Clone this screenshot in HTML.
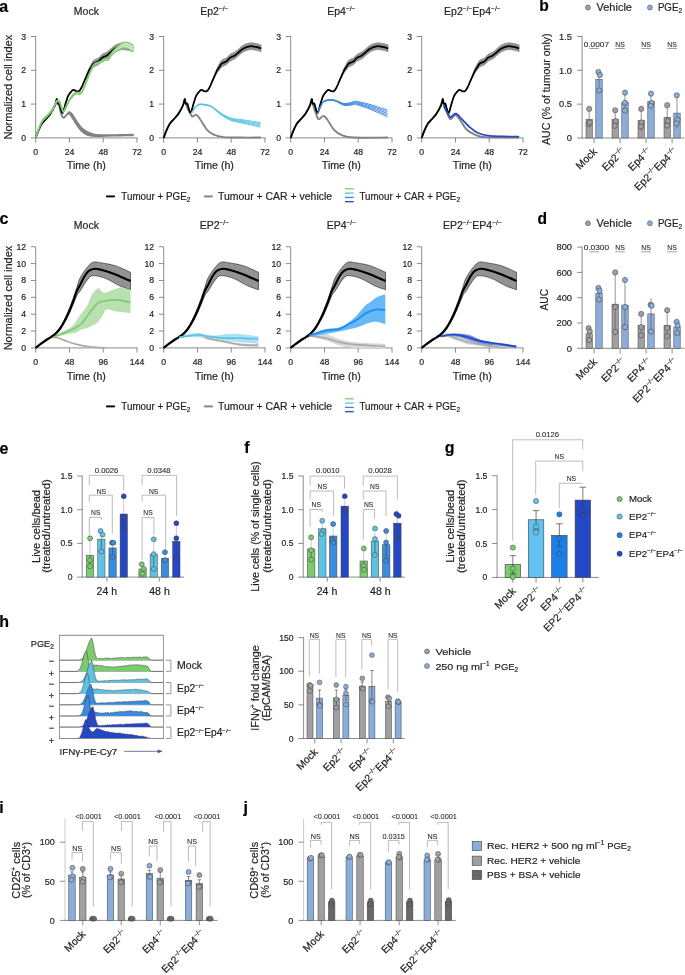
<!DOCTYPE html>
<html><head><meta charset="utf-8"><style>
html,body{margin:0;padding:0;background:#fff;width:685px;height:975px;overflow:hidden}
svg{display:block;will-change:transform}
text{font-family:"Liberation Sans", sans-serif;stroke:#231f20;stroke-width:0.2px;paint-order:stroke}
</style></head><body>
<svg width="685" height="975" viewBox="0 0 685 975">
<rect width="685" height="975" fill="#fff"/>
<text x="-0.8" y="11.8" font-size="16" text-anchor="start" fill="#000" font-weight="bold">a</text>
<line x1="35.7" y1="36" x2="35.7" y2="138.3" stroke="#6d6e71" stroke-width="0.8"/>
<line x1="35.3" y1="137.9" x2="137.4" y2="137.9" stroke="#6d6e71" stroke-width="0.8"/>
<line x1="30.8" y1="137.9" x2="35.7" y2="137.9" stroke="#6d6e71" stroke-width="0.8"/>
<text x="26.1" y="140.9" font-size="8.7" text-anchor="end" fill="#231f20">0</text>
<line x1="30.8" y1="104.1" x2="35.7" y2="104.1" stroke="#6d6e71" stroke-width="0.8"/>
<text x="26.1" y="107.1" font-size="8.7" text-anchor="end" fill="#231f20">1</text>
<line x1="30.8" y1="70.3" x2="35.7" y2="70.3" stroke="#6d6e71" stroke-width="0.8"/>
<text x="26.1" y="73.3" font-size="8.7" text-anchor="end" fill="#231f20">2</text>
<line x1="30.8" y1="36.5" x2="35.7" y2="36.5" stroke="#6d6e71" stroke-width="0.8"/>
<text x="26.1" y="39.5" font-size="8.7" text-anchor="end" fill="#231f20">3</text>
<line x1="35.7" y1="137.9" x2="35.7" y2="142.6" stroke="#6d6e71" stroke-width="0.8"/>
<text x="35.7" y="154.8" font-size="8.7" text-anchor="middle" fill="#231f20">0</text>
<line x1="69.47" y1="137.9" x2="69.47" y2="142.6" stroke="#6d6e71" stroke-width="0.8"/>
<text x="69.47" y="154.8" font-size="8.7" text-anchor="middle" fill="#231f20">24</text>
<line x1="103.23" y1="137.9" x2="103.23" y2="142.6" stroke="#6d6e71" stroke-width="0.8"/>
<text x="103.23" y="154.8" font-size="8.7" text-anchor="middle" fill="#231f20">48</text>
<line x1="137" y1="137.9" x2="137" y2="142.6" stroke="#6d6e71" stroke-width="0.8"/>
<text x="137" y="154.8" font-size="8.7" text-anchor="middle" fill="#231f20">72</text>
<text x="86.35" y="169.2" font-size="10.2" text-anchor="middle" fill="#231f20" textLength="39" lengthAdjust="spacingAndGlyphs">Time (h)</text>
<text x="86.35" y="14.6" font-size="10.5" text-anchor="middle" fill="#231f20"><tspan font-size="10.5" dy="0">Mock</tspan></text>
<path d="M35.7,137.9 C35.93,137.22 36.57,135.25 37.11,133.84 C37.65,132.44 38.15,131.14 38.94,129.45 C39.72,127.76 40.59,125.48 41.81,123.7 C43.02,121.93 44.74,120.52 46.21,118.8 C47.68,117.08 49.16,115.61 50.61,113.4 C52.07,111.18 53.91,107.9 54.93,105.49 C55.95,103.07 56.27,99.19 56.73,98.89 C57.2,98.6 57.3,102.89 57.73,103.69 C58.17,104.49 58.77,102.66 59.34,103.69 C59.9,104.73 60.55,108.38 61.14,109.91 C61.72,111.45 62.19,113.63 62.84,112.89 C63.49,112.15 64.15,108.32 65.03,105.49 C65.92,102.65 67.04,98.29 68.14,95.89 C69.25,93.49 70.7,92.08 71.65,91.09 C72.6,90.09 73.12,89.9 73.86,89.9 C74.59,89.9 75.25,90.86 76.05,91.09 C76.85,91.32 77.79,91.8 78.65,91.29 C79.52,90.78 80.24,89.96 81.26,88.01 C82.28,86.06 83.5,82.8 84.77,79.61 C86.05,76.41 87.78,71.48 88.88,68.84 C89.99,66.2 90.59,65.21 91.41,63.77 C92.24,62.32 92.59,61.16 93.81,60.16 C95.03,59.16 97.37,58.75 98.73,57.79 C100.09,56.84 100.61,55.37 101.97,54.41 C103.33,53.46 105.51,52.89 106.89,52.05 C108.27,51.2 108.91,50.47 110.27,49.34 C111.63,48.22 113.15,46.36 115.05,45.29 C116.95,44.22 119.46,43.2 121.66,42.92 C123.87,42.64 126.38,43.26 128.28,43.6 C130.18,43.94 132.26,44.72 133.06,44.95 L133.06,51.71 C132.26,51.48 130.18,50.7 128.28,50.36 C126.38,50.02 123.87,49.4 121.66,49.68 C119.46,49.96 116.95,50.98 115.05,52.05 C113.15,53.12 111.63,54.98 110.27,56.1 C108.91,57.23 108.27,57.96 106.89,58.81 C105.51,59.65 103.33,60.22 101.97,61.17 C100.61,62.13 100.09,63.6 98.73,64.55 C97.37,65.51 95.03,66 93.81,66.92 C92.59,67.84 92.24,69.04 91.41,70.07 C90.59,71.11 89.99,71.36 88.88,73.12 C87.78,74.87 86.05,78.12 84.77,80.6 C83.5,83.08 82.28,86.23 81.26,88.01 C80.24,89.79 79.52,90.78 78.65,91.29 C77.79,91.8 76.85,91.32 76.05,91.09 C75.25,90.86 74.59,89.9 73.86,89.9 C73.12,89.9 72.6,90.09 71.65,91.09 C70.7,92.08 69.25,93.49 68.14,95.89 C67.04,98.29 65.92,102.65 65.03,105.49 C64.15,108.32 63.49,112.15 62.84,112.89 C62.19,113.63 61.72,111.45 61.14,109.91 C60.55,108.38 59.9,104.73 59.34,103.69 C58.77,102.66 58.17,104.49 57.73,103.69 C57.3,102.89 57.2,98.6 56.73,98.89 C56.27,99.19 55.95,103.07 54.93,105.49 C53.91,107.9 52.07,111.18 50.61,113.4 C49.16,115.61 47.68,117.08 46.21,118.8 C44.74,120.52 43.02,121.93 41.81,123.7 C40.59,125.48 39.72,127.76 38.94,129.45 C38.15,131.14 37.65,132.44 37.11,133.84 C36.57,135.25 35.93,137.22 35.7,137.9 Z" fill="#8f8f8f" stroke="#8f8f8f" stroke-width="0.8"/>
<path d="M35.7,137.9 C35.93,137.22 36.57,135.25 37.11,133.84 C37.65,132.44 38.15,131.14 38.94,129.45 C39.72,127.76 40.59,125.48 41.81,123.7 C43.02,121.93 44.74,120.52 46.21,118.8 C47.68,117.08 49.16,115.61 50.61,113.4 C52.07,111.18 53.91,107.45 54.93,105.49 C55.95,103.52 56.07,101.6 56.73,101.6 C57.4,101.6 58.18,103.37 58.91,105.49 C59.65,107.6 60.37,112.26 61.17,114.31 C61.96,116.36 62.83,117.65 63.7,117.79 C64.57,117.92 65.48,116.04 66.37,115.12 C67.26,114.19 68.17,112.47 69.04,112.24 C69.92,112.02 70.47,112.38 71.65,113.77 C72.82,115.16 74.47,118.29 76.08,120.59 C77.69,122.9 79.41,125.68 81.28,127.59 C83.16,129.5 85.08,130.89 87.33,132.07 C89.59,133.25 91.67,134.15 94.79,134.67 C97.91,135.2 101.83,135.19 106.05,135.23 C110.27,135.27 115.61,134.99 120.12,134.89 C124.62,134.8 130.9,134.69 133.06,134.66 L133.06,135.26 C130.9,135.3 124.62,135.4 120.12,135.5 C115.61,135.6 110.27,135.72 106.05,135.84 C101.83,135.95 97.91,136.34 94.79,136.19 C91.67,136.04 89.59,135.86 87.33,134.94 C85.08,134.01 83.16,132.52 81.28,130.63 C79.41,128.75 77.69,126 76.08,123.64 C74.47,121.28 72.82,118.15 71.65,116.47 C70.47,114.79 69.92,113.76 69.04,113.53 C68.17,113.31 67.26,114.41 66.37,115.12 C65.48,115.83 64.57,117.92 63.7,117.79 C62.83,117.65 61.96,116.36 61.17,114.31 C60.37,112.26 59.65,107.6 58.91,105.49 C58.18,103.37 57.4,101.6 56.73,101.6 C56.07,101.6 55.95,103.52 54.93,105.49 C53.91,107.45 52.07,111.18 50.61,113.4 C49.16,115.61 47.68,117.08 46.21,118.8 C44.74,120.52 43.02,121.93 41.81,123.7 C40.59,125.48 39.72,127.76 38.94,129.45 C38.15,131.14 37.65,132.44 37.11,133.84 C36.57,135.25 35.93,137.22 35.7,137.9 Z" fill="#808285" stroke="#808285" stroke-width="1.8" stroke-linejoin="round"/>
<path d="M35.7,137.9 C35.93,137.22 36.57,135.25 37.11,133.84 C37.65,132.44 38.15,131.14 38.94,129.45 C39.72,127.76 40.59,125.48 41.81,123.7 C43.02,121.93 44.74,120.52 46.21,118.8 C47.68,117.08 49.16,115.61 50.61,113.4 C52.07,111.18 53.91,107.9 54.93,105.49 C55.95,103.07 56.27,99.19 56.73,98.89 C57.2,98.6 57.3,102.89 57.73,103.69 C58.17,104.49 58.77,102.66 59.34,103.69 C59.9,104.73 60.55,108.38 61.14,109.91 C61.72,111.45 62.19,113.63 62.84,112.89 C63.49,112.15 64.15,108.32 65.03,105.49 C65.92,102.65 67.04,98.29 68.14,95.89 C69.25,93.49 70.7,92.08 71.65,91.09 C72.6,90.09 73.12,89.9 73.86,89.9 C74.59,89.9 75.25,90.86 76.05,91.09 C76.85,91.32 77.79,91.8 78.65,91.29 C79.52,90.78 80.24,89.88 81.26,88.01 C82.28,86.15 83.5,82.94 84.77,80.1 C86.05,77.26 87.78,73.17 88.88,70.98 C89.99,68.78 90.59,68.16 91.41,66.92 C92.24,65.68 92.59,64.5 93.81,63.54 C95.03,62.58 97.37,62.13 98.73,61.17 C100.09,60.22 100.61,58.75 101.97,57.79 C103.33,56.84 105.51,56.27 106.89,55.43 C108.27,54.58 108.91,53.85 110.27,52.72 C111.63,51.6 113.15,49.74 115.05,48.67 C116.95,47.6 119.46,46.58 121.66,46.3 C123.87,46.02 126.38,46.64 128.28,46.98 C130.18,47.32 132.26,48.1 133.06,48.33" fill="none" stroke="#000" stroke-width="1.75" stroke-linejoin="round"/>
<path d="M35.7,137.16 C36.2,135.69 37.51,131.29 38.68,128.37 C39.85,125.45 41.17,121.98 42.71,119.65 C44.24,117.32 46.31,116.12 47.91,114.38 C49.51,112.63 50.98,111.21 52.3,109.17 C53.62,107.13 55.02,103.61 55.82,102.14 C56.62,100.67 56.5,100.56 57.09,100.35 C57.67,100.13 58.66,99.97 59.34,100.86 C60.02,101.74 60.51,103.99 61.17,105.65 C61.82,107.32 62.41,110.86 63.28,110.86 C64.14,110.86 65.27,107.69 66.37,105.65 C67.47,103.62 68.72,100.56 69.89,98.66 C71.06,96.76 72.23,95.36 73.41,94.26 C74.58,93.17 75.82,92.29 76.92,92.07 C78.03,91.85 79.06,93.32 80.02,92.95 C80.98,92.57 81.75,91.52 82.69,89.84 C83.63,88.15 83.93,86.9 85.65,82.84 C87.36,78.78 90.78,68.95 92.96,65.5 C95.14,62.05 96.67,63.25 98.73,62.12 C100.79,60.99 103.77,59.4 105.34,58.74 C106.91,58.08 107.08,59.24 108.16,58.18 C109.24,57.12 110.1,54.42 111.82,52.38 C113.53,50.34 116.51,47.55 118.43,45.94 C120.35,44.32 121.71,43.28 123.35,42.71 C124.99,42.14 126.66,42.08 128.28,42.53 C129.89,42.97 132.26,44.91 133.06,45.39 L133.06,51.95 C132.26,51.41 129.89,49.41 128.28,48.73 C126.66,48.05 124.99,47.65 123.35,47.87 C121.71,48.09 120.35,48.84 118.43,50.05 C116.51,51.25 113.53,53.42 111.82,55.09 C110.1,56.77 109.24,59.26 108.16,60.11 C107.08,60.97 106.91,59.65 105.34,60.23 C103.77,60.81 100.79,62.48 98.73,63.61 C96.67,64.73 95.14,63.53 92.96,66.99 C90.78,70.44 87.36,80.27 85.65,84.33 C83.93,88.38 83.63,89.64 82.69,91.32 C81.75,93.01 80.98,94.06 80.02,94.43 C79.06,94.81 78.03,93.33 76.92,93.55 C75.82,93.77 74.58,94.65 73.41,95.75 C72.23,96.85 71.06,98.25 69.89,100.15 C68.72,102.04 67.47,105.11 66.37,107.14 C65.27,109.18 64.14,112.35 63.28,112.35 C62.41,112.35 61.82,108.81 61.17,107.14 C60.51,105.47 60.02,103.23 59.34,102.34 C58.66,101.46 57.67,101.62 57.09,101.84 C56.5,102.05 56.62,102.16 55.82,103.63 C55.02,105.1 53.62,108.62 52.3,110.66 C50.98,112.7 49.51,114.12 47.91,115.86 C46.31,117.61 44.24,118.8 42.71,121.14 C41.17,123.47 39.85,126.94 38.68,129.86 C37.51,132.77 36.2,137.18 35.7,138.64 Z" fill="#c9e9bf" stroke="none"/>
<path d="M35.7,137.16 C36.2,135.69 37.51,131.29 38.68,128.37 C39.85,125.45 41.17,121.98 42.71,119.65 C44.24,117.32 46.31,116.12 47.91,114.38 C49.51,112.63 50.98,111.21 52.3,109.17 C53.62,107.13 55.02,103.61 55.82,102.14 C56.62,100.67 56.5,100.56 57.09,100.35 C57.67,100.13 58.66,99.97 59.34,100.86 C60.02,101.74 60.51,103.99 61.17,105.65 C61.82,107.32 62.41,110.86 63.28,110.86 C64.14,110.86 65.27,107.69 66.37,105.65 C67.47,103.62 68.72,100.56 69.89,98.66 C71.06,96.76 72.23,95.36 73.41,94.26 C74.58,93.17 75.82,92.29 76.92,92.07 C78.03,91.85 79.06,93.32 80.02,92.95 C80.98,92.57 81.75,91.52 82.69,89.84 C83.63,88.15 83.93,86.9 85.65,82.84 C87.36,78.78 90.78,68.95 92.96,65.5 C95.14,62.05 96.67,63.25 98.73,62.12 C100.79,60.99 103.77,59.4 105.34,58.74 C106.91,58.08 107.08,59.24 108.16,58.18 C109.24,57.12 110.1,54.42 111.82,52.38 C113.53,50.34 116.51,47.55 118.43,45.94 C120.35,44.32 121.71,43.28 123.35,42.71 C124.99,42.14 126.66,42.08 128.28,42.53 C129.89,42.97 132.26,44.91 133.06,45.39" fill="none" stroke="#7ccb6e" stroke-width="1.25" stroke-linejoin="round"/>
<path d="M35.7,138.64 C36.2,137.18 37.51,132.77 38.68,129.86 C39.85,126.94 41.17,123.47 42.71,121.14 C44.24,118.8 46.31,117.61 47.91,115.86 C49.51,114.12 50.98,112.7 52.3,110.66 C53.62,108.62 55.02,105.1 55.82,103.63 C56.62,102.16 56.5,102.05 57.09,101.84 C57.67,101.62 58.66,101.46 59.34,102.34 C60.02,103.23 60.51,105.47 61.17,107.14 C61.82,108.81 62.41,112.35 63.28,112.35 C64.14,112.35 65.27,109.18 66.37,107.14 C67.47,105.11 68.72,102.04 69.89,100.15 C71.06,98.25 72.23,96.85 73.41,95.75 C74.58,94.65 75.82,93.77 76.92,93.55 C78.03,93.33 79.06,94.81 80.02,94.43 C80.98,94.06 81.75,93.01 82.69,91.32 C83.63,89.64 83.93,88.38 85.65,84.33 C87.36,80.27 90.78,70.44 92.96,66.99 C95.14,63.53 96.67,64.73 98.73,63.61 C100.79,62.48 103.77,60.81 105.34,60.23 C106.91,59.65 107.08,60.97 108.16,60.11 C109.24,59.26 110.1,56.77 111.82,55.09 C113.53,53.42 116.51,51.25 118.43,50.05 C120.35,48.84 121.71,48.09 123.35,47.87 C124.99,47.65 126.66,48.05 128.28,48.73 C129.89,49.41 132.26,51.41 133.06,51.95" fill="none" stroke="#7ccb6e" stroke-width="1.25" stroke-linejoin="round"/>
<path d="M35.7,137.9 C36.2,136.44 37.51,132.03 38.68,129.11 C39.85,126.19 41.17,122.72 42.71,120.39 C44.24,118.06 46.31,116.87 47.91,115.12 C49.51,113.37 50.98,111.95 52.3,109.91 C53.62,107.87 55.02,104.35 55.82,102.88 C56.62,101.41 56.5,101.31 57.09,101.09 C57.67,100.88 58.66,100.71 59.34,101.6 C60.02,102.48 60.51,104.73 61.17,106.4 C61.82,108.07 62.41,111.6 63.28,111.6 C64.14,111.6 65.27,108.43 66.37,106.4 C67.47,104.36 68.72,101.3 69.89,99.4 C71.06,97.5 72.23,96.11 73.41,95.01 C74.58,93.91 75.82,93.03 76.92,92.81 C78.03,92.59 79.06,94.06 80.02,93.69 C80.98,93.32 81.75,92.26 82.69,90.58 C83.63,88.9 83.93,87.64 85.65,83.58 C87.36,79.53 90.78,69.7 92.96,66.24 C95.14,62.79 96.67,63.99 98.73,62.86 C100.79,61.74 103.77,60.1 105.34,59.48 C106.91,58.86 107.08,60.1 108.16,59.15 C109.24,58.19 110.1,55.6 111.82,53.74 C113.53,51.88 116.51,49.4 118.43,47.99 C120.35,46.58 121.71,45.68 123.35,45.29 C124.99,44.89 126.66,45.06 128.28,45.63 C129.89,46.19 132.26,48.16 133.06,48.67" fill="none" stroke="#7ccb6e" stroke-width="0.5" stroke-linejoin="round" opacity="0.6"/>
<line x1="163.7" y1="36" x2="163.7" y2="138.3" stroke="#6d6e71" stroke-width="0.8"/>
<line x1="163.3" y1="137.9" x2="265.4" y2="137.9" stroke="#6d6e71" stroke-width="0.8"/>
<line x1="158.8" y1="137.9" x2="163.7" y2="137.9" stroke="#6d6e71" stroke-width="0.8"/>
<text x="154.1" y="140.9" font-size="8.7" text-anchor="end" fill="#231f20">0</text>
<line x1="158.8" y1="104.1" x2="163.7" y2="104.1" stroke="#6d6e71" stroke-width="0.8"/>
<text x="154.1" y="107.1" font-size="8.7" text-anchor="end" fill="#231f20">1</text>
<line x1="158.8" y1="70.3" x2="163.7" y2="70.3" stroke="#6d6e71" stroke-width="0.8"/>
<text x="154.1" y="73.3" font-size="8.7" text-anchor="end" fill="#231f20">2</text>
<line x1="158.8" y1="36.5" x2="163.7" y2="36.5" stroke="#6d6e71" stroke-width="0.8"/>
<text x="154.1" y="39.5" font-size="8.7" text-anchor="end" fill="#231f20">3</text>
<line x1="163.7" y1="137.9" x2="163.7" y2="142.6" stroke="#6d6e71" stroke-width="0.8"/>
<text x="163.7" y="154.8" font-size="8.7" text-anchor="middle" fill="#231f20">0</text>
<line x1="197.47" y1="137.9" x2="197.47" y2="142.6" stroke="#6d6e71" stroke-width="0.8"/>
<text x="197.47" y="154.8" font-size="8.7" text-anchor="middle" fill="#231f20">24</text>
<line x1="231.23" y1="137.9" x2="231.23" y2="142.6" stroke="#6d6e71" stroke-width="0.8"/>
<text x="231.23" y="154.8" font-size="8.7" text-anchor="middle" fill="#231f20">48</text>
<line x1="265" y1="137.9" x2="265" y2="142.6" stroke="#6d6e71" stroke-width="0.8"/>
<text x="265" y="154.8" font-size="8.7" text-anchor="middle" fill="#231f20">72</text>
<text x="214.35" y="169.2" font-size="10.2" text-anchor="middle" fill="#231f20" textLength="39" lengthAdjust="spacingAndGlyphs">Time (h)</text>
<text x="214.35" y="14.6" font-size="10.5" text-anchor="middle" fill="#231f20"><tspan font-size="10.5" dy="0">Ep2</tspan><tspan font-size="6.6" dy="-3.6">−/−</tspan></text>
<path d="M163.7,137.9 C163.93,137.22 164.57,135.25 165.11,133.84 C165.65,132.44 166.15,131.14 166.94,129.45 C167.72,127.76 168.59,125.48 169.81,123.7 C171.02,121.93 172.74,120.52 174.21,118.8 C175.68,117.08 177.16,115.61 178.61,113.4 C180.07,111.18 181.91,107.9 182.93,105.49 C183.95,103.07 184.27,99.19 184.73,98.89 C185.2,98.6 185.3,102.89 185.73,103.69 C186.17,104.49 186.77,102.66 187.34,103.69 C187.9,104.73 188.55,108.38 189.14,109.91 C189.72,111.45 190.19,113.63 190.84,112.89 C191.49,112.15 192.15,108.32 193.03,105.49 C193.92,102.65 195.04,98.29 196.14,95.89 C197.25,93.49 198.7,92.08 199.65,91.09 C200.6,90.09 201.12,89.9 201.86,89.9 C202.59,89.9 203.25,90.86 204.05,91.09 C204.85,91.32 205.79,91.8 206.65,91.29 C207.52,90.78 208.24,89.96 209.26,88.01 C210.28,86.06 211.5,82.8 212.77,79.61 C214.05,76.41 215.78,71.48 216.88,68.84 C217.99,66.2 218.59,65.21 219.41,63.77 C220.24,62.32 220.59,61.16 221.81,60.16 C223.03,59.16 225.37,58.75 226.73,57.79 C228.09,56.84 228.61,55.37 229.97,54.41 C231.33,53.46 233.51,52.89 234.89,52.05 C236.27,51.2 236.91,50.47 238.27,49.34 C239.63,48.22 241.15,46.36 243.05,45.29 C244.95,44.22 247.46,43.2 249.66,42.92 C251.87,42.64 254.38,43.26 256.28,43.6 C258.18,43.94 260.26,44.72 261.06,44.95 L261.06,51.71 C260.26,51.48 258.18,50.7 256.28,50.36 C254.38,50.02 251.87,49.4 249.66,49.68 C247.46,49.96 244.95,50.98 243.05,52.05 C241.15,53.12 239.63,54.98 238.27,56.1 C236.91,57.23 236.27,57.96 234.89,58.81 C233.51,59.65 231.33,60.22 229.97,61.17 C228.61,62.13 228.09,63.6 226.73,64.55 C225.37,65.51 223.03,66 221.81,66.92 C220.59,67.84 220.24,69.04 219.41,70.07 C218.59,71.11 217.99,71.36 216.88,73.12 C215.78,74.87 214.05,78.12 212.77,80.6 C211.5,83.08 210.28,86.23 209.26,88.01 C208.24,89.79 207.52,90.78 206.65,91.29 C205.79,91.8 204.85,91.32 204.05,91.09 C203.25,90.86 202.59,89.9 201.86,89.9 C201.12,89.9 200.6,90.09 199.65,91.09 C198.7,92.08 197.25,93.49 196.14,95.89 C195.04,98.29 193.92,102.65 193.03,105.49 C192.15,108.32 191.49,112.15 190.84,112.89 C190.19,113.63 189.72,111.45 189.14,109.91 C188.55,108.38 187.9,104.73 187.34,103.69 C186.77,102.66 186.17,104.49 185.73,103.69 C185.3,102.89 185.2,98.6 184.73,98.89 C184.27,99.19 183.95,103.07 182.93,105.49 C181.91,107.9 180.07,111.18 178.61,113.4 C177.16,115.61 175.68,117.08 174.21,118.8 C172.74,120.52 171.02,121.93 169.81,123.7 C168.59,125.48 167.72,127.76 166.94,129.45 C166.15,131.14 165.65,132.44 165.11,133.84 C164.57,135.25 163.93,137.22 163.7,137.9 Z" fill="#8f8f8f" stroke="#8f8f8f" stroke-width="0.8"/>
<path d="M163.7,137.9 C163.93,137.22 164.57,135.25 165.11,133.84 C165.65,132.44 166.15,131.14 166.94,129.45 C167.72,127.76 168.59,125.48 169.81,123.7 C171.02,121.93 172.74,120.52 174.21,118.8 C175.68,117.08 177.16,115.61 178.61,113.4 C180.07,111.18 181.9,107.37 182.93,105.49 C183.96,103.6 183.98,101.46 184.8,102.07 C185.63,102.69 186.91,107.14 187.9,109.17 C188.88,111.2 189.96,113 190.71,114.24 C191.46,115.48 191.44,116.49 192.4,116.61 C193.36,116.72 195.12,114.35 196.48,114.92 C197.84,115.48 198.8,117.51 200.56,119.99 C202.32,122.46 204.85,127.35 207.03,129.79 C209.21,132.23 210.9,133.4 213.65,134.62 C216.39,135.84 218.92,136.6 223.5,137.09 C228.07,137.58 234.94,137.48 241.08,137.56 C247.23,137.64 257.14,137.56 260.36,137.56" fill="none" stroke="#808285" stroke-width="1.9" stroke-linejoin="round" stroke-linecap="round"/>
<path d="M163.7,137.9 C163.93,137.22 164.57,135.25 165.11,133.84 C165.65,132.44 166.15,131.14 166.94,129.45 C167.72,127.76 168.59,125.48 169.81,123.7 C171.02,121.93 172.74,120.52 174.21,118.8 C175.68,117.08 177.16,115.61 178.61,113.4 C180.07,111.18 181.91,107.9 182.93,105.49 C183.95,103.07 184.27,99.19 184.73,98.89 C185.2,98.6 185.3,102.89 185.73,103.69 C186.17,104.49 186.77,102.66 187.34,103.69 C187.9,104.73 188.55,108.38 189.14,109.91 C189.72,111.45 190.19,113.63 190.84,112.89 C191.49,112.15 192.15,108.32 193.03,105.49 C193.92,102.65 195.04,98.29 196.14,95.89 C197.25,93.49 198.7,92.08 199.65,91.09 C200.6,90.09 201.12,89.9 201.86,89.9 C202.59,89.9 203.25,90.86 204.05,91.09 C204.85,91.32 205.79,91.8 206.65,91.29 C207.52,90.78 208.24,89.88 209.26,88.01 C210.28,86.15 211.5,82.94 212.77,80.1 C214.05,77.26 215.78,73.17 216.88,70.98 C217.99,68.78 218.59,68.16 219.41,66.92 C220.24,65.68 220.59,64.5 221.81,63.54 C223.03,62.58 225.37,62.13 226.73,61.17 C228.09,60.22 228.61,58.75 229.97,57.79 C231.33,56.84 233.51,56.27 234.89,55.43 C236.27,54.58 236.91,53.85 238.27,52.72 C239.63,51.6 241.15,49.74 243.05,48.67 C244.95,47.6 247.46,46.58 249.66,46.3 C251.87,46.02 254.38,46.64 256.28,46.98 C258.18,47.32 260.26,48.1 261.06,48.33" fill="none" stroke="#000" stroke-width="1.75" stroke-linejoin="round"/>
<path d="M190.71,114.52 C191.25,113.68 192.73,111.01 193.95,109.45 C195.17,107.89 196.67,105.95 198.03,105.16 C199.39,104.37 200.61,104.67 202.11,104.72 C203.61,104.78 205.39,105.07 207.03,105.5 C208.68,105.93 209.78,105.85 211.96,107.29 C214.14,108.73 217.66,112.27 220.12,114.14 C222.58,116 224.53,117.3 226.73,118.48 C228.94,119.66 230.62,120.42 233.34,121.21 C236.06,122 238.55,122.22 243.05,123.21 C247.55,124.21 257.47,126.51 260.36,127.17" fill="none" stroke="#5bc3e2" stroke-width="0.95" stroke-linejoin="round"/>
<path d="M190.71,114.38 C191.25,113.54 192.73,110.87 193.95,109.31 C195.17,107.75 196.67,105.81 198.03,105.02 C199.39,104.23 200.61,104.52 202.11,104.58 C203.61,104.64 205.39,104.94 207.03,105.36 C208.68,105.77 209.78,105.67 211.96,107.07 C214.14,108.46 217.66,111.93 220.12,113.75 C222.58,115.57 224.53,116.83 226.73,117.97 C228.94,119.1 230.62,119.83 233.34,120.56 C236.06,121.3 238.55,121.47 243.05,122.38 C247.55,123.28 257.47,125.39 260.36,125.99" fill="none" stroke="#5bc3e2" stroke-width="0.95" stroke-linejoin="round"/>
<path d="M190.71,114.24 C191.25,113.4 192.73,110.73 193.95,109.17 C195.17,107.61 196.67,105.67 198.03,104.88 C199.39,104.09 200.61,104.38 202.11,104.44 C203.61,104.49 205.39,104.82 207.03,105.22 C208.68,105.62 209.78,105.48 211.96,106.84 C214.14,108.2 217.66,111.59 220.12,113.36 C222.58,115.13 224.53,116.36 226.73,117.45 C228.94,118.54 230.62,119.24 233.34,119.92 C236.06,120.6 238.55,120.72 243.05,121.54 C247.55,122.36 257.47,124.27 260.36,124.82" fill="none" stroke="#5bc3e2" stroke-width="0.95" stroke-linejoin="round"/>
<path d="M190.71,114.1 C191.25,113.25 192.73,110.59 193.95,109.03 C195.17,107.47 196.67,105.52 198.03,104.74 C199.39,103.95 200.61,104.24 202.11,104.3 C203.61,104.35 205.39,104.69 207.03,105.07 C208.68,105.46 209.78,105.29 211.96,106.61 C214.14,107.93 217.66,111.25 220.12,112.97 C222.58,114.69 224.53,115.88 226.73,116.93 C228.94,117.98 230.62,118.64 233.34,119.27 C236.06,119.9 238.55,119.98 243.05,120.7 C247.55,121.43 257.47,123.15 260.36,123.64" fill="none" stroke="#5bc3e2" stroke-width="0.95" stroke-linejoin="round"/>
<path d="M190.71,113.96 C191.25,113.11 192.73,110.45 193.95,108.89 C195.17,107.33 196.67,105.38 198.03,104.59 C199.39,103.8 200.61,104.1 202.11,104.15 C203.61,104.21 205.39,104.56 207.03,104.93 C208.68,105.3 209.78,105.11 211.96,106.38 C214.14,107.66 217.66,110.91 220.12,112.59 C222.58,114.26 224.53,115.41 226.73,116.42 C228.94,117.42 230.62,118.05 233.34,118.63 C236.06,119.2 238.55,119.23 243.05,119.87 C247.55,120.51 257.47,122.04 260.36,122.47" fill="none" stroke="#5bc3e2" stroke-width="0.95" stroke-linejoin="round"/>
<line x1="290.7" y1="36" x2="290.7" y2="138.3" stroke="#6d6e71" stroke-width="0.8"/>
<line x1="290.3" y1="137.9" x2="392.4" y2="137.9" stroke="#6d6e71" stroke-width="0.8"/>
<line x1="285.8" y1="137.9" x2="290.7" y2="137.9" stroke="#6d6e71" stroke-width="0.8"/>
<text x="281.1" y="140.9" font-size="8.7" text-anchor="end" fill="#231f20">0</text>
<line x1="285.8" y1="104.1" x2="290.7" y2="104.1" stroke="#6d6e71" stroke-width="0.8"/>
<text x="281.1" y="107.1" font-size="8.7" text-anchor="end" fill="#231f20">1</text>
<line x1="285.8" y1="70.3" x2="290.7" y2="70.3" stroke="#6d6e71" stroke-width="0.8"/>
<text x="281.1" y="73.3" font-size="8.7" text-anchor="end" fill="#231f20">2</text>
<line x1="285.8" y1="36.5" x2="290.7" y2="36.5" stroke="#6d6e71" stroke-width="0.8"/>
<text x="281.1" y="39.5" font-size="8.7" text-anchor="end" fill="#231f20">3</text>
<line x1="290.7" y1="137.9" x2="290.7" y2="142.6" stroke="#6d6e71" stroke-width="0.8"/>
<text x="290.7" y="154.8" font-size="8.7" text-anchor="middle" fill="#231f20">0</text>
<line x1="324.47" y1="137.9" x2="324.47" y2="142.6" stroke="#6d6e71" stroke-width="0.8"/>
<text x="324.47" y="154.8" font-size="8.7" text-anchor="middle" fill="#231f20">24</text>
<line x1="358.23" y1="137.9" x2="358.23" y2="142.6" stroke="#6d6e71" stroke-width="0.8"/>
<text x="358.23" y="154.8" font-size="8.7" text-anchor="middle" fill="#231f20">48</text>
<line x1="392" y1="137.9" x2="392" y2="142.6" stroke="#6d6e71" stroke-width="0.8"/>
<text x="392" y="154.8" font-size="8.7" text-anchor="middle" fill="#231f20">72</text>
<text x="341.35" y="169.2" font-size="10.2" text-anchor="middle" fill="#231f20" textLength="39" lengthAdjust="spacingAndGlyphs">Time (h)</text>
<text x="341.35" y="14.6" font-size="10.5" text-anchor="middle" fill="#231f20"><tspan font-size="10.5" dy="0">Ep4</tspan><tspan font-size="6.6" dy="-3.6">−/−</tspan></text>
<path d="M290.7,137.9 C290.93,137.22 291.57,135.25 292.11,133.84 C292.65,132.44 293.15,131.14 293.94,129.45 C294.72,127.76 295.59,125.48 296.81,123.7 C298.02,121.93 299.74,120.52 301.21,118.8 C302.68,117.08 304.16,115.61 305.61,113.4 C307.07,111.18 308.91,107.9 309.93,105.49 C310.95,103.07 311.27,99.19 311.73,98.89 C312.2,98.6 312.3,102.89 312.73,103.69 C313.17,104.49 313.77,102.66 314.34,103.69 C314.9,104.73 315.55,108.38 316.14,109.91 C316.72,111.45 317.19,113.63 317.84,112.89 C318.49,112.15 319.15,108.32 320.03,105.49 C320.92,102.65 322.04,98.29 323.14,95.89 C324.25,93.49 325.7,92.08 326.65,91.09 C327.6,90.09 328.12,89.9 328.86,89.9 C329.59,89.9 330.25,90.86 331.05,91.09 C331.85,91.32 332.79,91.8 333.65,91.29 C334.52,90.78 335.24,89.96 336.26,88.01 C337.28,86.06 338.5,82.8 339.77,79.61 C341.05,76.41 342.78,71.48 343.88,68.84 C344.99,66.2 345.59,65.21 346.41,63.77 C347.24,62.32 347.59,61.16 348.81,60.16 C350.03,59.16 352.37,58.75 353.73,57.79 C355.09,56.84 355.61,55.37 356.97,54.41 C358.33,53.46 360.51,52.89 361.89,52.05 C363.27,51.2 363.91,50.47 365.27,49.34 C366.63,48.22 368.15,46.36 370.05,45.29 C371.95,44.22 374.46,43.2 376.66,42.92 C378.87,42.64 381.38,43.26 383.28,43.6 C385.18,43.94 387.26,44.72 388.06,44.95 L388.06,51.71 C387.26,51.48 385.18,50.7 383.28,50.36 C381.38,50.02 378.87,49.4 376.66,49.68 C374.46,49.96 371.95,50.98 370.05,52.05 C368.15,53.12 366.63,54.98 365.27,56.1 C363.91,57.23 363.27,57.96 361.89,58.81 C360.51,59.65 358.33,60.22 356.97,61.17 C355.61,62.13 355.09,63.6 353.73,64.55 C352.37,65.51 350.03,66 348.81,66.92 C347.59,67.84 347.24,69.04 346.41,70.07 C345.59,71.11 344.99,71.36 343.88,73.12 C342.78,74.87 341.05,78.12 339.77,80.6 C338.5,83.08 337.28,86.23 336.26,88.01 C335.24,89.79 334.52,90.78 333.65,91.29 C332.79,91.8 331.85,91.32 331.05,91.09 C330.25,90.86 329.59,89.9 328.86,89.9 C328.12,89.9 327.6,90.09 326.65,91.09 C325.7,92.08 324.25,93.49 323.14,95.89 C322.04,98.29 320.92,102.65 320.03,105.49 C319.15,108.32 318.49,112.15 317.84,112.89 C317.19,113.63 316.72,111.45 316.14,109.91 C315.55,108.38 314.9,104.73 314.34,103.69 C313.77,102.66 313.17,104.49 312.73,103.69 C312.3,102.89 312.2,98.6 311.73,98.89 C311.27,99.19 310.95,103.07 309.93,105.49 C308.91,107.9 307.07,111.18 305.61,113.4 C304.16,115.61 302.68,117.08 301.21,118.8 C299.74,120.52 298.02,121.93 296.81,123.7 C295.59,125.48 294.72,127.76 293.94,129.45 C293.15,131.14 292.65,132.44 292.11,133.84 C291.57,135.25 290.93,137.22 290.7,137.9 Z" fill="#8f8f8f" stroke="#8f8f8f" stroke-width="0.8"/>
<path d="M290.7,137.9 C290.93,137.22 291.57,135.25 292.11,133.84 C292.65,132.44 293.15,131.14 293.94,129.45 C294.72,127.76 295.59,125.48 296.81,123.7 C298.02,121.93 299.74,120.52 301.21,118.8 C302.68,117.08 304.16,115.61 305.61,113.4 C307.07,111.18 308.9,107.37 309.93,105.49 C310.96,103.6 310.91,101.06 311.8,102.07 C312.7,103.08 314.2,108.7 315.32,111.54 C316.45,114.38 317.2,118.39 318.56,119.11 C319.92,119.82 321.98,115.68 323.48,115.83 C324.98,115.98 325.8,117.66 327.56,119.99 C329.32,122.31 331.57,127.21 334.03,129.79 C336.5,132.36 339.05,134.14 342.33,135.43 C345.62,136.73 346.23,137.21 353.73,137.56 C361.23,137.92 381.75,137.56 387.36,137.56" fill="none" stroke="#808285" stroke-width="1.9" stroke-linejoin="round" stroke-linecap="round"/>
<path d="M290.7,137.9 C290.93,137.22 291.57,135.25 292.11,133.84 C292.65,132.44 293.15,131.14 293.94,129.45 C294.72,127.76 295.59,125.48 296.81,123.7 C298.02,121.93 299.74,120.52 301.21,118.8 C302.68,117.08 304.16,115.61 305.61,113.4 C307.07,111.18 308.91,107.9 309.93,105.49 C310.95,103.07 311.27,99.19 311.73,98.89 C312.2,98.6 312.3,102.89 312.73,103.69 C313.17,104.49 313.77,102.66 314.34,103.69 C314.9,104.73 315.55,108.38 316.14,109.91 C316.72,111.45 317.19,113.63 317.84,112.89 C318.49,112.15 319.15,108.32 320.03,105.49 C320.92,102.65 322.04,98.29 323.14,95.89 C324.25,93.49 325.7,92.08 326.65,91.09 C327.6,90.09 328.12,89.9 328.86,89.9 C329.59,89.9 330.25,90.86 331.05,91.09 C331.85,91.32 332.79,91.8 333.65,91.29 C334.52,90.78 335.24,89.88 336.26,88.01 C337.28,86.15 338.5,82.94 339.77,80.1 C341.05,77.26 342.78,73.17 343.88,70.98 C344.99,68.78 345.59,68.16 346.41,66.92 C347.24,65.68 347.59,64.5 348.81,63.54 C350.03,62.58 352.37,62.13 353.73,61.17 C355.09,60.22 355.61,58.75 356.97,57.79 C358.33,56.84 360.51,56.27 361.89,55.43 C363.27,54.58 363.91,53.85 365.27,52.72 C366.63,51.6 368.15,49.74 370.05,48.67 C371.95,47.6 374.46,46.58 376.66,46.3 C378.87,46.02 381.38,46.64 383.28,46.98 C385.18,47.32 387.26,48.1 388.06,48.33" fill="none" stroke="#000" stroke-width="1.75" stroke-linejoin="round"/>
<path d="M317.71,113.77 C318.21,112.62 319.57,108.91 320.67,106.87 C321.77,104.83 322.1,102.56 324.33,101.53 C326.55,100.5 330.77,100.06 334.03,100.69 C337.29,101.31 340.88,104.59 343.88,105.3 C346.88,106 350.12,105.1 352.04,104.94 C353.97,104.78 353.78,104.08 355.42,104.32 C357.06,104.56 359.45,105.55 361.89,106.37 C364.33,107.19 365.81,107.5 370.05,109.23 C374.3,110.95 384.47,115.47 387.36,116.72" fill="none" stroke="#3d86dc" stroke-width="0.95" stroke-linejoin="round"/>
<path d="M317.71,113.56 C318.21,112.41 319.57,108.71 320.67,106.67 C321.77,104.63 322.1,102.36 324.33,101.33 C326.55,100.3 330.77,99.9 334.03,100.48 C337.29,101.07 340.88,104.21 343.88,104.83 C346.88,105.46 350.12,104.47 352.04,104.25 C353.97,104.03 353.78,103.34 355.42,103.53 C357.06,103.73 359.45,104.65 361.89,105.4 C364.33,106.15 365.81,106.43 370.05,108.03 C374.3,109.64 384.47,113.87 387.36,115.04" fill="none" stroke="#3d86dc" stroke-width="0.95" stroke-linejoin="round"/>
<path d="M317.71,113.36 C318.21,112.21 319.57,108.51 320.67,106.47 C321.77,104.43 322.1,102.16 324.33,101.13 C326.55,100.09 330.77,99.74 334.03,100.28 C337.29,100.82 340.88,103.82 343.88,104.37 C346.88,104.92 350.12,103.83 352.04,103.56 C353.97,103.29 353.78,102.6 355.42,102.75 C357.06,102.89 359.45,103.76 361.89,104.44 C364.33,105.12 365.81,105.35 370.05,106.84 C374.3,108.33 384.47,112.27 387.36,113.36" fill="none" stroke="#3d86dc" stroke-width="0.95" stroke-linejoin="round"/>
<path d="M317.71,113.16 C318.21,112.01 319.57,108.3 320.67,106.26 C321.77,104.22 322.1,101.95 324.33,100.92 C326.55,99.89 330.77,99.58 334.03,100.08 C337.29,100.58 340.88,103.44 343.88,103.91 C346.88,104.37 350.12,103.19 352.04,102.87 C353.97,102.54 353.78,101.86 355.42,101.96 C357.06,102.06 359.45,102.86 361.89,103.47 C364.33,104.09 365.81,104.28 370.05,105.64 C374.3,107.01 384.47,110.68 387.36,111.68" fill="none" stroke="#3d86dc" stroke-width="0.95" stroke-linejoin="round"/>
<path d="M317.71,112.96 C318.21,111.81 319.57,108.1 320.67,106.06 C321.77,104.02 322.1,101.75 324.33,100.72 C326.55,99.69 330.77,99.42 334.03,99.88 C337.29,100.33 340.88,103.06 343.88,103.45 C346.88,103.83 350.12,102.56 352.04,102.18 C353.97,101.8 353.78,101.12 355.42,101.18 C357.06,101.23 359.45,101.96 361.89,102.51 C364.33,103.05 365.81,103.2 370.05,104.45 C374.3,105.7 384.47,109.08 387.36,110" fill="none" stroke="#3d86dc" stroke-width="0.95" stroke-linejoin="round"/>
<line x1="421.7" y1="36" x2="421.7" y2="138.3" stroke="#6d6e71" stroke-width="0.8"/>
<line x1="421.3" y1="137.9" x2="523.4" y2="137.9" stroke="#6d6e71" stroke-width="0.8"/>
<line x1="416.8" y1="137.9" x2="421.7" y2="137.9" stroke="#6d6e71" stroke-width="0.8"/>
<text x="412.1" y="140.9" font-size="8.7" text-anchor="end" fill="#231f20">0</text>
<line x1="416.8" y1="104.1" x2="421.7" y2="104.1" stroke="#6d6e71" stroke-width="0.8"/>
<text x="412.1" y="107.1" font-size="8.7" text-anchor="end" fill="#231f20">1</text>
<line x1="416.8" y1="70.3" x2="421.7" y2="70.3" stroke="#6d6e71" stroke-width="0.8"/>
<text x="412.1" y="73.3" font-size="8.7" text-anchor="end" fill="#231f20">2</text>
<line x1="416.8" y1="36.5" x2="421.7" y2="36.5" stroke="#6d6e71" stroke-width="0.8"/>
<text x="412.1" y="39.5" font-size="8.7" text-anchor="end" fill="#231f20">3</text>
<line x1="421.7" y1="137.9" x2="421.7" y2="142.6" stroke="#6d6e71" stroke-width="0.8"/>
<text x="421.7" y="154.8" font-size="8.7" text-anchor="middle" fill="#231f20">0</text>
<line x1="455.47" y1="137.9" x2="455.47" y2="142.6" stroke="#6d6e71" stroke-width="0.8"/>
<text x="455.47" y="154.8" font-size="8.7" text-anchor="middle" fill="#231f20">24</text>
<line x1="489.23" y1="137.9" x2="489.23" y2="142.6" stroke="#6d6e71" stroke-width="0.8"/>
<text x="489.23" y="154.8" font-size="8.7" text-anchor="middle" fill="#231f20">48</text>
<line x1="523" y1="137.9" x2="523" y2="142.6" stroke="#6d6e71" stroke-width="0.8"/>
<text x="523" y="154.8" font-size="8.7" text-anchor="middle" fill="#231f20">72</text>
<text x="472.35" y="169.2" font-size="10.2" text-anchor="middle" fill="#231f20" textLength="39" lengthAdjust="spacingAndGlyphs">Time (h)</text>
<text x="472.35" y="14.6" font-size="10.5" text-anchor="middle" fill="#231f20"><tspan font-size="10.5" dy="0">Ep2</tspan><tspan font-size="6.6" dy="-3.6">−/−</tspan><tspan font-size="10.5" dy="3.6">Ep4</tspan><tspan font-size="6.6" dy="-3.6">−/−</tspan></text>
<path d="M421.7,137.9 C421.93,137.22 422.57,135.25 423.11,133.84 C423.65,132.44 424.15,131.14 424.94,129.45 C425.72,127.76 426.59,125.48 427.81,123.7 C429.02,121.93 430.74,120.52 432.21,118.8 C433.68,117.08 435.16,115.61 436.61,113.4 C438.07,111.18 439.91,107.9 440.93,105.49 C441.95,103.07 442.27,99.19 442.73,98.89 C443.2,98.6 443.3,102.89 443.73,103.69 C444.17,104.49 444.77,102.66 445.34,103.69 C445.9,104.73 446.55,108.38 447.14,109.91 C447.72,111.45 448.19,113.63 448.84,112.89 C449.49,112.15 450.15,108.32 451.03,105.49 C451.92,102.65 453.04,98.29 454.14,95.89 C455.25,93.49 456.7,92.08 457.65,91.09 C458.6,90.09 459.12,89.9 459.86,89.9 C460.59,89.9 461.25,90.86 462.05,91.09 C462.85,91.32 463.79,91.8 464.65,91.29 C465.52,90.78 466.24,89.96 467.26,88.01 C468.28,86.06 469.5,82.8 470.77,79.61 C472.05,76.41 473.78,71.48 474.88,68.84 C475.99,66.2 476.59,65.21 477.41,63.77 C478.24,62.32 478.59,61.16 479.81,60.16 C481.03,59.16 483.37,58.75 484.73,57.79 C486.09,56.84 486.61,55.37 487.97,54.41 C489.33,53.46 491.51,52.89 492.89,52.05 C494.27,51.2 494.91,50.47 496.27,49.34 C497.63,48.22 499.15,46.36 501.05,45.29 C502.95,44.22 505.46,43.2 507.66,42.92 C509.87,42.64 512.38,43.26 514.28,43.6 C516.18,43.94 518.26,44.72 519.06,44.95 L519.06,51.71 C518.26,51.48 516.18,50.7 514.28,50.36 C512.38,50.02 509.87,49.4 507.66,49.68 C505.46,49.96 502.95,50.98 501.05,52.05 C499.15,53.12 497.63,54.98 496.27,56.1 C494.91,57.23 494.27,57.96 492.89,58.81 C491.51,59.65 489.33,60.22 487.97,61.17 C486.61,62.13 486.09,63.6 484.73,64.55 C483.37,65.51 481.03,66 479.81,66.92 C478.59,67.84 478.24,69.04 477.41,70.07 C476.59,71.11 475.99,71.36 474.88,73.12 C473.78,74.87 472.05,78.12 470.77,80.6 C469.5,83.08 468.28,86.23 467.26,88.01 C466.24,89.79 465.52,90.78 464.65,91.29 C463.79,91.8 462.85,91.32 462.05,91.09 C461.25,90.86 460.59,89.9 459.86,89.9 C459.12,89.9 458.6,90.09 457.65,91.09 C456.7,92.08 455.25,93.49 454.14,95.89 C453.04,98.29 451.92,102.65 451.03,105.49 C450.15,108.32 449.49,112.15 448.84,112.89 C448.19,113.63 447.72,111.45 447.14,109.91 C446.55,108.38 445.9,104.73 445.34,103.69 C444.77,102.66 444.17,104.49 443.73,103.69 C443.3,102.89 443.2,98.6 442.73,98.89 C442.27,99.19 441.95,103.07 440.93,105.49 C439.91,107.9 438.07,111.18 436.61,113.4 C435.16,115.61 433.68,117.08 432.21,118.8 C430.74,120.52 429.02,121.93 427.81,123.7 C426.59,125.48 425.72,127.76 424.94,129.45 C424.15,131.14 423.65,132.44 423.11,133.84 C422.57,135.25 421.93,137.22 421.7,137.9 Z" fill="#8f8f8f" stroke="#8f8f8f" stroke-width="0.8"/>
<path d="M421.7,137.9 C421.93,137.22 422.57,135.25 423.11,133.84 C423.65,132.44 424.15,131.14 424.94,129.45 C425.72,127.76 426.59,125.48 427.81,123.7 C429.02,121.93 430.74,120.52 432.21,118.8 C433.68,117.08 435.16,115.61 436.61,113.4 C438.07,111.18 439.9,107.37 440.93,105.49 C441.96,103.6 441.84,100.95 442.8,102.07 C443.77,103.19 445.48,109.37 446.74,112.21 C448.01,115.05 448.97,118.64 450.4,119.11 C451.83,119.57 453.71,114.87 455.33,115.02 C456.94,115.16 458.21,117.52 460.11,119.99 C462.01,122.45 464.26,127.35 466.72,129.79 C469.18,132.23 471.88,133.4 474.88,134.62 C477.88,135.84 477.49,136.6 484.73,137.09 C491.98,137.58 512.75,137.48 518.36,137.56" fill="none" stroke="#808285" stroke-width="1.9" stroke-linejoin="round" stroke-linecap="round"/>
<path d="M421.7,137.9 C421.93,137.22 422.57,135.25 423.11,133.84 C423.65,132.44 424.15,131.14 424.94,129.45 C425.72,127.76 426.59,125.48 427.81,123.7 C429.02,121.93 430.74,120.52 432.21,118.8 C433.68,117.08 435.16,115.61 436.61,113.4 C438.07,111.18 439.91,107.9 440.93,105.49 C441.95,103.07 442.27,99.19 442.73,98.89 C443.2,98.6 443.3,102.89 443.73,103.69 C444.17,104.49 444.77,102.66 445.34,103.69 C445.9,104.73 446.55,108.38 447.14,109.91 C447.72,111.45 448.19,113.63 448.84,112.89 C449.49,112.15 450.15,108.32 451.03,105.49 C451.92,102.65 453.04,98.29 454.14,95.89 C455.25,93.49 456.7,92.08 457.65,91.09 C458.6,90.09 459.12,89.9 459.86,89.9 C460.59,89.9 461.25,90.86 462.05,91.09 C462.85,91.32 463.79,91.8 464.65,91.29 C465.52,90.78 466.24,89.88 467.26,88.01 C468.28,86.15 469.5,82.94 470.77,80.1 C472.05,77.26 473.78,73.17 474.88,70.98 C475.99,68.78 476.59,68.16 477.41,66.92 C478.24,65.68 478.59,64.5 479.81,63.54 C481.03,62.58 483.37,62.13 484.73,61.17 C486.09,60.22 486.61,58.75 487.97,57.79 C489.33,56.84 491.51,56.27 492.89,55.43 C494.27,54.58 494.91,53.85 496.27,52.72 C497.63,51.6 499.15,49.74 501.05,48.67 C502.95,47.6 505.46,46.58 507.66,46.3 C509.87,46.02 512.38,46.64 514.28,46.98 C516.18,47.32 518.26,48.1 519.06,48.33" fill="none" stroke="#000" stroke-width="1.75" stroke-linejoin="round"/>
<path d="M443.79,106.03 C444.33,107 445.92,110.03 447.02,111.87 C448.13,113.72 449.42,116.55 450.4,117.11 C451.39,117.68 452.11,115.85 452.93,115.25 C453.75,114.66 454.53,113.68 455.33,113.56 C456.12,113.45 456.64,113.65 457.72,114.58 C458.8,115.5 459.76,116.99 461.8,119.11 C463.84,121.23 467.24,124.97 469.96,127.29 C472.68,129.6 474.84,131.56 478.12,133 C481.4,134.44 485.46,135.38 489.66,135.94 C493.85,136.5 498.52,136.27 503.3,136.38 C508.09,136.49 515.85,136.55 518.36,136.58" fill="none" stroke="#2547c7" stroke-width="1.7" stroke-linejoin="round" stroke-linecap="round"/>
<text x="12.2" y="87.15" font-size="10.8" text-anchor="middle" fill="#231f20" textLength="104.7" lengthAdjust="spacingAndGlyphs" transform="rotate(-90 12.2 87.15)">Normalized cell index</text>
<line x1="106.1" y1="196.4" x2="114.9" y2="196.4" stroke="#000" stroke-width="1.9"/>
<text x="121.3" y="199.9" font-size="10.4" fill="#231f20"><tspan textLength="65.5" lengthAdjust="spacingAndGlyphs">Tumour + PGE</tspan><tspan font-size="6.5" dy="2.2">2</tspan></text>
<line x1="204" y1="196.4" x2="212.8" y2="196.4" stroke="#808285" stroke-width="1.9"/>
<text x="218" y="199.9" font-size="10.4" text-anchor="start" fill="#231f20" textLength="114.1" lengthAdjust="spacingAndGlyphs">Tumour + CAR + vehicle</text>
<line x1="345" y1="188.8" x2="353.8" y2="188.8" stroke="#7ccb6e" stroke-width="1.3"/>
<line x1="345" y1="193.1" x2="353.8" y2="193.1" stroke="#5bc3e2" stroke-width="1.3"/>
<line x1="345" y1="197.4" x2="353.8" y2="197.4" stroke="#3d86dc" stroke-width="1.3"/>
<line x1="345" y1="201.7" x2="353.8" y2="201.7" stroke="#2547c7" stroke-width="1.3"/>
<text x="359.4" y="199.9" font-size="10.4" fill="#231f20"><tspan textLength="97" lengthAdjust="spacingAndGlyphs">Tumour + CAR + PGE</tspan><tspan font-size="6.5" dy="2.2">2</tspan></text>
<text x="-0.5" y="224" font-size="16" text-anchor="start" fill="#000" font-weight="bold">c</text>
<line x1="35.7" y1="246.8" x2="35.7" y2="348.3" stroke="#6d6e71" stroke-width="0.8"/>
<line x1="35.3" y1="347.9" x2="137.4" y2="347.9" stroke="#6d6e71" stroke-width="0.8"/>
<line x1="30.8" y1="347.9" x2="35.7" y2="347.9" stroke="#6d6e71" stroke-width="0.8"/>
<text x="26.1" y="350.9" font-size="8.7" text-anchor="end" fill="#231f20">0</text>
<line x1="30.8" y1="331.04" x2="35.7" y2="331.04" stroke="#6d6e71" stroke-width="0.8"/>
<text x="26.1" y="334.04" font-size="8.7" text-anchor="end" fill="#231f20">2</text>
<line x1="30.8" y1="314.18" x2="35.7" y2="314.18" stroke="#6d6e71" stroke-width="0.8"/>
<text x="26.1" y="317.18" font-size="8.7" text-anchor="end" fill="#231f20">4</text>
<line x1="30.8" y1="297.32" x2="35.7" y2="297.32" stroke="#6d6e71" stroke-width="0.8"/>
<text x="26.1" y="300.32" font-size="8.7" text-anchor="end" fill="#231f20">6</text>
<line x1="30.8" y1="280.46" x2="35.7" y2="280.46" stroke="#6d6e71" stroke-width="0.8"/>
<text x="26.1" y="283.46" font-size="8.7" text-anchor="end" fill="#231f20">8</text>
<line x1="30.8" y1="263.6" x2="35.7" y2="263.6" stroke="#6d6e71" stroke-width="0.8"/>
<text x="26.1" y="266.6" font-size="8.7" text-anchor="end" fill="#231f20">10</text>
<line x1="30.8" y1="246.74" x2="35.7" y2="246.74" stroke="#6d6e71" stroke-width="0.8"/>
<text x="26.1" y="249.74" font-size="8.7" text-anchor="end" fill="#231f20">12</text>
<line x1="35.7" y1="347.9" x2="35.7" y2="352.6" stroke="#6d6e71" stroke-width="0.8"/>
<text x="35.7" y="365.4" font-size="8.7" text-anchor="middle" fill="#231f20">0</text>
<line x1="69.47" y1="347.9" x2="69.47" y2="352.6" stroke="#6d6e71" stroke-width="0.8"/>
<text x="69.47" y="365.4" font-size="8.7" text-anchor="middle" fill="#231f20">48</text>
<line x1="103.23" y1="347.9" x2="103.23" y2="352.6" stroke="#6d6e71" stroke-width="0.8"/>
<text x="103.23" y="365.4" font-size="8.7" text-anchor="middle" fill="#231f20">96</text>
<line x1="137" y1="347.9" x2="137" y2="352.6" stroke="#6d6e71" stroke-width="0.8"/>
<text x="137" y="365.4" font-size="8.7" text-anchor="middle" fill="#231f20">144</text>
<text x="86.35" y="380" font-size="10.2" text-anchor="middle" fill="#231f20" textLength="39" lengthAdjust="spacingAndGlyphs">Time (h)</text>
<text x="86.35" y="228.6" font-size="10.5" text-anchor="middle" fill="#231f20"><tspan font-size="10.5" dy="0">Mock</tspan></text>
<path d="M53.22,337.36 C54.24,337.52 56.85,337.56 59.34,338.29 C61.82,339.02 65.21,340.73 68.13,341.75 C71.05,342.76 73.93,343.63 76.85,344.36 C79.77,345.09 82.94,345.68 85.65,346.13 C88.35,346.58 90.64,346.8 93.1,347.06 C95.57,347.31 98.38,347.51 100.42,347.65 C102.46,347.79 104.52,347.86 105.34,347.9" fill="none" stroke="#ababab" stroke-width="1.7" stroke-linejoin="round"/>
<path d="M35.7,347.9 C38.16,346.07 46.53,340.17 50.47,336.94 C54.41,333.71 57.12,331.18 59.34,328.51 C61.55,325.84 62.3,323.73 63.77,320.92 C65.23,318.11 66.68,315.09 68.13,311.65 C69.58,308.21 71.04,304.3 72.49,300.27 C73.95,296.24 75.59,291.18 76.85,287.46 C78.12,283.73 78.38,281.27 80.09,277.93 C81.8,274.59 84.94,270.02 87.12,267.39 C89.3,264.77 90.7,262.9 93.17,262.17 C95.65,261.44 98.31,262.42 101.97,263.01 C105.63,263.6 110.36,264.18 115.12,265.71 C119.88,267.24 127.96,271.12 130.53,272.2 L130.53,289.73 C128.7,289.07 123.58,287.6 119.55,285.77 C115.53,283.94 110.49,280.45 106.4,278.77 C102.31,277.1 97.92,275.88 95,275.74 C92.08,275.6 91.37,275.37 88.88,277.93 C86.4,280.49 82.09,288.13 80.09,291.08 C78.08,294.03 78.12,293.12 76.85,295.63 C75.59,298.15 73.95,302.8 72.49,306.17 C71.04,309.54 69.58,312.92 68.13,315.87 C66.68,318.82 65.23,321.42 63.77,323.87 C62.3,326.33 61.55,328.3 59.34,330.62 C57.12,332.94 54.41,334.9 50.47,337.78 C46.53,340.66 38.16,346.21 35.7,347.9 Z" fill="#939393" stroke="#222" stroke-width="0.6"/>
<path d="M35.7,347.9 C36.43,347.31 38.31,345.68 40.06,344.36 C41.81,343.04 44.42,341.14 46.18,339.98 C47.94,338.81 49.15,338.3 50.61,337.36 C52.08,336.42 53.52,335.63 54.98,334.33 C56.43,333.02 57.87,331.49 59.34,329.52 C60.8,327.56 62.3,325.15 63.77,322.53 C65.23,319.9 66.68,316.98 68.13,313.76 C69.58,310.54 71.04,307.03 72.49,303.22 C73.95,299.41 75.59,293.96 76.85,290.91 C78.12,287.86 78.81,287.37 80.09,284.93 C81.37,282.48 83.06,278.58 84.52,276.25 C85.99,273.91 87.14,272.18 88.88,270.93 C90.63,269.68 92.82,268.9 95,268.74 C97.18,268.59 99.33,269.35 101.97,270.01 C104.61,270.67 107.9,271.66 110.83,272.7 C113.76,273.74 116.27,274.87 119.55,276.25 C122.84,277.62 128.7,280.18 130.53,280.97" fill="none" stroke="#000" stroke-width="2.2" stroke-linejoin="round"/>
<path d="M53.22,337.36 C54.98,336.34 60.56,333.11 63.77,331.21 C66.98,329.31 69.77,328.64 72.49,325.98 C75.21,323.33 77.6,318.77 80.09,315.28 C82.57,311.78 85.51,308.31 87.41,304.99 C89.3,301.68 90.02,297.92 91.49,295.38 C92.95,292.84 94.89,290.9 96.2,289.73 C97.51,288.57 98.43,288.1 99.36,288.38 C100.3,288.67 100.65,290.74 101.83,291.42 C103,292.09 103.44,293.06 106.4,292.43 C109.35,291.8 115.53,288.03 119.55,287.63 C123.58,287.22 128.7,289.59 130.53,289.99 L130.53,313 C127.96,312.7 119.14,311.81 115.12,311.23 C111.1,310.65 108.5,308.77 106.4,309.54 C104.3,310.32 104,313.69 102.53,315.87 C101.06,318.04 99.18,321.06 97.61,322.61 C96.03,324.16 95.1,324.16 93.1,325.14 C91.11,326.12 87.82,327.7 85.65,328.51 C83.48,329.33 81.55,329.42 80.09,330.03 C78.62,330.63 78.85,331.49 76.85,332.14 C74.86,332.78 72.07,333.04 68.13,333.91 C64.19,334.78 55.7,336.79 53.22,337.36 Z" fill="#b9e1b0" stroke="none"/>
<path d="M53.22,337.36 C54.24,336.93 56.85,335.77 59.34,334.75 C61.82,333.72 65.21,332.52 68.13,331.21 C71.05,329.9 74.52,328.27 76.85,326.91 C79.19,325.55 80.12,325.22 82.13,323.03 C84.13,320.84 86.3,317.05 88.88,313.76 C91.46,310.47 94.69,305.48 97.61,303.31 C100.52,301.13 103.19,301.27 106.4,300.69 C109.61,300.12 112.86,299.55 116.88,299.85 C120.9,300.14 128.25,302.03 130.53,302.46" fill="none" stroke="#7ccb6e" stroke-width="1.7" stroke-linejoin="round"/>
<line x1="163.7" y1="246.8" x2="163.7" y2="348.3" stroke="#6d6e71" stroke-width="0.8"/>
<line x1="163.3" y1="347.9" x2="265.4" y2="347.9" stroke="#6d6e71" stroke-width="0.8"/>
<line x1="158.8" y1="347.9" x2="163.7" y2="347.9" stroke="#6d6e71" stroke-width="0.8"/>
<text x="154.1" y="350.9" font-size="8.7" text-anchor="end" fill="#231f20">0</text>
<line x1="158.8" y1="331.04" x2="163.7" y2="331.04" stroke="#6d6e71" stroke-width="0.8"/>
<text x="154.1" y="334.04" font-size="8.7" text-anchor="end" fill="#231f20">2</text>
<line x1="158.8" y1="314.18" x2="163.7" y2="314.18" stroke="#6d6e71" stroke-width="0.8"/>
<text x="154.1" y="317.18" font-size="8.7" text-anchor="end" fill="#231f20">4</text>
<line x1="158.8" y1="297.32" x2="163.7" y2="297.32" stroke="#6d6e71" stroke-width="0.8"/>
<text x="154.1" y="300.32" font-size="8.7" text-anchor="end" fill="#231f20">6</text>
<line x1="158.8" y1="280.46" x2="163.7" y2="280.46" stroke="#6d6e71" stroke-width="0.8"/>
<text x="154.1" y="283.46" font-size="8.7" text-anchor="end" fill="#231f20">8</text>
<line x1="158.8" y1="263.6" x2="163.7" y2="263.6" stroke="#6d6e71" stroke-width="0.8"/>
<text x="154.1" y="266.6" font-size="8.7" text-anchor="end" fill="#231f20">10</text>
<line x1="158.8" y1="246.74" x2="163.7" y2="246.74" stroke="#6d6e71" stroke-width="0.8"/>
<text x="154.1" y="249.74" font-size="8.7" text-anchor="end" fill="#231f20">12</text>
<line x1="163.7" y1="347.9" x2="163.7" y2="352.6" stroke="#6d6e71" stroke-width="0.8"/>
<text x="163.7" y="365.4" font-size="8.7" text-anchor="middle" fill="#231f20">0</text>
<line x1="197.47" y1="347.9" x2="197.47" y2="352.6" stroke="#6d6e71" stroke-width="0.8"/>
<text x="197.47" y="365.4" font-size="8.7" text-anchor="middle" fill="#231f20">48</text>
<line x1="231.23" y1="347.9" x2="231.23" y2="352.6" stroke="#6d6e71" stroke-width="0.8"/>
<text x="231.23" y="365.4" font-size="8.7" text-anchor="middle" fill="#231f20">96</text>
<line x1="265" y1="347.9" x2="265" y2="352.6" stroke="#6d6e71" stroke-width="0.8"/>
<text x="265" y="365.4" font-size="8.7" text-anchor="middle" fill="#231f20">144</text>
<text x="214.35" y="380" font-size="10.2" text-anchor="middle" fill="#231f20" textLength="39" lengthAdjust="spacingAndGlyphs">Time (h)</text>
<text x="214.35" y="228.6" font-size="10.5" text-anchor="middle" fill="#231f20"><tspan font-size="10.5" dy="0">EP2</tspan><tspan font-size="6.6" dy="-3.6">−/−</tspan></text>
<path d="M179.25,337.28 C182.26,336.66 192.67,333.67 197.33,333.57 C201.98,333.47 202.8,335.63 207.17,336.69 C211.55,337.74 218.1,338.81 223.57,339.89 C229.03,340.97 234.16,342.49 239.96,343.18 C245.75,343.87 255.26,343.88 258.32,344.02 L258.32,346.89 C255.26,346.75 245.75,346.72 239.96,346.05 C234.16,345.37 229.03,343.94 223.57,342.84 C218.1,341.75 211.55,340.59 207.17,339.47 C202.8,338.35 201.98,336.46 197.33,336.1 C192.67,335.73 182.26,337.08 179.25,337.28 Z" fill="#d9d9d9" stroke="none"/>
<path d="M179.25,337.28 C182.26,336.87 192.67,334.69 197.33,334.83 C201.98,334.97 202.8,337.04 207.17,338.12 C211.55,339.2 218.1,340.24 223.57,341.32 C229.03,342.41 234.16,343.92 239.96,344.61 C245.75,345.3 255.26,345.31 258.32,345.46" fill="none" stroke="#ababab" stroke-width="1.7" stroke-linejoin="round"/>
<path d="M163.7,347.9 C166.16,346.07 174.53,340.17 178.47,336.94 C182.41,333.71 185.12,331.18 187.34,328.51 C189.55,325.84 190.3,323.73 191.77,320.92 C193.23,318.11 194.68,315.09 196.13,311.65 C197.58,308.21 199.04,304.3 200.49,300.27 C201.95,296.24 203.59,291.18 204.85,287.46 C206.12,283.73 206.38,281.27 208.09,277.93 C209.8,274.59 212.94,270.02 215.12,267.39 C217.3,264.77 218.7,262.9 221.17,262.17 C223.65,261.44 226.31,262.42 229.97,263.01 C233.63,263.6 238.36,264.18 243.12,265.71 C247.88,267.24 255.96,271.12 258.53,272.2 L258.53,289.73 C256.7,289.07 251.58,287.6 247.55,285.77 C243.53,283.94 238.49,280.45 234.4,278.77 C230.31,277.1 225.92,275.88 223,275.74 C220.08,275.6 219.37,275.37 216.88,277.93 C214.4,280.49 210.09,288.13 208.09,291.08 C206.08,294.03 206.12,293.12 204.85,295.63 C203.59,298.15 201.95,302.8 200.49,306.17 C199.04,309.54 197.58,312.92 196.13,315.87 C194.68,318.82 193.23,321.42 191.77,323.87 C190.3,326.33 189.55,328.3 187.34,330.62 C185.12,332.94 182.41,334.9 178.47,337.78 C174.53,340.66 166.16,346.21 163.7,347.9 Z" fill="#939393" stroke="#222" stroke-width="0.6"/>
<path d="M163.7,347.9 C164.43,347.31 166.31,345.68 168.06,344.36 C169.81,343.04 172.42,341.14 174.18,339.98 C175.94,338.81 177.15,338.3 178.61,337.36 C180.08,336.42 181.52,335.63 182.98,334.33 C184.43,333.02 185.87,331.49 187.34,329.52 C188.8,327.56 190.3,325.15 191.77,322.53 C193.23,319.9 194.68,316.98 196.13,313.76 C197.58,310.54 199.04,307.03 200.49,303.22 C201.95,299.41 203.59,293.96 204.85,290.91 C206.12,287.86 206.81,287.37 208.09,284.93 C209.37,282.48 211.06,278.58 212.52,276.25 C213.99,273.91 215.14,272.18 216.88,270.93 C218.63,269.68 220.82,268.9 223,268.74 C225.18,268.59 227.33,269.35 229.97,270.01 C232.61,270.67 235.9,271.66 238.83,272.7 C241.76,273.74 244.27,274.87 247.55,276.25 C250.84,277.62 256.7,280.18 258.53,280.97" fill="none" stroke="#000" stroke-width="2.2" stroke-linejoin="round"/>
<path d="M179.25,337.28 C181.17,336.65 187.23,334.17 190.78,333.48 C194.34,332.8 197.01,332.8 200.56,333.15 C204.11,333.5 207.44,335.45 212.1,335.59 C216.75,335.73 223.85,334.26 228.49,333.99 C233.13,333.72 234.99,333.58 239.96,333.99 C244.93,334.4 255.26,336.03 258.32,336.44 L258.32,343.77 C253.89,343.36 239.43,342.27 231.73,341.32 C224.02,340.38 217.56,338.8 212.1,338.12 C206.64,337.45 204.42,337.42 198.94,337.28 C193.47,337.14 182.53,337.28 179.25,337.28 Z" fill="#aee0f3" stroke="none"/>
<path d="M179.25,337.28 C181.17,337 187.5,336 190.78,335.59 C194.07,335.18 196.21,334.69 198.94,334.83 C201.68,334.97 203.07,335.89 207.17,336.44 C211.28,336.98 218.1,337.84 223.57,338.12 C229.03,338.4 234.16,337.99 239.96,338.12 C245.75,338.25 255.26,338.75 258.32,338.88" fill="none" stroke="#5bc3e2" stroke-width="1.7" stroke-linejoin="round"/>
<line x1="290.7" y1="246.8" x2="290.7" y2="348.3" stroke="#6d6e71" stroke-width="0.8"/>
<line x1="290.3" y1="347.9" x2="392.4" y2="347.9" stroke="#6d6e71" stroke-width="0.8"/>
<line x1="285.8" y1="347.9" x2="290.7" y2="347.9" stroke="#6d6e71" stroke-width="0.8"/>
<text x="281.1" y="350.9" font-size="8.7" text-anchor="end" fill="#231f20">0</text>
<line x1="285.8" y1="331.04" x2="290.7" y2="331.04" stroke="#6d6e71" stroke-width="0.8"/>
<text x="281.1" y="334.04" font-size="8.7" text-anchor="end" fill="#231f20">2</text>
<line x1="285.8" y1="314.18" x2="290.7" y2="314.18" stroke="#6d6e71" stroke-width="0.8"/>
<text x="281.1" y="317.18" font-size="8.7" text-anchor="end" fill="#231f20">4</text>
<line x1="285.8" y1="297.32" x2="290.7" y2="297.32" stroke="#6d6e71" stroke-width="0.8"/>
<text x="281.1" y="300.32" font-size="8.7" text-anchor="end" fill="#231f20">6</text>
<line x1="285.8" y1="280.46" x2="290.7" y2="280.46" stroke="#6d6e71" stroke-width="0.8"/>
<text x="281.1" y="283.46" font-size="8.7" text-anchor="end" fill="#231f20">8</text>
<line x1="285.8" y1="263.6" x2="290.7" y2="263.6" stroke="#6d6e71" stroke-width="0.8"/>
<text x="281.1" y="266.6" font-size="8.7" text-anchor="end" fill="#231f20">10</text>
<line x1="285.8" y1="246.74" x2="290.7" y2="246.74" stroke="#6d6e71" stroke-width="0.8"/>
<text x="281.1" y="249.74" font-size="8.7" text-anchor="end" fill="#231f20">12</text>
<line x1="290.7" y1="347.9" x2="290.7" y2="352.6" stroke="#6d6e71" stroke-width="0.8"/>
<text x="290.7" y="365.4" font-size="8.7" text-anchor="middle" fill="#231f20">0</text>
<line x1="324.47" y1="347.9" x2="324.47" y2="352.6" stroke="#6d6e71" stroke-width="0.8"/>
<text x="324.47" y="365.4" font-size="8.7" text-anchor="middle" fill="#231f20">48</text>
<line x1="358.23" y1="347.9" x2="358.23" y2="352.6" stroke="#6d6e71" stroke-width="0.8"/>
<text x="358.23" y="365.4" font-size="8.7" text-anchor="middle" fill="#231f20">96</text>
<line x1="392" y1="347.9" x2="392" y2="352.6" stroke="#6d6e71" stroke-width="0.8"/>
<text x="392" y="365.4" font-size="8.7" text-anchor="middle" fill="#231f20">144</text>
<text x="341.35" y="380" font-size="10.2" text-anchor="middle" fill="#231f20" textLength="39" lengthAdjust="spacingAndGlyphs">Time (h)</text>
<text x="341.35" y="228.6" font-size="10.5" text-anchor="middle" fill="#231f20"><tspan font-size="10.5" dy="0">EP4</tspan><tspan font-size="6.6" dy="-3.6">−/−</tspan></text>
<path d="M309.55,334.83 C312.28,334.69 321.02,333.32 325.94,333.99 C330.87,334.66 334.17,337.52 339.1,338.88 C344.02,340.24 347.79,341.35 355.49,342.17 C363.19,342.98 380.35,343.5 385.32,343.77 L385.32,347.9 C380.35,347.9 363.19,348.31 355.49,347.9 C347.79,347.49 344.02,346.68 339.1,345.46 C334.17,344.23 330.87,342.07 325.94,340.57 C321.02,339.06 312.28,337.12 309.55,336.44 Z" fill="#d9d9d9" stroke="none"/>
<path d="M309.55,335.59 C312.28,336.01 321.02,337.03 325.94,338.12 C330.87,339.22 334.17,341.09 339.1,342.17 C344.02,343.25 347.79,343.92 355.49,344.61 C363.19,345.3 380.35,346.02 385.32,346.3" fill="none" stroke="#ababab" stroke-width="1.7" stroke-linejoin="round"/>
<path d="M290.7,347.9 C293.16,346.07 301.53,340.17 305.47,336.94 C309.41,333.71 312.12,331.18 314.34,328.51 C316.55,325.84 317.3,323.73 318.77,320.92 C320.23,318.11 321.68,315.09 323.13,311.65 C324.58,308.21 326.04,304.3 327.49,300.27 C328.95,296.24 330.59,291.18 331.85,287.46 C333.12,283.73 333.38,281.27 335.09,277.93 C336.8,274.59 339.94,270.02 342.12,267.39 C344.3,264.77 345.7,262.9 348.17,262.17 C350.65,261.44 353.31,262.42 356.97,263.01 C360.63,263.6 365.36,264.18 370.12,265.71 C374.88,267.24 382.96,271.12 385.53,272.2 L385.53,289.73 C383.7,289.07 378.58,287.6 374.55,285.77 C370.53,283.94 365.49,280.45 361.4,278.77 C357.31,277.1 352.92,275.88 350,275.74 C347.08,275.6 346.37,275.37 343.88,277.93 C341.4,280.49 337.09,288.13 335.09,291.08 C333.08,294.03 333.12,293.12 331.85,295.63 C330.59,298.15 328.95,302.8 327.49,306.17 C326.04,309.54 324.58,312.92 323.13,315.87 C321.68,318.82 320.23,321.42 318.77,323.87 C317.3,326.33 316.55,328.3 314.34,330.62 C312.12,332.94 309.41,334.9 305.47,337.78 C301.53,340.66 293.16,346.21 290.7,347.9 Z" fill="#939393" stroke="#222" stroke-width="0.6"/>
<path d="M290.7,347.9 C291.43,347.31 293.31,345.68 295.06,344.36 C296.81,343.04 299.42,341.14 301.18,339.98 C302.94,338.81 304.15,338.3 305.61,337.36 C307.08,336.42 308.52,335.63 309.98,334.33 C311.43,333.02 312.87,331.49 314.34,329.52 C315.8,327.56 317.3,325.15 318.77,322.53 C320.23,319.9 321.68,316.98 323.13,313.76 C324.58,310.54 326.04,307.03 327.49,303.22 C328.95,299.41 330.59,293.96 331.85,290.91 C333.12,287.86 333.81,287.37 335.09,284.93 C336.37,282.48 338.06,278.58 339.52,276.25 C340.99,273.91 342.14,272.18 343.88,270.93 C345.63,269.68 347.82,268.9 350,268.74 C352.18,268.59 354.33,269.35 356.97,270.01 C359.61,270.67 362.9,271.66 365.83,272.7 C368.76,273.74 371.27,274.87 374.55,276.25 C377.84,277.62 383.7,280.18 385.53,280.97" fill="none" stroke="#000" stroke-width="2.2" stroke-linejoin="round"/>
<path d="M309.55,334.83 C312.28,333.88 321.02,330.34 325.94,329.1 C330.87,327.86 335.55,328.37 339.1,327.42 C342.65,326.46 344.53,325.14 347.26,323.37 C349.99,321.6 352.48,319.79 355.49,316.79 C358.5,313.8 362.89,307.86 365.34,305.41 C367.79,302.97 368.28,303.49 370.19,302.13 C372.1,300.76 374.61,298.47 376.81,297.24 C379,296 381.93,295.13 383.35,294.71 C384.77,294.29 384.99,294.71 385.32,294.71 L385.32,324.21 C383.9,323.8 379.33,322.05 376.81,321.77 C374.28,321.49 373.21,321.71 370.19,322.53 C367.18,323.34 362,325.56 358.73,326.66 C355.45,327.75 353.84,328.29 350.57,329.1 C347.29,329.92 343.2,330.73 339.1,331.55 C335,332.36 330.87,333.18 325.94,333.99 C321.02,334.81 312.28,336.03 309.55,336.44 Z" fill="#66b8f6" stroke="none"/>
<path d="M309.55,335.59 C312.28,334.78 321.02,331.78 325.94,330.7 C330.87,329.62 335,330.32 339.1,329.1 C343.2,327.88 347.29,325.14 350.57,323.37 C353.84,321.6 355.99,320.25 358.73,318.48 C361.46,316.71 363.94,314.25 366.96,312.75 C369.97,311.24 373.74,309.87 376.81,309.46 C379.87,309.05 383.9,310.16 385.32,310.3" fill="none" stroke="#1a8cf0" stroke-width="1.7" stroke-linejoin="round"/>
<line x1="421.7" y1="246.8" x2="421.7" y2="348.3" stroke="#6d6e71" stroke-width="0.8"/>
<line x1="421.3" y1="347.9" x2="523.4" y2="347.9" stroke="#6d6e71" stroke-width="0.8"/>
<line x1="416.8" y1="347.9" x2="421.7" y2="347.9" stroke="#6d6e71" stroke-width="0.8"/>
<text x="412.1" y="350.9" font-size="8.7" text-anchor="end" fill="#231f20">0</text>
<line x1="416.8" y1="331.04" x2="421.7" y2="331.04" stroke="#6d6e71" stroke-width="0.8"/>
<text x="412.1" y="334.04" font-size="8.7" text-anchor="end" fill="#231f20">2</text>
<line x1="416.8" y1="314.18" x2="421.7" y2="314.18" stroke="#6d6e71" stroke-width="0.8"/>
<text x="412.1" y="317.18" font-size="8.7" text-anchor="end" fill="#231f20">4</text>
<line x1="416.8" y1="297.32" x2="421.7" y2="297.32" stroke="#6d6e71" stroke-width="0.8"/>
<text x="412.1" y="300.32" font-size="8.7" text-anchor="end" fill="#231f20">6</text>
<line x1="416.8" y1="280.46" x2="421.7" y2="280.46" stroke="#6d6e71" stroke-width="0.8"/>
<text x="412.1" y="283.46" font-size="8.7" text-anchor="end" fill="#231f20">8</text>
<line x1="416.8" y1="263.6" x2="421.7" y2="263.6" stroke="#6d6e71" stroke-width="0.8"/>
<text x="412.1" y="266.6" font-size="8.7" text-anchor="end" fill="#231f20">10</text>
<line x1="416.8" y1="246.74" x2="421.7" y2="246.74" stroke="#6d6e71" stroke-width="0.8"/>
<text x="412.1" y="249.74" font-size="8.7" text-anchor="end" fill="#231f20">12</text>
<line x1="421.7" y1="347.9" x2="421.7" y2="352.6" stroke="#6d6e71" stroke-width="0.8"/>
<text x="421.7" y="365.4" font-size="8.7" text-anchor="middle" fill="#231f20">0</text>
<line x1="455.47" y1="347.9" x2="455.47" y2="352.6" stroke="#6d6e71" stroke-width="0.8"/>
<text x="455.47" y="365.4" font-size="8.7" text-anchor="middle" fill="#231f20">48</text>
<line x1="489.23" y1="347.9" x2="489.23" y2="352.6" stroke="#6d6e71" stroke-width="0.8"/>
<text x="489.23" y="365.4" font-size="8.7" text-anchor="middle" fill="#231f20">96</text>
<line x1="523" y1="347.9" x2="523" y2="352.6" stroke="#6d6e71" stroke-width="0.8"/>
<text x="523" y="365.4" font-size="8.7" text-anchor="middle" fill="#231f20">144</text>
<text x="472.35" y="380" font-size="10.2" text-anchor="middle" fill="#231f20" textLength="39" lengthAdjust="spacingAndGlyphs">Time (h)</text>
<text x="472.35" y="228.6" font-size="10.5" text-anchor="middle" fill="#231f20"><tspan font-size="10.5" dy="0">EP2</tspan><tspan font-size="6.6" dy="-3.6">−/−</tspan><tspan font-size="10.5" dy="3.6">EP4</tspan><tspan font-size="6.6" dy="-3.6">−/−</tspan></text>
<path d="M440.55,335.93 C441.92,335.34 444.68,332.02 448.78,332.39 C452.89,332.75 459.71,336.35 465.17,338.12 C470.64,339.89 476.1,341.66 481.57,343.01 C487.03,344.36 493.86,345.47 497.96,346.21 C502.05,346.96 504.76,347.27 506.12,347.48 L506.12,347.9 C504.76,347.9 502.05,348.17 497.96,347.9 C493.86,347.63 487.03,346.99 481.57,346.3 C476.1,345.61 470.64,345.19 465.17,343.77 C459.71,342.35 452.89,338.92 448.78,337.78 C444.68,336.65 441.92,337.08 440.55,336.94 Z" fill="#d9d9d9" stroke="none"/>
<path d="M440.55,336.44 C441.92,336.29 444.68,334.78 448.78,335.59 C452.89,336.41 459.71,339.82 465.17,341.32 C470.64,342.83 476.1,343.66 481.57,344.61 C487.03,345.57 493.86,346.54 497.96,347.06 C502.05,347.58 504.76,347.62 506.12,347.73" fill="none" stroke="#ababab" stroke-width="1.7" stroke-linejoin="round"/>
<path d="M421.7,347.9 C424.16,346.07 432.53,340.17 436.47,336.94 C440.41,333.71 443.12,331.18 445.34,328.51 C447.55,325.84 448.3,323.73 449.77,320.92 C451.23,318.11 452.68,315.09 454.13,311.65 C455.58,308.21 457.04,304.3 458.49,300.27 C459.95,296.24 461.59,291.18 462.85,287.46 C464.12,283.73 464.38,281.27 466.09,277.93 C467.8,274.59 470.94,270.02 473.12,267.39 C475.3,264.77 476.7,262.9 479.17,262.17 C481.65,261.44 484.31,262.42 487.97,263.01 C491.63,263.6 496.36,264.18 501.12,265.71 C505.88,267.24 513.96,271.12 516.53,272.2 L516.53,289.73 C514.7,289.07 509.58,287.6 505.55,285.77 C501.53,283.94 496.49,280.45 492.4,278.77 C488.31,277.1 483.92,275.88 481,275.74 C478.08,275.6 477.37,275.37 474.88,277.93 C472.4,280.49 468.09,288.13 466.09,291.08 C464.08,294.03 464.12,293.12 462.85,295.63 C461.59,298.15 459.95,302.8 458.49,306.17 C457.04,309.54 455.58,312.92 454.13,315.87 C452.68,318.82 451.23,321.42 449.77,323.87 C448.3,326.33 447.55,328.3 445.34,330.62 C443.12,332.94 440.41,334.9 436.47,337.78 C432.53,340.66 424.16,346.21 421.7,347.9 Z" fill="#939393" stroke="#222" stroke-width="0.6"/>
<path d="M421.7,347.9 C422.43,347.31 424.31,345.68 426.06,344.36 C427.81,343.04 430.42,341.14 432.18,339.98 C433.94,338.81 435.15,338.3 436.61,337.36 C438.08,336.42 439.52,335.63 440.98,334.33 C442.43,333.02 443.87,331.49 445.34,329.52 C446.8,327.56 448.3,325.15 449.77,322.53 C451.23,319.9 452.68,316.98 454.13,313.76 C455.58,310.54 457.04,307.03 458.49,303.22 C459.95,299.41 461.59,293.96 462.85,290.91 C464.12,287.86 464.81,287.37 466.09,284.93 C467.37,282.48 469.06,278.58 470.52,276.25 C471.99,273.91 473.14,272.18 474.88,270.93 C476.63,269.68 478.82,268.9 481,268.74 C483.18,268.59 485.33,269.35 487.97,270.01 C490.61,270.67 493.9,271.66 496.83,272.7 C499.76,273.74 502.27,274.87 505.55,276.25 C508.84,277.62 514.7,280.18 516.53,280.97" fill="none" stroke="#000" stroke-width="2.2" stroke-linejoin="round"/>
<path d="M440.55,335.93 C442.75,335.52 449.07,333.67 453.71,333.48 C458.35,333.3 463.77,333.74 468.41,334.83 C473.05,335.93 476.64,338.73 481.57,340.06 C486.49,341.39 492.16,341.94 497.96,342.84 C503.75,343.74 513.26,345.02 516.32,345.46 L516.32,347.56 C513.26,347.27 503.75,346.42 497.96,345.79 C492.16,345.16 487.03,344.92 481.57,343.77 C476.1,342.62 469.82,340.16 465.17,338.88 C460.53,337.6 457.81,336.42 453.71,336.1 C449.6,335.77 442.75,336.8 440.55,336.94 Z" fill="#6f8fe0" stroke="none"/>
<path d="M440.55,336.44 C442.75,336.11 449.6,334.5 453.71,334.5 C457.81,334.5 460.53,335.3 465.17,336.44 C469.82,337.57 476.1,340.1 481.57,341.32 C487.03,342.55 492.16,342.9 497.96,343.77 C503.75,344.64 513.26,346.09 516.32,346.55" fill="none" stroke="#2547c7" stroke-width="1.7" stroke-linejoin="round"/>
<text x="12.2" y="298" font-size="10.8" text-anchor="middle" fill="#231f20" textLength="104.7" lengthAdjust="spacingAndGlyphs" transform="rotate(-90 12.2 298)">Normalized cell index</text>
<line x1="106.1" y1="406.4" x2="114.9" y2="406.4" stroke="#000" stroke-width="1.9"/>
<text x="121.3" y="409.9" font-size="10.4" fill="#231f20"><tspan textLength="65.5" lengthAdjust="spacingAndGlyphs">Tumour + PGE</tspan><tspan font-size="6.5" dy="2.2">2</tspan></text>
<line x1="204" y1="406.4" x2="212.8" y2="406.4" stroke="#808285" stroke-width="1.9"/>
<text x="218" y="409.9" font-size="10.4" text-anchor="start" fill="#231f20" textLength="114.1" lengthAdjust="spacingAndGlyphs">Tumour + CAR + vehicle</text>
<line x1="345" y1="398.8" x2="353.8" y2="398.8" stroke="#7ccb6e" stroke-width="1.3"/>
<line x1="345" y1="403.1" x2="353.8" y2="403.1" stroke="#5bc3e2" stroke-width="1.3"/>
<line x1="345" y1="407.4" x2="353.8" y2="407.4" stroke="#3d86dc" stroke-width="1.3"/>
<line x1="345" y1="411.7" x2="353.8" y2="411.7" stroke="#2547c7" stroke-width="1.3"/>
<text x="359.4" y="409.9" font-size="10.4" fill="#231f20"><tspan textLength="97" lengthAdjust="spacingAndGlyphs">Tumour + CAR + PGE</tspan><tspan font-size="6.5" dy="2.2">2</tspan></text>
<text x="539.2" y="11.4" font-size="15.6" text-anchor="start" fill="#000" font-weight="bold">b</text>
<line x1="582.1" y1="36" x2="582.1" y2="138.4" stroke="#6d6e71" stroke-width="0.8"/>
<line x1="581.7" y1="138" x2="684.5" y2="138" stroke="#6d6e71" stroke-width="0.8"/>
<line x1="577.1" y1="138" x2="582.1" y2="138" stroke="#6d6e71" stroke-width="0.8"/>
<text x="572" y="141.3" font-size="9.3" text-anchor="end" fill="#231f20">0</text>
<line x1="577.1" y1="104.15" x2="582.1" y2="104.15" stroke="#6d6e71" stroke-width="0.8"/>
<text x="572" y="107.45" font-size="9.3" text-anchor="end" fill="#231f20">0.5</text>
<line x1="577.1" y1="70.3" x2="582.1" y2="70.3" stroke="#6d6e71" stroke-width="0.8"/>
<text x="572" y="73.6" font-size="9.3" text-anchor="end" fill="#231f20">1.0</text>
<line x1="577.1" y1="36.45" x2="582.1" y2="36.45" stroke="#6d6e71" stroke-width="0.8"/>
<text x="572" y="39.75" font-size="9.3" text-anchor="end" fill="#231f20">1.5</text>
<line x1="594.1" y1="138" x2="594.1" y2="143.2" stroke="#6d6e71" stroke-width="0.8"/>
<rect x="586" y="119.31" width="6.4" height="18.69" fill="#a0a0a0" stroke="#414042" stroke-width="0.5"/>
<line x1="589.2" y1="111.6" x2="589.2" y2="127.17" stroke="#58595b" stroke-width="0.65"/>
<circle cx="589.2" cy="108.89" r="2.6" fill="#a0a0a0" stroke="#414042" stroke-width="0.55"/>
<circle cx="588.7" cy="123.99" r="2.6" fill="#a0a0a0" stroke="#414042" stroke-width="0.55"/>
<circle cx="589.7" cy="122.43" r="2.6" fill="#a0a0a0" stroke="#414042" stroke-width="0.55"/>
<rect x="595.8" y="79.24" width="6.4" height="58.76" fill="#8badda" stroke="#414042" stroke-width="0.5"/>
<line x1="599" y1="70.98" x2="599" y2="87.9" stroke="#58595b" stroke-width="0.65"/>
<circle cx="598.4" cy="71.99" r="2.6" fill="#8badda" stroke="#414042" stroke-width="0.55"/>
<circle cx="599.9" cy="75.04" r="2.6" fill="#8badda" stroke="#414042" stroke-width="0.55"/>
<circle cx="599.2" cy="90.61" r="2.6" fill="#8badda" stroke="#414042" stroke-width="0.55"/>
<text x="596.4" y="46.6" font-size="7.6" text-anchor="middle" fill="#231f20" textLength="25.4" lengthAdjust="spacingAndGlyphs" style="stroke-width:0.08px">0.0007</text>
<line x1="589.3" y1="48.5" x2="598.9" y2="48.5" stroke="#939598" stroke-width="0.9"/>
<text x="597.7" y="152.3" font-size="10.5" text-anchor="end" fill="#231f20" transform="rotate(-45 597.7 152.3)"><tspan font-size="10.5" dy="0">Mock</tspan></text>
<line x1="620.1" y1="138" x2="620.1" y2="143.2" stroke="#6d6e71" stroke-width="0.8"/>
<rect x="612" y="119.31" width="6.4" height="18.69" fill="#a0a0a0" stroke="#414042" stroke-width="0.5"/>
<line x1="615.2" y1="111.6" x2="615.2" y2="126.49" stroke="#58595b" stroke-width="0.65"/>
<circle cx="615.2" cy="110.24" r="2.6" fill="#a0a0a0" stroke="#414042" stroke-width="0.55"/>
<circle cx="615.8" cy="121.08" r="2.6" fill="#a0a0a0" stroke="#414042" stroke-width="0.55"/>
<circle cx="614.8" cy="125.81" r="2.6" fill="#a0a0a0" stroke="#414042" stroke-width="0.55"/>
<rect x="621.8" y="102.59" width="6.4" height="35.41" fill="#8badda" stroke="#414042" stroke-width="0.5"/>
<line x1="625" y1="93.32" x2="625" y2="111.6" stroke="#58595b" stroke-width="0.65"/>
<circle cx="625" cy="92.64" r="2.6" fill="#8badda" stroke="#414042" stroke-width="0.55"/>
<circle cx="625" cy="102.8" r="2.6" fill="#8badda" stroke="#414042" stroke-width="0.55"/>
<circle cx="625" cy="110.58" r="2.6" fill="#8badda" stroke="#414042" stroke-width="0.55"/>
<text x="620.1" y="46.6" font-size="7.6" text-anchor="middle" fill="#231f20" textLength="9.6" lengthAdjust="spacingAndGlyphs" style="stroke-width:0.08px">NS</text>
<line x1="615.3" y1="48.5" x2="624.9" y2="48.5" stroke="#939598" stroke-width="0.9"/>
<text x="625.9" y="151.9" font-size="10.5" text-anchor="end" fill="#231f20" transform="rotate(-45 625.9 151.9)"><tspan font-size="10.5" dy="0">Ep2</tspan><tspan font-size="6.3" dy="-4">−/−</tspan></text>
<line x1="646.1" y1="138" x2="646.1" y2="143.2" stroke="#6d6e71" stroke-width="0.8"/>
<rect x="638" y="120.67" width="6.4" height="17.33" fill="#a0a0a0" stroke="#414042" stroke-width="0.5"/>
<line x1="641.2" y1="109.57" x2="641.2" y2="131.23" stroke="#58595b" stroke-width="0.65"/>
<circle cx="641.2" cy="108.89" r="2.6" fill="#a0a0a0" stroke="#414042" stroke-width="0.55"/>
<circle cx="641.6" cy="122.43" r="2.6" fill="#a0a0a0" stroke="#414042" stroke-width="0.55"/>
<circle cx="641" cy="126.49" r="2.6" fill="#a0a0a0" stroke="#414042" stroke-width="0.55"/>
<rect x="647.8" y="101.44" width="6.4" height="36.56" fill="#8badda" stroke="#414042" stroke-width="0.5"/>
<line x1="651" y1="95.35" x2="651" y2="107.53" stroke="#58595b" stroke-width="0.65"/>
<circle cx="651" cy="93.66" r="2.6" fill="#8badda" stroke="#414042" stroke-width="0.55"/>
<circle cx="651.6" cy="102.8" r="2.6" fill="#8badda" stroke="#414042" stroke-width="0.55"/>
<circle cx="650.7" cy="105.84" r="2.6" fill="#8badda" stroke="#414042" stroke-width="0.55"/>
<text x="646.1" y="46.6" font-size="7.6" text-anchor="middle" fill="#231f20" textLength="9.6" lengthAdjust="spacingAndGlyphs" style="stroke-width:0.08px">NS</text>
<line x1="641.3" y1="48.5" x2="650.9" y2="48.5" stroke="#939598" stroke-width="0.9"/>
<text x="651.9" y="151.9" font-size="10.5" text-anchor="end" fill="#231f20" transform="rotate(-45 651.9 151.9)"><tspan font-size="10.5" dy="0">Ep4</tspan><tspan font-size="6.3" dy="-4">−/−</tspan></text>
<line x1="672.1" y1="138" x2="672.1" y2="143.2" stroke="#6d6e71" stroke-width="0.8"/>
<rect x="664" y="117.28" width="6.4" height="20.72" fill="#a0a0a0" stroke="#414042" stroke-width="0.5"/>
<line x1="667.2" y1="105.5" x2="667.2" y2="129.2" stroke="#58595b" stroke-width="0.65"/>
<circle cx="667.2" cy="105.17" r="2.6" fill="#a0a0a0" stroke="#414042" stroke-width="0.55"/>
<circle cx="667.8" cy="121.08" r="2.6" fill="#a0a0a0" stroke="#414042" stroke-width="0.55"/>
<circle cx="666.9" cy="125.48" r="2.6" fill="#a0a0a0" stroke="#414042" stroke-width="0.55"/>
<rect x="673.8" y="113.09" width="6.4" height="24.91" fill="#8badda" stroke="#414042" stroke-width="0.5"/>
<line x1="677" y1="97.38" x2="677" y2="128.52" stroke="#58595b" stroke-width="0.65"/>
<circle cx="676.8" cy="95.35" r="2.6" fill="#8badda" stroke="#414042" stroke-width="0.55"/>
<circle cx="677.6" cy="119.72" r="2.6" fill="#8badda" stroke="#414042" stroke-width="0.55"/>
<circle cx="676.4" cy="123.44" r="2.6" fill="#8badda" stroke="#414042" stroke-width="0.55"/>
<text x="672.1" y="46.6" font-size="7.6" text-anchor="middle" fill="#231f20" textLength="9.6" lengthAdjust="spacingAndGlyphs" style="stroke-width:0.08px">NS</text>
<line x1="667.3" y1="48.5" x2="676.9" y2="48.5" stroke="#939598" stroke-width="0.9"/>
<text x="677.9" y="151.9" font-size="10.5" text-anchor="end" fill="#231f20" transform="rotate(-45 677.9 151.9)"><tspan font-size="10.5" dy="0">Ep2</tspan><tspan font-size="6.3" dy="-4">−/−</tspan><tspan font-size="10.5" dy="4">Ep4</tspan><tspan font-size="6.3" dy="-4">−/−</tspan></text>
<circle cx="587.9" cy="7.5" r="2.5" fill="#a0a0a0" stroke="#58595b" stroke-width="0.6"/>
<text x="596.5" y="11" font-size="11" text-anchor="start" fill="#231f20" textLength="35.5" lengthAdjust="spacingAndGlyphs">Vehicle</text>
<circle cx="649.9" cy="7.5" r="2.5" fill="#8badda" stroke="#58595b" stroke-width="0.6"/>
<text x="657.9" y="11" font-size="11" fill="#231f20"><tspan textLength="20.5" lengthAdjust="spacingAndGlyphs">PGE</tspan><tspan font-size="6.5" dy="2.2">2</tspan></text>
<text x="550.3" y="89.2" font-size="10.8" text-anchor="middle" fill="#231f20" textLength="111.5" lengthAdjust="spacingAndGlyphs" transform="rotate(-90 550.3 89.2)">AUC (% of tumour only)</text>
<line x1="582.1" y1="246.7" x2="582.1" y2="348.7" stroke="#6d6e71" stroke-width="0.8"/>
<line x1="581.7" y1="348.3" x2="684.5" y2="348.3" stroke="#6d6e71" stroke-width="0.8"/>
<line x1="577.1" y1="348.3" x2="582.1" y2="348.3" stroke="#6d6e71" stroke-width="0.8"/>
<text x="572" y="351.6" font-size="9.3" text-anchor="end" fill="#231f20">0</text>
<line x1="577.1" y1="323" x2="582.1" y2="323" stroke="#6d6e71" stroke-width="0.8"/>
<text x="572" y="326.3" font-size="9.3" text-anchor="end" fill="#231f20">200</text>
<line x1="577.1" y1="297.7" x2="582.1" y2="297.7" stroke="#6d6e71" stroke-width="0.8"/>
<text x="572" y="301" font-size="9.3" text-anchor="end" fill="#231f20">400</text>
<line x1="577.1" y1="272.4" x2="582.1" y2="272.4" stroke="#6d6e71" stroke-width="0.8"/>
<text x="572" y="275.7" font-size="9.3" text-anchor="end" fill="#231f20">600</text>
<line x1="577.1" y1="247.1" x2="582.1" y2="247.1" stroke="#6d6e71" stroke-width="0.8"/>
<text x="572" y="250.4" font-size="9.3" text-anchor="end" fill="#231f20">800</text>
<line x1="594.1" y1="348.3" x2="594.1" y2="353.5" stroke="#6d6e71" stroke-width="0.8"/>
<rect x="586" y="333.75" width="6.4" height="14.55" fill="#a0a0a0" stroke="#414042" stroke-width="0.5"/>
<line x1="589.2" y1="330.59" x2="589.2" y2="338.18" stroke="#58595b" stroke-width="0.65"/>
<circle cx="588.6" cy="328.06" r="2.6" fill="#a0a0a0" stroke="#414042" stroke-width="0.55"/>
<circle cx="589.8" cy="331.48" r="2.6" fill="#a0a0a0" stroke="#414042" stroke-width="0.55"/>
<circle cx="589.2" cy="340.08" r="2.6" fill="#a0a0a0" stroke="#414042" stroke-width="0.55"/>
<rect x="595.8" y="293.4" width="6.4" height="54.9" fill="#8badda" stroke="#414042" stroke-width="0.5"/>
<line x1="599" y1="288.85" x2="599" y2="297.7" stroke="#58595b" stroke-width="0.65"/>
<circle cx="598.4" cy="287.96" r="2.6" fill="#8badda" stroke="#414042" stroke-width="0.55"/>
<circle cx="599.6" cy="290.74" r="2.6" fill="#8badda" stroke="#414042" stroke-width="0.55"/>
<circle cx="599" cy="299.6" r="2.6" fill="#8badda" stroke="#414042" stroke-width="0.55"/>
<text x="596.4" y="249.9" font-size="7.6" text-anchor="middle" fill="#231f20" textLength="25.4" lengthAdjust="spacingAndGlyphs" style="stroke-width:0.08px">0.0300</text>
<line x1="589.3" y1="251.8" x2="598.9" y2="251.8" stroke="#939598" stroke-width="0.9"/>
<text x="597.7" y="362.6" font-size="10.5" text-anchor="end" fill="#231f20" transform="rotate(-45 597.7 362.6)"><tspan font-size="10.5" dy="0">Mock</tspan></text>
<line x1="620.1" y1="348.3" x2="620.1" y2="353.5" stroke="#6d6e71" stroke-width="0.8"/>
<rect x="612" y="304.15" width="6.4" height="44.15" fill="#a0a0a0" stroke="#414042" stroke-width="0.5"/>
<line x1="615.2" y1="272.4" x2="615.2" y2="335.65" stroke="#58595b" stroke-width="0.65"/>
<circle cx="615.2" cy="272.4" r="2.6" fill="#a0a0a0" stroke="#414042" stroke-width="0.55"/>
<circle cx="615.2" cy="306.93" r="2.6" fill="#a0a0a0" stroke="#414042" stroke-width="0.55"/>
<circle cx="615.2" cy="331.86" r="2.6" fill="#a0a0a0" stroke="#414042" stroke-width="0.55"/>
<rect x="621.8" y="305.16" width="6.4" height="43.14" fill="#8badda" stroke="#414042" stroke-width="0.5"/>
<line x1="625" y1="279.99" x2="625" y2="330.59" stroke="#58595b" stroke-width="0.65"/>
<circle cx="625" cy="279.99" r="2.6" fill="#8badda" stroke="#414042" stroke-width="0.55"/>
<circle cx="625" cy="306.93" r="2.6" fill="#8badda" stroke="#414042" stroke-width="0.55"/>
<circle cx="625" cy="327.05" r="2.6" fill="#8badda" stroke="#414042" stroke-width="0.55"/>
<text x="620.1" y="249.9" font-size="7.6" text-anchor="middle" fill="#231f20" textLength="9.6" lengthAdjust="spacingAndGlyphs" style="stroke-width:0.08px">NS</text>
<line x1="615.3" y1="251.8" x2="624.9" y2="251.8" stroke="#939598" stroke-width="0.9"/>
<text x="625.9" y="362.2" font-size="10.5" text-anchor="end" fill="#231f20" transform="rotate(-45 625.9 362.2)"><tspan font-size="10.5" dy="0">EP2</tspan><tspan font-size="6.3" dy="-4">−/−</tspan></text>
<line x1="646.1" y1="348.3" x2="646.1" y2="353.5" stroke="#6d6e71" stroke-width="0.8"/>
<rect x="638" y="325.66" width="6.4" height="22.64" fill="#a0a0a0" stroke="#414042" stroke-width="0.5"/>
<line x1="641.2" y1="313.89" x2="641.2" y2="335.65" stroke="#58595b" stroke-width="0.65"/>
<circle cx="641.2" cy="313.89" r="2.6" fill="#a0a0a0" stroke="#414042" stroke-width="0.55"/>
<circle cx="641.2" cy="327.05" r="2.6" fill="#a0a0a0" stroke="#414042" stroke-width="0.55"/>
<circle cx="641.2" cy="335.4" r="2.6" fill="#a0a0a0" stroke="#414042" stroke-width="0.55"/>
<rect x="647.8" y="313.89" width="6.4" height="34.41" fill="#8badda" stroke="#414042" stroke-width="0.5"/>
<line x1="651" y1="298.33" x2="651" y2="329.32" stroke="#58595b" stroke-width="0.65"/>
<circle cx="650.6" cy="304.66" r="2.6" fill="#8badda" stroke="#414042" stroke-width="0.55"/>
<circle cx="651.6" cy="305.67" r="2.6" fill="#8badda" stroke="#414042" stroke-width="0.55"/>
<circle cx="651" cy="331.6" r="2.6" fill="#8badda" stroke="#414042" stroke-width="0.55"/>
<text x="646.1" y="249.9" font-size="7.6" text-anchor="middle" fill="#231f20" textLength="9.6" lengthAdjust="spacingAndGlyphs" style="stroke-width:0.08px">NS</text>
<line x1="641.3" y1="251.8" x2="650.9" y2="251.8" stroke="#939598" stroke-width="0.9"/>
<text x="651.9" y="362.2" font-size="10.5" text-anchor="end" fill="#231f20" transform="rotate(-45 651.9 362.2)"><tspan font-size="10.5" dy="0">EP4</tspan><tspan font-size="6.3" dy="-4">−/−</tspan></text>
<line x1="672.1" y1="348.3" x2="672.1" y2="353.5" stroke="#6d6e71" stroke-width="0.8"/>
<rect x="664" y="325.28" width="6.4" height="23.02" fill="#a0a0a0" stroke="#414042" stroke-width="0.5"/>
<line x1="667.2" y1="310.22" x2="667.2" y2="338.18" stroke="#58595b" stroke-width="0.65"/>
<circle cx="667.2" cy="310.22" r="2.6" fill="#a0a0a0" stroke="#414042" stroke-width="0.55"/>
<circle cx="667.2" cy="328.06" r="2.6" fill="#a0a0a0" stroke="#414042" stroke-width="0.55"/>
<circle cx="667.2" cy="336.28" r="2.6" fill="#a0a0a0" stroke="#414042" stroke-width="0.55"/>
<rect x="673.8" y="327.05" width="6.4" height="21.25" fill="#8badda" stroke="#414042" stroke-width="0.5"/>
<line x1="677" y1="322.37" x2="677" y2="331.86" stroke="#58595b" stroke-width="0.65"/>
<circle cx="676.7" cy="321.86" r="2.6" fill="#8badda" stroke="#414042" stroke-width="0.55"/>
<circle cx="677.6" cy="325.53" r="2.6" fill="#8badda" stroke="#414042" stroke-width="0.55"/>
<circle cx="677.3" cy="333.12" r="2.6" fill="#8badda" stroke="#414042" stroke-width="0.55"/>
<text x="672.1" y="249.9" font-size="7.6" text-anchor="middle" fill="#231f20" textLength="9.6" lengthAdjust="spacingAndGlyphs" style="stroke-width:0.08px">NS</text>
<line x1="667.3" y1="251.8" x2="676.9" y2="251.8" stroke="#939598" stroke-width="0.9"/>
<text x="677.9" y="362.2" font-size="10.5" text-anchor="end" fill="#231f20" transform="rotate(-45 677.9 362.2)"><tspan font-size="10.5" dy="0">EP2</tspan><tspan font-size="6.3" dy="-4">−/−</tspan><tspan font-size="10.5" dy="4">EP4</tspan><tspan font-size="6.3" dy="-4">−/−</tspan></text>
<circle cx="587.9" cy="223.3" r="2.5" fill="#a0a0a0" stroke="#58595b" stroke-width="0.6"/>
<text x="596.5" y="226.8" font-size="11" text-anchor="start" fill="#231f20" textLength="35.5" lengthAdjust="spacingAndGlyphs">Vehicle</text>
<circle cx="649.9" cy="223.3" r="2.5" fill="#8badda" stroke="#58595b" stroke-width="0.6"/>
<text x="657.9" y="226.8" font-size="11" fill="#231f20"><tspan textLength="20.5" lengthAdjust="spacingAndGlyphs">PGE</tspan><tspan font-size="6.5" dy="2.2">2</tspan></text>
<text x="548.3" y="299.7" font-size="10.8" text-anchor="middle" fill="#231f20" textLength="21.5" lengthAdjust="spacingAndGlyphs" transform="rotate(-90 548.3 299.7)">AUC</text>
<text x="537.5" y="224" font-size="15.6" text-anchor="start" fill="#000" font-weight="bold">d</text>
<text x="-0.5" y="454" font-size="16" text-anchor="start" fill="#000" font-weight="bold">e</text>
<line x1="82.2" y1="475.7" x2="82.2" y2="577.5" stroke="#6d6e71" stroke-width="0.8"/>
<line x1="81.8" y1="577.1" x2="184.1" y2="577.1" stroke="#6d6e71" stroke-width="0.8"/>
<line x1="77.2" y1="577.1" x2="82.2" y2="577.1" stroke="#6d6e71" stroke-width="0.8"/>
<text x="72.5" y="580.1" font-size="8.6" text-anchor="end" fill="#231f20">0</text>
<line x1="77.2" y1="543.4" x2="82.2" y2="543.4" stroke="#6d6e71" stroke-width="0.8"/>
<text x="72.5" y="546.4" font-size="8.6" text-anchor="end" fill="#231f20">0.5</text>
<line x1="77.2" y1="509.7" x2="82.2" y2="509.7" stroke="#6d6e71" stroke-width="0.8"/>
<text x="72.5" y="512.7" font-size="8.6" text-anchor="end" fill="#231f20">1.0</text>
<line x1="77.2" y1="476" x2="82.2" y2="476" stroke="#6d6e71" stroke-width="0.8"/>
<text x="72.5" y="479" font-size="8.6" text-anchor="end" fill="#231f20">1.5</text>
<line x1="106.9" y1="577.1" x2="106.9" y2="581.6" stroke="#6d6e71" stroke-width="0.8"/>
<line x1="159.3" y1="577.1" x2="159.3" y2="581.6" stroke="#6d6e71" stroke-width="0.8"/>
<line x1="90.05" y1="538.35" x2="90.05" y2="555.26" stroke="#a7a9ac" stroke-width="0.6"/>
<rect x="86.4" y="555.26" width="7.3" height="21.84" fill="#7ccb6e" stroke="#414042" stroke-width="0.5"/>
<line x1="90.05" y1="555.26" x2="90.05" y2="566.32" stroke="#414042" stroke-width="0.6"/>
<circle cx="90.05" cy="538.35" r="2.5" fill="#7ccb6e" stroke="#414042" stroke-width="0.5"/>
<circle cx="90.05" cy="560.25" r="2.5" fill="#7ccb6e" stroke="#414042" stroke-width="0.5"/>
<circle cx="90.05" cy="566.32" r="2.5" fill="#7ccb6e" stroke="#414042" stroke-width="0.5"/>
<line x1="101.35" y1="529.92" x2="101.35" y2="539.15" stroke="#a7a9ac" stroke-width="0.6"/>
<rect x="97.7" y="539.15" width="7.3" height="37.95" fill="#5ec3e2" stroke="#414042" stroke-width="0.5"/>
<line x1="101.35" y1="539.15" x2="101.35" y2="551.49" stroke="#414042" stroke-width="0.6"/>
<circle cx="100.55" cy="530.93" r="2.5" fill="#5ec3e2" stroke="#414042" stroke-width="0.5"/>
<circle cx="102.55" cy="534.64" r="2.5" fill="#5ec3e2" stroke="#414042" stroke-width="0.5"/>
<circle cx="101.35" cy="551.49" r="2.5" fill="#5ec3e2" stroke="#414042" stroke-width="0.5"/>
<line x1="112.55" y1="542.05" x2="112.55" y2="547.92" stroke="#a7a9ac" stroke-width="0.6"/>
<rect x="108.9" y="547.92" width="7.3" height="29.18" fill="#3a8cdf" stroke="#414042" stroke-width="0.5"/>
<line x1="112.55" y1="547.92" x2="112.55" y2="556.88" stroke="#414042" stroke-width="0.6"/>
<circle cx="111.95" cy="542.73" r="2.5" fill="#3a8cdf" stroke="#414042" stroke-width="0.5"/>
<circle cx="113.45" cy="542.73" r="2.5" fill="#3a8cdf" stroke="#414042" stroke-width="0.5"/>
<circle cx="112.55" cy="556.88" r="2.5" fill="#3a8cdf" stroke="#414042" stroke-width="0.5"/>
<line x1="123.75" y1="496.22" x2="123.75" y2="514.01" stroke="#a7a9ac" stroke-width="0.6"/>
<rect x="120.1" y="514.01" width="7.3" height="63.09" fill="#2447c6" stroke="#414042" stroke-width="0.5"/>
<line x1="123.75" y1="514.01" x2="123.75" y2="527.22" stroke="#414042" stroke-width="0.6"/>
<circle cx="123.75" cy="496.22" r="2.5" fill="#2447c6" stroke="#414042" stroke-width="0.5"/>
<circle cx="123.75" cy="517.79" r="2.5" fill="#2447c6" stroke="#414042" stroke-width="0.5"/>
<circle cx="123.75" cy="527.22" r="2.5" fill="#2447c6" stroke="#414042" stroke-width="0.5"/>
<line x1="142.55" y1="564.29" x2="142.55" y2="569.01" stroke="#a7a9ac" stroke-width="0.6"/>
<rect x="138.9" y="569.01" width="7.3" height="8.09" fill="#7ccb6e" stroke="#414042" stroke-width="0.5"/>
<line x1="142.55" y1="569.01" x2="142.55" y2="573.73" stroke="#414042" stroke-width="0.6"/>
<circle cx="141.75" cy="564.29" r="2.5" fill="#7ccb6e" stroke="#414042" stroke-width="0.5"/>
<circle cx="143.75" cy="568.68" r="2.5" fill="#7ccb6e" stroke="#414042" stroke-width="0.5"/>
<circle cx="142.25" cy="573.73" r="2.5" fill="#7ccb6e" stroke="#414042" stroke-width="0.5"/>
<line x1="153.75" y1="539.36" x2="153.75" y2="554.32" stroke="#a7a9ac" stroke-width="0.6"/>
<rect x="150.1" y="554.32" width="7.3" height="22.78" fill="#5ec3e2" stroke="#414042" stroke-width="0.5"/>
<line x1="153.75" y1="554.32" x2="153.75" y2="569.01" stroke="#414042" stroke-width="0.6"/>
<circle cx="153.75" cy="539.36" r="2.5" fill="#5ec3e2" stroke="#414042" stroke-width="0.5"/>
<circle cx="153.75" cy="554.18" r="2.5" fill="#5ec3e2" stroke="#414042" stroke-width="0.5"/>
<circle cx="153.75" cy="569.01" r="2.5" fill="#5ec3e2" stroke="#414042" stroke-width="0.5"/>
<line x1="164.95" y1="552.16" x2="164.95" y2="558.23" stroke="#a7a9ac" stroke-width="0.6"/>
<rect x="161.3" y="558.23" width="7.3" height="18.87" fill="#3a8cdf" stroke="#414042" stroke-width="0.5"/>
<line x1="164.95" y1="558.23" x2="164.95" y2="560.25" stroke="#414042" stroke-width="0.6"/>
<circle cx="164.95" cy="552.16" r="2.5" fill="#3a8cdf" stroke="#414042" stroke-width="0.5"/>
<circle cx="165.35" cy="560.25" r="2.5" fill="#3a8cdf" stroke="#414042" stroke-width="0.5"/>
<line x1="176.35" y1="523.18" x2="176.35" y2="541.38" stroke="#a7a9ac" stroke-width="0.6"/>
<rect x="172.7" y="541.38" width="7.3" height="35.72" fill="#2447c6" stroke="#414042" stroke-width="0.5"/>
<line x1="176.35" y1="541.38" x2="176.35" y2="559.24" stroke="#414042" stroke-width="0.6"/>
<circle cx="176.35" cy="523.18" r="2.5" fill="#2447c6" stroke="#414042" stroke-width="0.5"/>
<circle cx="176.35" cy="538.35" r="2.5" fill="#2447c6" stroke="#414042" stroke-width="0.5"/>
<circle cx="176.35" cy="559.24" r="2.5" fill="#2447c6" stroke="#414042" stroke-width="0.5"/>
<path d="M89.3,485.1 V475.4 H123.7 V490.2" fill="none" stroke="#9d9fa2" stroke-width="0.7"/>
<text x="106.6" y="473.1" font-size="7.4" text-anchor="middle" fill="#231f20" textLength="23.5" lengthAdjust="spacingAndGlyphs" style="stroke-width:0.08px">0.0026</text>
<path d="M89.3,501.9 V495.2 H112.3 V533.8" fill="none" stroke="#9d9fa2" stroke-width="0.7"/>
<text x="101.4" y="494.1" font-size="7.4" text-anchor="middle" fill="#231f20" textLength="9.4" lengthAdjust="spacingAndGlyphs" style="stroke-width:0.08px">NS</text>
<path d="M89.3,535.5 V517.4 H101.4 V519.6" fill="none" stroke="#9d9fa2" stroke-width="0.7"/>
<text x="95.8" y="515.4" font-size="7.4" text-anchor="middle" fill="#231f20" textLength="9.4" lengthAdjust="spacingAndGlyphs" style="stroke-width:0.08px">NS</text>
<path d="M142.1,484.8 V475.4 H176.6 V516.2" fill="none" stroke="#9d9fa2" stroke-width="0.7"/>
<text x="158.9" y="473.1" font-size="7.4" text-anchor="middle" fill="#231f20" textLength="23.5" lengthAdjust="spacingAndGlyphs" style="stroke-width:0.08px">0.0348</text>
<path d="M142.1,501.9 V495.2 H165.6 V549.8" fill="none" stroke="#9d9fa2" stroke-width="0.7"/>
<text x="153.6" y="494.1" font-size="7.4" text-anchor="middle" fill="#231f20" textLength="9.4" lengthAdjust="spacingAndGlyphs" style="stroke-width:0.08px">NS</text>
<path d="M142.1,559.8 V517.4 H153.9 V534.7" fill="none" stroke="#9d9fa2" stroke-width="0.7"/>
<text x="148" y="515.4" font-size="7.4" text-anchor="middle" fill="#231f20" textLength="9.4" lengthAdjust="spacingAndGlyphs" style="stroke-width:0.08px">NS</text>
<text x="106.8" y="594.5" font-size="10.2" text-anchor="middle" fill="#231f20" textLength="20.5" lengthAdjust="spacingAndGlyphs">24 h</text>
<text x="159.5" y="594.5" font-size="10.2" text-anchor="middle" fill="#231f20" textLength="20.5" lengthAdjust="spacingAndGlyphs">48 h</text>
<text x="40" y="526.5" font-size="10" text-anchor="middle" fill="#231f20" textLength="73" lengthAdjust="spacingAndGlyphs" transform="rotate(-90 40 526.5)">Live cells/bead</text>
<text x="50.3" y="526" font-size="10" text-anchor="middle" fill="#231f20" textLength="93.5" lengthAdjust="spacingAndGlyphs" transform="rotate(-90 50.3 526)">(treated/untreated)</text>
<text x="244.3" y="453" font-size="16" text-anchor="start" fill="#000" font-weight="bold">f</text>
<line x1="303.2" y1="475.7" x2="303.2" y2="577.5" stroke="#6d6e71" stroke-width="0.8"/>
<line x1="302.8" y1="577.1" x2="404.8" y2="577.1" stroke="#6d6e71" stroke-width="0.8"/>
<line x1="298.2" y1="577.1" x2="303.2" y2="577.1" stroke="#6d6e71" stroke-width="0.8"/>
<text x="293.5" y="580.1" font-size="8.6" text-anchor="end" fill="#231f20">0</text>
<line x1="298.2" y1="543.4" x2="303.2" y2="543.4" stroke="#6d6e71" stroke-width="0.8"/>
<text x="293.5" y="546.4" font-size="8.6" text-anchor="end" fill="#231f20">0.5</text>
<line x1="298.2" y1="509.7" x2="303.2" y2="509.7" stroke="#6d6e71" stroke-width="0.8"/>
<text x="293.5" y="512.7" font-size="8.6" text-anchor="end" fill="#231f20">1.0</text>
<line x1="298.2" y1="476" x2="303.2" y2="476" stroke="#6d6e71" stroke-width="0.8"/>
<text x="293.5" y="479" font-size="8.6" text-anchor="end" fill="#231f20">1.5</text>
<line x1="327.3" y1="577.1" x2="327.3" y2="581.6" stroke="#6d6e71" stroke-width="0.8"/>
<line x1="380.1" y1="577.1" x2="380.1" y2="581.6" stroke="#6d6e71" stroke-width="0.8"/>
<line x1="311.15" y1="537.33" x2="311.15" y2="548.99" stroke="#a7a9ac" stroke-width="0.6"/>
<rect x="307.4" y="548.99" width="7.5" height="28.11" fill="#7ccb6e" stroke="#414042" stroke-width="0.5"/>
<line x1="311.15" y1="548.99" x2="311.15" y2="559.58" stroke="#414042" stroke-width="0.6"/>
<circle cx="311.15" cy="537.33" r="2.5" fill="#7ccb6e" stroke="#414042" stroke-width="0.5"/>
<circle cx="311.15" cy="550.14" r="2.5" fill="#7ccb6e" stroke="#414042" stroke-width="0.5"/>
<circle cx="311.15" cy="559.58" r="2.5" fill="#7ccb6e" stroke="#414042" stroke-width="0.5"/>
<line x1="322.25" y1="523.18" x2="322.25" y2="528.84" stroke="#a7a9ac" stroke-width="0.6"/>
<rect x="318.5" y="528.84" width="7.5" height="48.26" fill="#5ec3e2" stroke="#414042" stroke-width="0.5"/>
<line x1="322.25" y1="528.84" x2="322.25" y2="533.96" stroke="#414042" stroke-width="0.6"/>
<circle cx="322.25" cy="520.75" r="2.5" fill="#5ec3e2" stroke="#414042" stroke-width="0.5"/>
<circle cx="323.15" cy="531.27" r="2.5" fill="#5ec3e2" stroke="#414042" stroke-width="0.5"/>
<circle cx="321.65" cy="533.96" r="2.5" fill="#5ec3e2" stroke="#414042" stroke-width="0.5"/>
<line x1="333.15" y1="524.53" x2="333.15" y2="535.99" stroke="#a7a9ac" stroke-width="0.6"/>
<rect x="329.4" y="535.99" width="7.5" height="41.11" fill="#3a8cdf" stroke="#414042" stroke-width="0.5"/>
<line x1="333.15" y1="535.99" x2="333.15" y2="542.73" stroke="#414042" stroke-width="0.6"/>
<circle cx="333.15" cy="524.06" r="2.5" fill="#3a8cdf" stroke="#414042" stroke-width="0.5"/>
<circle cx="332.55" cy="540.37" r="2.5" fill="#3a8cdf" stroke="#414042" stroke-width="0.5"/>
<circle cx="333.45" cy="542.73" r="2.5" fill="#3a8cdf" stroke="#414042" stroke-width="0.5"/>
<line x1="344.75" y1="499.59" x2="344.75" y2="506.13" stroke="#a7a9ac" stroke-width="0.6"/>
<rect x="341" y="506.13" width="7.5" height="70.97" fill="#2447c6" stroke="#414042" stroke-width="0.5"/>
<line x1="344.75" y1="506.13" x2="344.75" y2="512.4" stroke="#414042" stroke-width="0.6"/>
<circle cx="344.75" cy="496.22" r="2.5" fill="#2447c6" stroke="#414042" stroke-width="0.5"/>
<circle cx="344.75" cy="509.7" r="2.5" fill="#2447c6" stroke="#414042" stroke-width="0.5"/>
<circle cx="344.35" cy="512.4" r="2.5" fill="#2447c6" stroke="#414042" stroke-width="0.5"/>
<line x1="363.75" y1="548.39" x2="363.75" y2="560.99" stroke="#a7a9ac" stroke-width="0.6"/>
<rect x="360" y="560.99" width="7.5" height="16.11" fill="#7ccb6e" stroke="#414042" stroke-width="0.5"/>
<line x1="363.75" y1="560.99" x2="363.75" y2="569.89" stroke="#414042" stroke-width="0.6"/>
<circle cx="363.75" cy="548.39" r="2.5" fill="#7ccb6e" stroke="#414042" stroke-width="0.5"/>
<circle cx="363.45" cy="565.64" r="2.5" fill="#7ccb6e" stroke="#414042" stroke-width="0.5"/>
<circle cx="364.15" cy="569.89" r="2.5" fill="#7ccb6e" stroke="#414042" stroke-width="0.5"/>
<line x1="374.95" y1="532.62" x2="374.95" y2="541.04" stroke="#a7a9ac" stroke-width="0.6"/>
<rect x="371.2" y="541.04" width="7.5" height="36.06" fill="#5ec3e2" stroke="#414042" stroke-width="0.5"/>
<line x1="374.95" y1="541.04" x2="374.95" y2="554.86" stroke="#414042" stroke-width="0.6"/>
<circle cx="374.95" cy="528.57" r="2.5" fill="#5ec3e2" stroke="#414042" stroke-width="0.5"/>
<circle cx="374.95" cy="539.02" r="2.5" fill="#5ec3e2" stroke="#414042" stroke-width="0.5"/>
<circle cx="374.95" cy="554.86" r="2.5" fill="#5ec3e2" stroke="#414042" stroke-width="0.5"/>
<line x1="386.15" y1="532.62" x2="386.15" y2="544.75" stroke="#a7a9ac" stroke-width="0.6"/>
<rect x="382.4" y="544.75" width="7.5" height="32.35" fill="#3a8cdf" stroke="#414042" stroke-width="0.5"/>
<line x1="386.15" y1="544.75" x2="386.15" y2="560.59" stroke="#414042" stroke-width="0.6"/>
<circle cx="386.15" cy="530.93" r="2.5" fill="#3a8cdf" stroke="#414042" stroke-width="0.5"/>
<circle cx="386.15" cy="542.52" r="2.5" fill="#3a8cdf" stroke="#414042" stroke-width="0.5"/>
<circle cx="386.15" cy="560.59" r="2.5" fill="#3a8cdf" stroke="#414042" stroke-width="0.5"/>
<line x1="397.35" y1="509.7" x2="397.35" y2="523.18" stroke="#a7a9ac" stroke-width="0.6"/>
<rect x="393.6" y="523.18" width="7.5" height="53.92" fill="#2447c6" stroke="#414042" stroke-width="0.5"/>
<line x1="397.35" y1="523.18" x2="397.35" y2="538.55" stroke="#414042" stroke-width="0.6"/>
<circle cx="396.35" cy="514.08" r="2.5" fill="#2447c6" stroke="#414042" stroke-width="0.5"/>
<circle cx="398.55" cy="515.77" r="2.5" fill="#2447c6" stroke="#414042" stroke-width="0.5"/>
<circle cx="397.35" cy="538.55" r="2.5" fill="#2447c6" stroke="#414042" stroke-width="0.5"/>
<path d="M310.1,485.5 V476.1 H344.5 V488.5" fill="none" stroke="#9d9fa2" stroke-width="0.7"/>
<text x="327.8" y="473.1" font-size="7.4" text-anchor="middle" fill="#231f20" textLength="23.5" lengthAdjust="spacingAndGlyphs" style="stroke-width:0.08px">0.0010</text>
<path d="M310.1,499.4 V491 H333.6 V516.2" fill="none" stroke="#9d9fa2" stroke-width="0.7"/>
<text x="322.2" y="488.9" font-size="7.4" text-anchor="middle" fill="#231f20" textLength="9.4" lengthAdjust="spacingAndGlyphs" style="stroke-width:0.08px">NS</text>
<path d="M310.1,527.1 V509.5 H322.2 V512" fill="none" stroke="#9d9fa2" stroke-width="0.7"/>
<text x="316.3" y="507.4" font-size="7.4" text-anchor="middle" fill="#231f20" textLength="9.4" lengthAdjust="spacingAndGlyphs" style="stroke-width:0.08px">NS</text>
<path d="M363.3,485.5 V476.1 H397.4 V499.4" fill="none" stroke="#9d9fa2" stroke-width="0.7"/>
<text x="380.1" y="473.1" font-size="7.4" text-anchor="middle" fill="#231f20" textLength="23.5" lengthAdjust="spacingAndGlyphs" style="stroke-width:0.08px">0.0028</text>
<path d="M363.3,499.4 V491 H386 V516.2" fill="none" stroke="#9d9fa2" stroke-width="0.7"/>
<text x="374.7" y="488.9" font-size="7.4" text-anchor="middle" fill="#231f20" textLength="9.4" lengthAdjust="spacingAndGlyphs" style="stroke-width:0.08px">NS</text>
<path d="M363.3,539.7 V509.5 H374.6 V518.7" fill="none" stroke="#9d9fa2" stroke-width="0.7"/>
<text x="368.6" y="507.4" font-size="7.4" text-anchor="middle" fill="#231f20" textLength="9.4" lengthAdjust="spacingAndGlyphs" style="stroke-width:0.08px">NS</text>
<text x="327" y="594.5" font-size="10.2" text-anchor="middle" fill="#231f20" textLength="20.5" lengthAdjust="spacingAndGlyphs">24 h</text>
<text x="380.3" y="594.5" font-size="10.2" text-anchor="middle" fill="#231f20" textLength="20.5" lengthAdjust="spacingAndGlyphs">48 h</text>
<text x="259" y="526.5" font-size="10" text-anchor="middle" fill="#231f20" textLength="130.3" lengthAdjust="spacingAndGlyphs" transform="rotate(-90 259 526.5)">Live cells (% of single cells)</text>
<text x="270.6" y="526" font-size="10" text-anchor="middle" fill="#231f20" textLength="93.5" lengthAdjust="spacingAndGlyphs" transform="rotate(-90 270.6 526)">(treated/untreated)</text>
<text x="444.8" y="453" font-size="16" text-anchor="start" fill="#000" font-weight="bold">g</text>
<line x1="497.1" y1="475.5" x2="497.1" y2="577.8" stroke="#6d6e71" stroke-width="0.8"/>
<line x1="496.7" y1="577.4" x2="598.8" y2="577.4" stroke="#6d6e71" stroke-width="0.8"/>
<line x1="492.1" y1="577.4" x2="497.1" y2="577.4" stroke="#6d6e71" stroke-width="0.8"/>
<text x="487.4" y="580.4" font-size="8.6" text-anchor="end" fill="#231f20">0</text>
<line x1="492.1" y1="543.5" x2="497.1" y2="543.5" stroke="#6d6e71" stroke-width="0.8"/>
<text x="487.4" y="546.5" font-size="8.6" text-anchor="end" fill="#231f20">0.5</text>
<line x1="492.1" y1="509.6" x2="497.1" y2="509.6" stroke="#6d6e71" stroke-width="0.8"/>
<text x="487.4" y="512.6" font-size="8.6" text-anchor="end" fill="#231f20">1.0</text>
<line x1="492.1" y1="475.7" x2="497.1" y2="475.7" stroke="#6d6e71" stroke-width="0.8"/>
<text x="487.4" y="478.7" font-size="8.6" text-anchor="end" fill="#231f20">1.5</text>
<line x1="512.85" y1="577.4" x2="512.85" y2="582.6" stroke="#6d6e71" stroke-width="0.8"/>
<rect x="505.1" y="564.31" width="15.5" height="13.09" fill="#7ccb6e" stroke="#414042" stroke-width="0.6"/>
<line x1="512.85" y1="555.7" x2="512.85" y2="573.6" stroke="#414042" stroke-width="0.7"/>
<line x1="509.55" y1="555.7" x2="516.15" y2="555.7" stroke="#414042" stroke-width="0.7"/>
<line x1="509.55" y1="573.6" x2="516.15" y2="573.6" stroke="#414042" stroke-width="0.7"/>
<circle cx="512.85" cy="547.57" r="2.6" fill="#7ccb6e" stroke="#414042" stroke-width="0.5"/>
<circle cx="512.85" cy="568.59" r="2.6" fill="#7ccb6e" stroke="#414042" stroke-width="0.5"/>
<circle cx="512.85" cy="577.06" r="2.6" fill="#7ccb6e" stroke="#414042" stroke-width="0.5"/>
<line x1="536.05" y1="577.4" x2="536.05" y2="582.6" stroke="#6d6e71" stroke-width="0.8"/>
<rect x="528.3" y="519.77" width="15.5" height="57.63" fill="#62c1f0" stroke="#414042" stroke-width="0.6"/>
<line x1="536.05" y1="510.62" x2="536.05" y2="529.26" stroke="#414042" stroke-width="0.7"/>
<line x1="532.75" y1="510.62" x2="539.35" y2="510.62" stroke="#414042" stroke-width="0.7"/>
<line x1="532.75" y1="529.26" x2="539.35" y2="529.26" stroke="#414042" stroke-width="0.7"/>
<circle cx="536.05" cy="500.99" r="2.6" fill="#62c1f0" stroke="#414042" stroke-width="0.5"/>
<circle cx="536.05" cy="526.55" r="2.6" fill="#62c1f0" stroke="#414042" stroke-width="0.5"/>
<circle cx="536.05" cy="532.38" r="2.6" fill="#62c1f0" stroke="#414042" stroke-width="0.5"/>
<line x1="559.35" y1="577.4" x2="559.35" y2="582.6" stroke="#6d6e71" stroke-width="0.8"/>
<rect x="551.6" y="535.36" width="15.5" height="42.04" fill="#1a80e8" stroke="#414042" stroke-width="0.6"/>
<line x1="559.35" y1="523.84" x2="559.35" y2="546.21" stroke="#414042" stroke-width="0.7"/>
<line x1="556.05" y1="523.84" x2="562.65" y2="523.84" stroke="#414042" stroke-width="0.7"/>
<line x1="556.05" y1="546.21" x2="562.65" y2="546.21" stroke="#414042" stroke-width="0.7"/>
<circle cx="559.35" cy="514.35" r="2.6" fill="#1a80e8" stroke="#414042" stroke-width="0.5"/>
<circle cx="559.35" cy="538.28" r="2.6" fill="#1a80e8" stroke="#414042" stroke-width="0.5"/>
<circle cx="559.35" cy="553.87" r="2.6" fill="#1a80e8" stroke="#414042" stroke-width="0.5"/>
<line x1="582.85" y1="577.4" x2="582.85" y2="582.6" stroke="#6d6e71" stroke-width="0.8"/>
<rect x="575.1" y="500.11" width="15.5" height="77.29" fill="#2447c6" stroke="#414042" stroke-width="0.6"/>
<line x1="582.85" y1="487.23" x2="582.85" y2="512.99" stroke="#414042" stroke-width="0.7"/>
<line x1="579.55" y1="487.23" x2="586.15" y2="487.23" stroke="#414042" stroke-width="0.7"/>
<line x1="579.55" y1="512.99" x2="586.15" y2="512.99" stroke="#414042" stroke-width="0.7"/>
<circle cx="582.85" cy="509.8" r="2.6" fill="#2447c6" stroke="#414042" stroke-width="0.5"/>
<circle cx="582.85" cy="515.7" r="2.6" fill="#2447c6" stroke="#414042" stroke-width="0.5"/>
<path d="M512.7,540.8 V439.8 H582.7 V449.3" fill="none" stroke="#9d9fa2" stroke-width="0.7"/>
<text x="547.4" y="436.8" font-size="7.4" text-anchor="middle" fill="#231f20" textLength="23.5" lengthAdjust="spacingAndGlyphs" style="stroke-width:0.08px">0.0126</text>
<path d="M535.7,494.7 V461.1 H582.7 V471.2" fill="none" stroke="#9d9fa2" stroke-width="0.7"/>
<text x="559.3" y="459" font-size="7.4" text-anchor="middle" fill="#231f20" textLength="9.4" lengthAdjust="spacingAndGlyphs" style="stroke-width:0.08px">NS</text>
<path d="M559.3,508.1 V483.3 H582.7 V483.3" fill="none" stroke="#9d9fa2" stroke-width="0.7"/>
<text x="571.4" y="481" font-size="7.4" text-anchor="middle" fill="#231f20" textLength="9.4" lengthAdjust="spacingAndGlyphs" style="stroke-width:0.08px">NS</text>
<text x="516.45" y="591.7" font-size="10.5" text-anchor="end" fill="#231f20" transform="rotate(-45 516.45 591.7)"><tspan font-size="10.5" dy="0">Mock</tspan></text>
<text x="541.85" y="591.3" font-size="10.5" text-anchor="end" fill="#231f20" transform="rotate(-45 541.85 591.3)"><tspan font-size="10.5" dy="0">EP2</tspan><tspan font-size="6.3" dy="-4">−/−</tspan></text>
<text x="565.15" y="591.3" font-size="10.5" text-anchor="end" fill="#231f20" transform="rotate(-45 565.15 591.3)"><tspan font-size="10.5" dy="0">EP4</tspan><tspan font-size="6.3" dy="-4">−/−</tspan></text>
<text x="588.65" y="591.3" font-size="10.5" text-anchor="end" fill="#231f20" transform="rotate(-45 588.65 591.3)"><tspan font-size="10.5" dy="0">EP2</tspan><tspan font-size="6.3" dy="-4">−/−</tspan><tspan font-size="10.5" dy="4">EP4</tspan><tspan font-size="6.3" dy="-4">−/−</tspan></text>
<circle cx="619.6" cy="499" r="2.6" fill="#7ccb6e" stroke="#414042" stroke-width="0.5"/>
<text x="629" y="502.2" font-size="9.2" fill="#231f20"><tspan font-size="9.6" dy="0">Mock</tspan></text>
<circle cx="619.6" cy="516.5" r="2.6" fill="#62c1f0" stroke="#414042" stroke-width="0.5"/>
<text x="629" y="519.7" font-size="9.2" fill="#231f20"><tspan font-size="9.6" dy="0">EP2</tspan><tspan font-size="6.2" dy="-3.8">−/−</tspan></text>
<circle cx="619.6" cy="535.2" r="2.6" fill="#1a80e8" stroke="#414042" stroke-width="0.5"/>
<text x="629" y="538.4" font-size="9.2" fill="#231f20"><tspan font-size="9.6" dy="0">EP4</tspan><tspan font-size="6.2" dy="-3.8">−/−</tspan></text>
<circle cx="619.6" cy="553.7" r="2.6" fill="#2447c6" stroke="#414042" stroke-width="0.5"/>
<text x="629" y="556.9" font-size="9.2" fill="#231f20"><tspan font-size="9.6" dy="0">EP2</tspan><tspan font-size="6.2" dy="-3.8">−/−</tspan><tspan font-size="9.6" dy="3.8">EP4</tspan><tspan font-size="6.2" dy="-3.8">−/−</tspan></text>
<text x="453.8" y="526.3" font-size="10" text-anchor="middle" fill="#231f20" textLength="73" lengthAdjust="spacingAndGlyphs" transform="rotate(-90 453.8 526.3)">Live cells/bead</text>
<text x="464.6" y="526.3" font-size="10" text-anchor="middle" fill="#231f20" textLength="93.5" lengthAdjust="spacingAndGlyphs" transform="rotate(-90 464.6 526.3)">(treated/untreated)</text>
<text x="-0.8" y="627" font-size="16" text-anchor="start" fill="#000" font-weight="bold">h</text>
<rect x="59.4" y="635.3" width="104" height="103.2" fill="#fff" stroke="#939598" stroke-width="0.8"/>
<line x1="59.4" y1="660.2" x2="163.4" y2="660.2" stroke="#6d6e71" stroke-width="0.6"/>
<line x1="59.4" y1="671.4" x2="163.4" y2="671.4" stroke="#6d6e71" stroke-width="0.6"/>
<line x1="59.4" y1="682.5" x2="163.4" y2="682.5" stroke="#6d6e71" stroke-width="0.6"/>
<line x1="59.4" y1="693.6" x2="163.4" y2="693.6" stroke="#6d6e71" stroke-width="0.6"/>
<line x1="59.4" y1="704.8" x2="163.4" y2="704.8" stroke="#6d6e71" stroke-width="0.6"/>
<line x1="59.4" y1="716" x2="163.4" y2="716" stroke="#6d6e71" stroke-width="0.6"/>
<line x1="59.4" y1="727.1" x2="163.4" y2="727.1" stroke="#6d6e71" stroke-width="0.6"/>
<line x1="59.4" y1="738.5" x2="163.4" y2="738.5" stroke="#6d6e71" stroke-width="0.6"/>
<path d="M59.4,660.2 L76,660.2 L76,660.19 L76.7,660.17 L77.4,660.15 L78.1,660.11 L78.8,660.04 L79.5,659.93 L80.2,659.76 L80.9,659.49 L81.6,659.1 L82.3,658.55 L83,657.78 L83.7,656.78 L84.4,655.5 L85.1,653.94 L85.8,652.12 L86.5,650.08 L87.2,647.9 L87.9,645.71 L88.6,643.64 L89.3,641.84 L90,640.47 L90.7,639.63 L91.4,637.8 L92.1,639.16 L92.8,641.95 L93.5,645.58 L94.2,649.37 L94.9,652.77 L95.6,655.49 L96.3,657.31 L97,658.26 L97.7,658.63 L98.4,658.57 L99.1,658.49 L99.8,658.75 L100.5,658.49 L101.2,658.39 L101.9,658.25 L102.6,658.71 L103.3,658.54 L104,658.66 L104.7,658.13 L105.4,658.19 L106.1,658.62 L106.8,657.94 L107.5,657.92 L108.2,658.12 L108.9,658.12 L109.6,658.41 L110.3,658.49 L111,658.1 L111.7,658.41 L112.4,658.29 L113.1,658.23 L113.8,658.35 L114.5,658.02 L115.2,658.01 L115.9,657.71 L116.6,657.91 L117.3,657.8 L118,657.87 L118.7,657.73 L119.4,657.85 L120.1,657.95 L120.8,657.42 L121.5,657.4 L122.2,657.48 L122.9,657.55 L123.6,657.8 L124.3,657.83 L125,657.77 L125.7,657.9 L126.4,657.38 L127.1,657.61 L127.8,657.28 L128.5,657.57 L129.2,657.15 L129.9,657.2 L130.6,657.77 L131.3,657.6 L132,657.08 L132.7,657.36 L133.4,656.98 L134.1,657.36 L134.8,657.57 L135.5,657.15 L136.2,657.02 L136.9,657.35 L137.6,657.46 L138.3,657.26 L139,656.79 L139.7,656.91 L140.4,657.33 L141.1,657.22 L141.8,657.29 L142.5,657.3 L143.2,656.76 L143.9,657.17 L144.6,656.87 L145.3,656.94 L146,657.12 L146.7,656.74 L147.4,657.16 L148.1,657.33 L148.8,658.33 L149.5,658.74 L150.2,659.51 L150.9,659.93 L151.6,660.2 L151.6,660.2 L163.4,660.2" fill="#7dcb6e" stroke="#3a3a3a" stroke-width="0.5" stroke-linejoin="round"/>
<path d="M59.4,671.4 L76,671.4 L76,671.31 L76.7,671.22 L77.4,671.04 L78.1,670.71 L78.8,670.17 L79.5,669.32 L80.2,668.08 L80.9,666.36 L81.6,664.17 L82.3,661.57 L83,658.74 L83.7,655.96 L84.4,653.57 L85.1,651.91 L85.8,651.21 L86.5,650.7 L87.2,653.88 L87.9,658.17 L88.6,662.46 L89.3,665.27 L90,665.25 L90.7,665.24 L91.4,665.23 L92.1,665.22 L92.8,665.21 L93.5,665.21 L94.2,665.2 L94.9,665.18 L95.6,665.18 L96.3,665.03 L97,665.01 L97.7,665.36 L98.4,665.52 L99.1,665.39 L99.8,665.59 L100.5,665.35 L101.2,665.56 L101.9,665.75 L102.6,665.91 L103.3,665.97 L104,666.46 L104.7,666.39 L105.4,666.66 L106.1,666.19 L106.8,666.84 L107.5,666.36 L108.2,666.93 L108.9,666.55 L109.6,666.84 L110.3,666.85 L111,666.59 L111.7,667.22 L112.4,667.24 L113.1,666.69 L113.8,666.95 L114.5,667.17 L115.2,666.47 L115.9,666.43 L116.6,666.94 L117.3,666.65 L118,666.78 L118.7,666.58 L119.4,666.29 L120.1,666.54 L120.8,666.1 L121.5,666.48 L122.2,666.32 L122.9,665.8 L123.6,666.01 L124.3,665.93 L125,665.73 L125.7,665.74 L126.4,665.73 L127.1,665.9 L127.8,665.33 L128.5,665.09 L129.2,665 L129.9,665.15 L130.6,665.28 L131.3,665.2 L132,664.9 L132.7,664.83 L133.4,665.15 L134.1,664.98 L134.8,664.82 L135.5,664.64 L136.2,664.41 L136.9,664.7 L137.6,665.1 L138.3,664.61 L139,664.95 L139.7,664.96 L140.4,665.24 L141.1,665.16 L141.8,665.26 L142.5,665.08 L143.2,665.66 L143.9,665.45 L144.6,665.82 L145.3,665.56 L146,666.12 L146.7,666.03 L147.4,666.05 L148.1,666.79 L148.8,668.26 L149.5,669.02 L150.2,670.2 L150.9,671.14 L151.6,671.4 L151.6,671.4 L163.4,671.4" fill="#7dcb6e" stroke="#3a3a3a" stroke-width="0.5" stroke-linejoin="round"/>
<path d="M59.4,682.5 L76,682.5 L76,682.49 L76.7,682.47 L77.4,682.45 L78.1,682.41 L78.8,682.34 L79.5,682.23 L80.2,682.06 L80.9,681.8 L81.6,681.41 L82.3,680.86 L83,680.11 L83.7,679.11 L84.4,677.85 L85.1,676.3 L85.8,674.5 L86.5,672.47 L87.2,670.32 L87.9,668.15 L88.6,666.1 L89.3,664.32 L90,662.96 L90.7,662.13 L91.4,660.31 L92.1,661.66 L92.8,664.42 L93.5,668.02 L94.2,671.77 L94.9,675.14 L95.6,677.97 L96.3,679.55 L97,680.75 L97.7,680.84 L98.4,681.28 L99.1,681.22 L99.8,681.25 L100.5,681.16 L101.2,680.78 L101.9,681.17 L102.6,680.86 L103.3,681.05 L104,680.97 L104.7,680.84 L105.4,680.53 L106.1,680.66 L106.8,681.04 L107.5,680.83 L108.2,680.89 L108.9,680.36 L109.6,680.37 L110.3,680.34 L111,680.3 L111.7,680.33 L112.4,680.15 L113.1,680.23 L113.8,680.58 L114.5,680.14 L115.2,680.36 L115.9,680.14 L116.6,680.25 L117.3,680.31 L118,680.33 L118.7,680.25 L119.4,680.31 L120.1,680.41 L120.8,679.89 L121.5,679.88 L122.2,679.72 L122.9,679.89 L123.6,679.96 L124.3,679.8 L125,680.2 L125.7,679.79 L126.4,679.92 L127.1,680.08 L127.8,680.03 L128.5,679.78 L129.2,679.94 L129.9,679.76 L130.6,679.63 L131.3,679.75 L132,679.9 L132.7,679.62 L133.4,679.77 L134.1,679.74 L134.8,679.74 L135.5,679.59 L136.2,679.77 L136.9,679.33 L137.6,679.09 L138.3,679.46 L139,679.2 L139.7,679.02 L140.4,679.61 L141.1,679.51 L141.8,679.02 L142.5,678.97 L143.2,679.08 L143.9,679.38 L144.6,679.18 L145.3,678.84 L146,678.83 L146.7,678.89 L147.4,679.31 L148.1,679.4 L148.8,680.38 L149.5,680.79 L150.2,681.84 L150.9,682.22 L151.6,682.5 L151.6,682.5 L163.4,682.5" fill="#5ec3e0" stroke="#3a3a3a" stroke-width="0.5" stroke-linejoin="round"/>
<path d="M59.4,693.6 L76,693.6 L76,693.58 L76.7,693.56 L77.4,693.51 L78.1,693.41 L78.8,693.22 L79.5,692.89 L80.2,692.35 L80.9,691.51 L81.6,690.27 L82.3,688.59 L83,686.47 L83.7,683.98 L84.4,681.31 L85.1,678.73 L85.8,676.56 L86.5,675.11 L87.2,673.08 L87.9,674.45 L88.6,677.66 L89.3,681.75 L90,685.71 L90.7,688.86 L91.4,689.13 L92.1,689.12 L92.8,689.11 L93.5,689.11 L94.2,689.11 L94.9,689.12 L95.6,689.42 L96.3,689.02 L97,689.07 L97.7,688.88 L98.4,689.41 L99.1,689.51 L99.8,689.26 L100.5,689.4 L101.2,689.74 L101.9,689.56 L102.6,689.85 L103.3,689.67 L104,690.22 L104.7,690.23 L105.4,689.84 L106.1,690.3 L106.8,690.4 L107.5,690.05 L108.2,690.2 L108.9,690.57 L109.6,690.32 L110.3,690.27 L111,690.65 L111.7,690.34 L112.4,690.74 L113.1,690.62 L113.8,690.82 L114.5,690.77 L115.2,690.26 L115.9,690.63 L116.6,690.16 L117.3,690.48 L118,690.31 L118.7,690.06 L119.4,690.14 L120.1,690.48 L120.8,690.09 L121.5,690 L122.2,690.26 L122.9,690.26 L123.6,689.65 L124.3,689.85 L125,690.01 L125.7,689.79 L126.4,689.92 L127.1,689.48 L127.8,689.65 L128.5,689.89 L129.2,689.35 L129.9,689.82 L130.6,689.65 L131.3,689.78 L132,689.25 L132.7,689.65 L133.4,689.32 L134.1,689.58 L134.8,689.27 L135.5,689.09 L136.2,689.22 L136.9,689.39 L137.6,689.48 L138.3,689.62 L139,689.62 L139.7,690.08 L140.4,689.92 L141.1,690.2 L141.8,689.9 L142.5,689.99 L143.2,690.74 L143.9,690.83 L144.6,690.58 L145.3,690.81 L146,691.34 L146.7,690.93 L147.4,690.83 L148.1,691.65 L148.8,692.2 L149.5,692.52 L150.2,692.7 L150.9,693.43 L151.6,693.6 L151.6,693.6 L163.4,693.6" fill="#5ec3e0" stroke="#3a3a3a" stroke-width="0.5" stroke-linejoin="round"/>
<path d="M59.4,704.8 L76,704.8 L76,704.78 L76.7,704.75 L77.4,704.72 L78.1,704.65 L78.8,704.55 L79.5,704.39 L80.2,704.14 L80.9,703.78 L81.6,703.26 L82.3,702.56 L83,701.63 L83.7,700.44 L84.4,698.99 L85.1,697.3 L85.8,695.41 L86.5,693.39 L87.2,691.35 L87.9,689.43 L88.6,687.77 L89.3,686.49 L90,685.72 L90.7,684.01 L91.4,685.28 L92.1,687.86 L92.8,691.23 L93.5,694.75 L94.2,697.91 L94.9,700.4 L95.6,701.83 L96.3,703.57 L97,703.03 L97.7,703.4 L98.4,702.78 L99.1,703.43 L99.8,702.78 L100.5,702.89 L101.2,702.73 L101.9,702.59 L102.6,703.09 L103.3,702.98 L104,702.69 L104.7,702.95 L105.4,702.92 L106.1,702.91 L106.8,702.44 L107.5,702.39 L108.2,702.41 L108.9,702.77 L109.6,702.24 L110.3,702.5 L111,702.66 L111.7,702.46 L112.4,702.45 L113.1,702.65 L113.8,702.28 L114.5,702.38 L115.2,702.2 L115.9,701.91 L116.6,702.07 L117.3,702.21 L118,701.85 L118.7,701.72 L119.4,702.04 L120.1,701.68 L120.8,702.3 L121.5,702.17 L122.2,702.12 L122.9,701.54 L123.6,701.68 L124.3,701.62 L125,701.89 L125.7,701.71 L126.4,701.4 L127.1,701.91 L127.8,701.86 L128.5,701.87 L129.2,701.54 L129.9,701.25 L130.6,701.41 L131.3,701.48 L132,701.37 L132.7,701.56 L133.4,700.99 L134.1,701.37 L134.8,701.42 L135.5,701.33 L136.2,700.93 L136.9,701.25 L137.6,700.8 L138.3,701.16 L139,701.05 L139.7,701.27 L140.4,700.65 L141.1,700.7 L141.8,700.88 L142.5,701.1 L143.2,700.8 L143.9,700.84 L144.6,700.48 L145.3,700.4 L146,700.53 L146.7,700.85 L147.4,701.02 L148.1,701.09 L148.8,701.83 L149.5,703.16 L150.2,703.69 L150.9,704.48 L151.6,704.8 L151.6,704.8 L163.4,704.8" fill="#3a8ade" stroke="#3a3a3a" stroke-width="0.5" stroke-linejoin="round"/>
<path d="M59.4,716 L76,716 L76,715.99 L76.7,715.98 L77.4,715.95 L78.1,715.88 L78.8,715.76 L79.5,715.54 L80.2,715.15 L80.9,714.51 L81.6,713.55 L82.3,712.16 L83,710.31 L83.7,708.02 L84.4,705.41 L85.1,702.67 L85.8,700.13 L86.5,698.09 L87.2,696.87 L87.9,695.22 L88.6,697.23 L89.3,700.87 L90,705.11 L90.7,708.97 L91.4,711.81 L92.1,711.8 L92.8,711.8 L93.5,711.8 L94.2,711.84 L94.9,711.98 L95.6,712.22 L96.3,712.27 L97,712.46 L97.7,712.58 L98.4,712.74 L99.1,712.71 L99.8,713.13 L100.5,712.9 L101.2,713.32 L101.9,713.1 L102.6,713.06 L103.3,713.18 L104,712.75 L104.7,713.04 L105.4,712.69 L106.1,712.56 L106.8,713.04 L107.5,712.57 L108.2,712.62 L108.9,712.7 L109.6,713.14 L110.3,712.8 L111,712.6 L111.7,712.76 L112.4,712.73 L113.1,712.6 L113.8,712.56 L114.5,712.11 L115.2,712.34 L115.9,712.21 L116.6,711.98 L117.3,711.7 L118,712.08 L118.7,712.18 L119.4,711.45 L120.1,711.47 L120.8,711.43 L121.5,711.54 L122.2,711.67 L122.9,711.69 L123.6,711.55 L124.3,711.4 L125,711.63 L125.7,711.15 L126.4,711.09 L127.1,711.55 L127.8,710.93 L128.5,711.13 L129.2,710.79 L129.9,711.06 L130.6,710.8 L131.3,711.08 L132,711.02 L132.7,711.16 L133.4,711.54 L134.1,711.51 L134.8,711.51 L135.5,711.44 L136.2,711.52 L136.9,711.45 L137.6,711.42 L138.3,711.66 L139,711.77 L139.7,711.69 L140.4,711.44 L141.1,711.61 L141.8,711.79 L142.5,711.76 L143.2,712.25 L143.9,712.43 L144.6,712.52 L145.3,712.58 L146,712.74 L146.7,712.38 L147.4,712.25 L148.1,713.43 L148.8,713.72 L149.5,714.2 L150.2,714.95 L150.9,715.75 L151.6,716 L151.6,716 L163.4,716" fill="#3a8ade" stroke="#3a3a3a" stroke-width="0.5" stroke-linejoin="round"/>
<path d="M59.4,727.1 L76,727.1 L76,727.1 L76.7,727.09 L77.4,727.08 L78.1,727.06 L78.8,727.03 L79.5,726.98 L80.2,726.9 L80.9,726.76 L81.6,726.55 L82.3,726.23 L83,725.78 L83.7,725.15 L84.4,724.3 L85.1,723.2 L85.8,721.84 L86.5,720.21 L87.2,718.36 L87.9,716.34 L88.6,714.26 L89.3,712.23 L90,710.4 L90.7,708.91 L91.4,707.89 L92.1,707.42 L92.8,706.43 L93.5,708.55 L94.2,711.72 L94.9,715.32 L95.6,718.74 L96.3,721.39 L97,723.4 L97.7,725.27 L98.4,725.44 L99.1,725.44 L99.8,725.44 L100.5,725.79 L101.2,725.81 L101.9,725.52 L102.6,725.23 L103.3,725.54 L104,725.33 L104.7,725.42 L105.4,725.02 L106.1,724.91 L106.8,725.26 L107.5,724.8 L108.2,725.42 L108.9,724.86 L109.6,724.78 L110.3,725.25 L111,724.82 L111.7,724.89 L112.4,724.58 L113.1,725.06 L113.8,724.79 L114.5,724.52 L115.2,724.65 L115.9,724.85 L116.6,724.97 L117.3,724.33 L118,724.62 L118.7,724.22 L119.4,724.78 L120.1,724.28 L120.8,724.24 L121.5,724.13 L122.2,724.72 L122.9,724.44 L123.6,724.63 L124.3,724.1 L125,724.34 L125.7,723.88 L126.4,724.25 L127.1,723.94 L127.8,723.84 L128.5,724.24 L129.2,723.98 L129.9,723.67 L130.6,723.93 L131.3,724.01 L132,724.04 L132.7,723.64 L133.4,724.02 L134.1,723.69 L134.8,723.69 L135.5,723.66 L136.2,723.92 L136.9,723.51 L137.6,723.29 L138.3,723.68 L139,723.63 L139.7,723.19 L140.4,723.38 L141.1,723.56 L141.8,723.71 L142.5,723.15 L143.2,723.4 L143.9,723.28 L144.6,723.38 L145.3,723.11 L146,723.04 L146.7,723.33 L147.4,723.5 L148.1,723.49 L148.8,724.28 L149.5,725.64 L150.2,726 L150.9,726.65 L151.6,727.1 L151.6,727.1 L163.4,727.1" fill="#2447c6" stroke="#3a3a3a" stroke-width="0.5" stroke-linejoin="round"/>
<path d="M59.4,738.5 L76,738.5 L76,738.5 L76.7,738.4 L77.4,738.3 L78.1,738.2 L78.8,738.1 L79.5,738 L80.2,736.46 L80.9,734.92 L81.6,733.38 L82.3,731.2 L83,728.18 L83.7,725.16 L84.4,722.44 L85.1,720.49 L85.8,719.53 L86.5,721.01 L87.2,722.5 L87.9,724.48 L88.6,726.46 L89.3,728.43 L90,729.63 L90.7,730.5 L91.4,731.38 L92.1,731.67 L92.8,731.86 L93.5,731.76 L94.2,730.91 L94.9,730.06 L95.6,729.37 L96.3,728.79 L97,728.15 L97.7,728.66 L98.4,728.94 L99.1,728.82 L99.8,729.47 L100.5,729.52 L101.2,729.75 L101.9,730 L102.6,730.56 L103.3,730.55 L104,730.92 L104.7,730.99 L105.4,731.72 L106.1,731.27 L106.8,731.86 L107.5,731.58 L108.2,731.88 L108.9,731.8 L109.6,732.3 L110.3,732.33 L111,732.59 L111.7,732.28 L112.4,732.52 L113.1,732.8 L113.8,732.88 L114.5,733.03 L115.2,733.03 L115.9,732.89 L116.6,733.04 L117.3,732.96 L118,733.42 L118.7,733.04 L119.4,733.03 L120.1,733.25 L120.8,733.32 L121.5,733.34 L122.2,733.87 L122.9,733.73 L123.6,734.03 L124.3,733.69 L125,733.91 L125.7,734.25 L126.4,734.14 L127.1,734.04 L127.8,734.27 L128.5,734.63 L129.2,734.24 L129.9,734.86 L130.6,734.49 L131.3,734.5 L132,734.73 L132.7,734.71 L133.4,735.06 L134.1,735.34 L134.8,735.29 L135.5,735.23 L136.2,735.31 L136.9,735.65 L137.6,735.41 L138.3,736.06 L139,735.88 L139.7,736.26 L140.4,736.17 L141.1,735.89 L141.8,736.52 L142.5,736.1 L143.2,736.25 L143.9,736.48 L144.6,736.96 L145.3,736.82 L146,736.78 L146.7,737.39 L147.4,737.51 L148.1,737.88 L148.8,737.67 L149.5,737.87 L150.2,738.36 L150.9,738.5 L151.6,738.5 L151.6,738.5 L163.4,738.5" fill="#2447c6" stroke="#3a3a3a" stroke-width="0.5" stroke-linejoin="round"/>
<rect x="59.4" y="635.3" width="104" height="103.2" fill="none" stroke="#939598" stroke-width="0.8"/>
<text x="53.8" y="647.0" font-size="9.2" text-anchor="end" fill="#231f20"><tspan>PGE</tspan><tspan font-size="6.4" dy="2.4">2</tspan></text>
<text x="51.3" y="664.2" font-size="9" text-anchor="middle" fill="#231f20">−</text>
<text x="51.3" y="676.6" font-size="9" text-anchor="middle" fill="#231f20">+</text>
<text x="51.3" y="686.5" font-size="9" text-anchor="middle" fill="#231f20">−</text>
<text x="51.3" y="698.8" font-size="9" text-anchor="middle" fill="#231f20">+</text>
<text x="51.3" y="708.8" font-size="9" text-anchor="middle" fill="#231f20">−</text>
<text x="51.3" y="721.2" font-size="9" text-anchor="middle" fill="#231f20">+</text>
<text x="51.3" y="731.1" font-size="9" text-anchor="middle" fill="#231f20">−</text>
<text x="51.3" y="743.7" font-size="9" text-anchor="middle" fill="#231f20">+</text>
<path d="M165.9,660.2 H170.9 V671.4 H165.9" fill="none" stroke="#6d6e71" stroke-width="0.7"/>
<text x="177.1" y="669.4" font-size="10.2" fill="#231f20"><tspan font-size="10.2" dy="0" textLength="25" lengthAdjust="spacingAndGlyphs">Mock</tspan></text>
<path d="M165.9,682.5 H170.9 V693.6 H165.9" fill="none" stroke="#6d6e71" stroke-width="0.7"/>
<text x="177.1" y="691.65" font-size="10.2" fill="#231f20"><tspan font-size="10.2" dy="0">Ep2</tspan><tspan font-size="6.2" dy="-3.8">−/−</tspan></text>
<path d="M165.9,704.8 H170.9 V716 H165.9" fill="none" stroke="#6d6e71" stroke-width="0.7"/>
<text x="177.1" y="714" font-size="10.2" fill="#231f20"><tspan font-size="10.2" dy="0">Ep4</tspan><tspan font-size="6.2" dy="-3.8">−/−</tspan></text>
<path d="M165.9,727.1 H170.9 V738.5 H165.9" fill="none" stroke="#6d6e71" stroke-width="0.7"/>
<text x="177.1" y="736.4" font-size="10.2" fill="#231f20"><tspan font-size="10.2" dy="0">Ep2</tspan><tspan font-size="6.2" dy="-3.8">−/−</tspan><tspan font-size="10.2" dy="3.8">Ep4</tspan><tspan font-size="6.2" dy="-3.8">−/−</tspan></text>
<text x="59.6" y="754.8" font-size="9.4" text-anchor="start" fill="#231f20" textLength="57.7" lengthAdjust="spacingAndGlyphs">IFNγ-PE-Cy7</text>
<line x1="124.1" y1="751.3" x2="161" y2="751.3" stroke="#4d5b78" stroke-width="0.8"/>
<path d="M157.6,749.4 L162.9,751.3 L157.6,753.2 Z" fill="#4d5b78"/>
<line x1="303.6" y1="637.2" x2="303.6" y2="738.9" stroke="#6d6e71" stroke-width="0.8"/>
<line x1="303.2" y1="738.5" x2="404.8" y2="738.5" stroke="#6d6e71" stroke-width="0.8"/>
<line x1="298.3" y1="738.5" x2="303.6" y2="738.5" stroke="#6d6e71" stroke-width="0.8"/>
<text x="293.5" y="741.6" font-size="8.6" text-anchor="end" fill="#231f20">0</text>
<line x1="298.3" y1="704.87" x2="303.6" y2="704.87" stroke="#6d6e71" stroke-width="0.8"/>
<text x="293.5" y="707.97" font-size="8.6" text-anchor="end" fill="#231f20">50</text>
<line x1="298.3" y1="671.23" x2="303.6" y2="671.23" stroke="#6d6e71" stroke-width="0.8"/>
<text x="293.5" y="674.33" font-size="8.6" text-anchor="end" fill="#231f20">100</text>
<line x1="298.3" y1="637.6" x2="303.6" y2="637.6" stroke="#6d6e71" stroke-width="0.8"/>
<text x="293.5" y="640.7" font-size="8.6" text-anchor="end" fill="#231f20">150</text>
<line x1="314.8" y1="738.5" x2="314.8" y2="743.3" stroke="#6d6e71" stroke-width="0.8"/>
<line x1="310" y1="683.34" x2="310" y2="686.03" stroke="#414042" stroke-width="0.6"/>
<line x1="308.2" y1="683.34" x2="311.8" y2="683.34" stroke="#414042" stroke-width="0.6"/>
<rect x="307" y="684.68" width="6" height="53.82" fill="#a0a0a0" stroke="#414042" stroke-width="0.5"/>
<line x1="310" y1="684.68" x2="310" y2="686.03" stroke="#414042" stroke-width="0.6"/>
<circle cx="309.5" cy="684.82" r="2.4" fill="#a0a0a0" stroke="#414042" stroke-width="0.5"/>
<circle cx="310.6" cy="685.83" r="2.4" fill="#a0a0a0" stroke="#414042" stroke-width="0.5"/>
<circle cx="310" cy="691.07" r="2.4" fill="#a0a0a0" stroke="#414042" stroke-width="0.5"/>
<line x1="319.6" y1="690.07" x2="319.6" y2="706.21" stroke="#414042" stroke-width="0.6"/>
<line x1="317.8" y1="690.07" x2="321.4" y2="690.07" stroke="#414042" stroke-width="0.6"/>
<rect x="316.6" y="698.14" width="6" height="40.36" fill="#8badda" stroke="#414042" stroke-width="0.5"/>
<line x1="319.6" y1="698.14" x2="319.6" y2="706.21" stroke="#414042" stroke-width="0.6"/>
<circle cx="319.6" cy="682.4" r="2.4" fill="#8badda" stroke="#414042" stroke-width="0.5"/>
<circle cx="319.6" cy="704.6" r="2.4" fill="#8badda" stroke="#414042" stroke-width="0.5"/>
<circle cx="319.9" cy="705.81" r="2.4" fill="#8badda" stroke="#414042" stroke-width="0.5"/>
<path d="M309.3,676.7 V639.4 H319.4 V673.7" fill="none" stroke="#9d9fa2" stroke-width="0.7"/>
<text x="314.35" y="637.9" font-size="7.4" text-anchor="middle" fill="#231f20" textLength="9.4" lengthAdjust="spacingAndGlyphs" style="stroke-width:0.08px">NS</text>
<text x="318.4" y="752.8" font-size="10.5" text-anchor="end" fill="#231f20" transform="rotate(-45 318.4 752.8)"><tspan font-size="10.5" dy="0">Mock</tspan></text>
<line x1="341.1" y1="738.5" x2="341.1" y2="743.3" stroke="#6d6e71" stroke-width="0.8"/>
<line x1="336.3" y1="690.07" x2="336.3" y2="706.21" stroke="#414042" stroke-width="0.6"/>
<line x1="334.5" y1="690.07" x2="338.1" y2="690.07" stroke="#414042" stroke-width="0.6"/>
<rect x="333.3" y="698.14" width="6" height="40.36" fill="#a0a0a0" stroke="#414042" stroke-width="0.5"/>
<line x1="336.3" y1="698.14" x2="336.3" y2="706.21" stroke="#414042" stroke-width="0.6"/>
<circle cx="336.3" cy="685.02" r="2.4" fill="#a0a0a0" stroke="#414042" stroke-width="0.5"/>
<circle cx="336.3" cy="699.35" r="2.4" fill="#a0a0a0" stroke="#414042" stroke-width="0.5"/>
<circle cx="336.3" cy="707.62" r="2.4" fill="#a0a0a0" stroke="#414042" stroke-width="0.5"/>
<line x1="345.9" y1="689.39" x2="345.9" y2="700.83" stroke="#414042" stroke-width="0.6"/>
<line x1="344.1" y1="689.39" x2="347.7" y2="689.39" stroke="#414042" stroke-width="0.6"/>
<rect x="342.9" y="695.11" width="6" height="43.39" fill="#8badda" stroke="#414042" stroke-width="0.5"/>
<line x1="345.9" y1="695.11" x2="345.9" y2="700.83" stroke="#414042" stroke-width="0.6"/>
<circle cx="345.9" cy="686.63" r="2.4" fill="#8badda" stroke="#414042" stroke-width="0.5"/>
<circle cx="345.9" cy="693.23" r="2.4" fill="#8badda" stroke="#414042" stroke-width="0.5"/>
<circle cx="345.9" cy="704.6" r="2.4" fill="#8badda" stroke="#414042" stroke-width="0.5"/>
<path d="M335.9,677.2 V639.4 H345.7 V677.6" fill="none" stroke="#9d9fa2" stroke-width="0.7"/>
<text x="340.8" y="637.9" font-size="7.4" text-anchor="middle" fill="#231f20" textLength="9.4" lengthAdjust="spacingAndGlyphs" style="stroke-width:0.08px">NS</text>
<text x="346.9" y="752.4" font-size="10.5" text-anchor="end" fill="#231f20" transform="rotate(-45 346.9 752.4)"><tspan font-size="10.5" dy="0">Ep2</tspan><tspan font-size="6.3" dy="-4">−/−</tspan></text>
<line x1="367.1" y1="738.5" x2="367.1" y2="743.3" stroke="#6d6e71" stroke-width="0.8"/>
<line x1="362.3" y1="681.99" x2="362.3" y2="690.74" stroke="#414042" stroke-width="0.6"/>
<line x1="360.5" y1="681.99" x2="364.1" y2="681.99" stroke="#414042" stroke-width="0.6"/>
<rect x="359.3" y="686.3" width="6" height="52.2" fill="#a0a0a0" stroke="#414042" stroke-width="0.5"/>
<line x1="362.3" y1="686.3" x2="362.3" y2="690.74" stroke="#414042" stroke-width="0.6"/>
<circle cx="362.3" cy="678.36" r="2.4" fill="#a0a0a0" stroke="#414042" stroke-width="0.5"/>
<circle cx="361.8" cy="687.98" r="2.4" fill="#a0a0a0" stroke="#414042" stroke-width="0.5"/>
<circle cx="362.9" cy="688.85" r="2.4" fill="#a0a0a0" stroke="#414042" stroke-width="0.5"/>
<line x1="371.9" y1="670.56" x2="371.9" y2="701.5" stroke="#414042" stroke-width="0.6"/>
<line x1="370.1" y1="670.56" x2="373.7" y2="670.56" stroke="#414042" stroke-width="0.6"/>
<rect x="368.9" y="686.3" width="6" height="52.2" fill="#8badda" stroke="#414042" stroke-width="0.5"/>
<line x1="371.9" y1="686.3" x2="371.9" y2="701.5" stroke="#414042" stroke-width="0.6"/>
<circle cx="371.9" cy="655.15" r="2.4" fill="#8badda" stroke="#414042" stroke-width="0.5"/>
<circle cx="371.6" cy="701.17" r="2.4" fill="#8badda" stroke="#414042" stroke-width="0.5"/>
<circle cx="372.5" cy="701.7" r="2.4" fill="#8badda" stroke="#414042" stroke-width="0.5"/>
<path d="M361.8,669.7 V639.4 H371.5 V645.7" fill="none" stroke="#9d9fa2" stroke-width="0.7"/>
<text x="366.65" y="637.9" font-size="7.4" text-anchor="middle" fill="#231f20" textLength="9.4" lengthAdjust="spacingAndGlyphs" style="stroke-width:0.08px">NS</text>
<text x="372.9" y="752.4" font-size="10.5" text-anchor="end" fill="#231f20" transform="rotate(-45 372.9 752.4)"><tspan font-size="10.5" dy="0">Ep4</tspan><tspan font-size="6.3" dy="-4">−/−</tspan></text>
<line x1="393.3" y1="738.5" x2="393.3" y2="743.3" stroke="#6d6e71" stroke-width="0.8"/>
<line x1="388.5" y1="697.47" x2="388.5" y2="704.87" stroke="#414042" stroke-width="0.6"/>
<line x1="386.7" y1="697.47" x2="390.3" y2="697.47" stroke="#414042" stroke-width="0.6"/>
<rect x="385.5" y="701.23" width="6" height="37.27" fill="#a0a0a0" stroke="#414042" stroke-width="0.5"/>
<line x1="388.5" y1="701.23" x2="388.5" y2="704.87" stroke="#414042" stroke-width="0.6"/>
<circle cx="387.9" cy="697.26" r="2.4" fill="#a0a0a0" stroke="#414042" stroke-width="0.5"/>
<circle cx="389.3" cy="698.47" r="2.4" fill="#a0a0a0" stroke="#414042" stroke-width="0.5"/>
<circle cx="388.5" cy="706.41" r="2.4" fill="#a0a0a0" stroke="#414042" stroke-width="0.5"/>
<line x1="398.1" y1="700.83" x2="398.1" y2="702.85" stroke="#414042" stroke-width="0.6"/>
<line x1="396.3" y1="700.83" x2="399.9" y2="700.83" stroke="#414042" stroke-width="0.6"/>
<rect x="395.1" y="702.11" width="6" height="36.39" fill="#8badda" stroke="#414042" stroke-width="0.5"/>
<line x1="398.1" y1="702.11" x2="398.1" y2="702.85" stroke="#414042" stroke-width="0.6"/>
<circle cx="397.7" cy="701.17" r="2.4" fill="#8badda" stroke="#414042" stroke-width="0.5"/>
<circle cx="398.6" cy="702.38" r="2.4" fill="#8badda" stroke="#414042" stroke-width="0.5"/>
<circle cx="398.1" cy="701.84" r="2.4" fill="#8badda" stroke="#414042" stroke-width="0.5"/>
<path d="M388.1,689 V639.4 H397.7 V692.4" fill="none" stroke="#9d9fa2" stroke-width="0.7"/>
<text x="392.9" y="637.9" font-size="7.4" text-anchor="middle" fill="#231f20" textLength="9.4" lengthAdjust="spacingAndGlyphs" style="stroke-width:0.08px">NS</text>
<text x="399.1" y="752.4" font-size="10.5" text-anchor="end" fill="#231f20" transform="rotate(-45 399.1 752.4)"><tspan font-size="10.5" dy="0">Ep2</tspan><tspan font-size="6.3" dy="-4">−/−</tspan><tspan font-size="10.5" dy="4">Ep4</tspan><tspan font-size="6.3" dy="-4">−/−</tspan></text>
<circle cx="427" cy="651.4" r="2.5" fill="#a0a0a0" stroke="#414042" stroke-width="0.5"/>
<text x="435.4" y="654.9" font-size="9.6" text-anchor="start" fill="#231f20" textLength="35.8" lengthAdjust="spacingAndGlyphs">Vehicle</text>
<circle cx="427" cy="666" r="2.5" fill="#8badda" stroke="#414042" stroke-width="0.5"/>
<text x="435.4" y="669.5" font-size="9.6" fill="#231f20"><tspan textLength="47" lengthAdjust="spacingAndGlyphs">250 ng ml</tspan><tspan font-size="6.4" dy="-3.8">−1</tspan><tspan x="494.6" font-size="9.6" dy="3.8" textLength="20" lengthAdjust="spacingAndGlyphs">PGE</tspan><tspan font-size="6.4" dy="2.2">2</tspan></text>
<text x="259.0" y="688" font-size="10.8" text-anchor="middle" fill="#231f20" transform="rotate(-90 259 688)"><tspan>IFNγ</tspan><tspan font-size="6.4" dy="-3.8">+</tspan><tspan dy="3.8"> fold change</tspan></text>
<text x="269.5" y="688" font-size="10" text-anchor="middle" fill="#231f20" textLength="66" lengthAdjust="spacingAndGlyphs" transform="rotate(-90 269.5 688)">(EpCAM/BSA)</text>
<text x="-0.8" y="812.7" font-size="16" text-anchor="start" fill="#000" font-weight="bold">i</text>
<line x1="65" y1="818.7" x2="65" y2="920.8" stroke="#bcbec0" stroke-width="0.8"/>
<line x1="64.6" y1="920.4" x2="217.6" y2="920.4" stroke="#6d6e71" stroke-width="0.8"/>
<line x1="59.9" y1="920.4" x2="65" y2="920.4" stroke="#6d6e71" stroke-width="0.8"/>
<text x="54.7" y="923.6" font-size="9" text-anchor="end" fill="#231f20">0</text>
<line x1="59.9" y1="881.3" x2="65" y2="881.3" stroke="#6d6e71" stroke-width="0.8"/>
<text x="54.7" y="884.5" font-size="9" text-anchor="end" fill="#231f20">50</text>
<line x1="59.9" y1="842.2" x2="65" y2="842.2" stroke="#6d6e71" stroke-width="0.8"/>
<text x="54.7" y="845.4" font-size="9" text-anchor="end" fill="#231f20">100</text>
<line x1="71.95" y1="871.92" x2="71.95" y2="875.12" stroke="#414042" stroke-width="0.6"/>
<line x1="70.15" y1="871.92" x2="73.75" y2="871.92" stroke="#414042" stroke-width="0.6"/>
<rect x="68.7" y="875.12" width="6.5" height="45.28" fill="#8badda" stroke="#414042" stroke-width="0.5"/>
<circle cx="72.35" cy="867.69" r="2.5" fill="#8badda" stroke="#414042" stroke-width="0.5"/>
<circle cx="72.55" cy="876.3" r="2.5" fill="#8badda" stroke="#414042" stroke-width="0.5"/>
<circle cx="71.35" cy="879.74" r="2.5" fill="#8badda" stroke="#414042" stroke-width="0.5"/>
<line x1="82.75" y1="871.92" x2="82.75" y2="877.47" stroke="#414042" stroke-width="0.6"/>
<line x1="80.95" y1="871.92" x2="84.55" y2="871.92" stroke="#414042" stroke-width="0.6"/>
<rect x="79.5" y="877.47" width="6.5" height="42.93" fill="#a0a0a0" stroke="#414042" stroke-width="0.5"/>
<circle cx="82.75" cy="868.87" r="2.5" fill="#a0a0a0" stroke="#414042" stroke-width="0.5"/>
<circle cx="83.35" cy="878.8" r="2.5" fill="#a0a0a0" stroke="#414042" stroke-width="0.5"/>
<circle cx="82.75" cy="881.93" r="2.5" fill="#a0a0a0" stroke="#414042" stroke-width="0.5"/>
<rect x="89.9" y="918.68" width="6.5" height="1.72" fill="#686868" stroke="#414042" stroke-width="0.5"/>
<circle cx="92.35" cy="918.68" r="2.5" fill="#686868" stroke="#414042" stroke-width="0.5"/>
<circle cx="93.95" cy="918.68" r="2.5" fill="#686868" stroke="#414042" stroke-width="0.5"/>
<line x1="82.75" y1="920.4" x2="82.75" y2="925.2" stroke="#6d6e71" stroke-width="0.8"/>
<text x="86.35" y="934.7" font-size="10.5" text-anchor="end" fill="#231f20" transform="rotate(-45 86.35 934.7)"><tspan font-size="10.5" dy="0">Mock</tspan></text>
<path d="M72,859.6 V852.4 H82.6 V861.5" fill="none" stroke="#9d9fa2" stroke-width="0.7"/>
<text x="77.3" y="850.5" font-size="7.6" text-anchor="middle" fill="#231f20" textLength="10" lengthAdjust="spacingAndGlyphs" style="stroke-width:0.08px">NS</text>
<path d="M82.6,830.8 V821.4 H93.3 V906.5" fill="none" stroke="#9d9fa2" stroke-width="0.7"/>
<text x="88.55" y="819.4" font-size="7.6" text-anchor="middle" fill="#231f20" textLength="26.7" lengthAdjust="spacingAndGlyphs" style="stroke-width:0.08px">&lt;0.0001</text>
<line x1="110.45" y1="871.92" x2="110.45" y2="875.04" stroke="#414042" stroke-width="0.6"/>
<line x1="108.65" y1="871.92" x2="112.25" y2="871.92" stroke="#414042" stroke-width="0.6"/>
<rect x="107.2" y="875.04" width="6.5" height="45.36" fill="#8badda" stroke="#414042" stroke-width="0.5"/>
<circle cx="110.45" cy="868.87" r="2.5" fill="#8badda" stroke="#414042" stroke-width="0.5"/>
<circle cx="110.85" cy="876.92" r="2.5" fill="#8badda" stroke="#414042" stroke-width="0.5"/>
<circle cx="109.65" cy="877.39" r="2.5" fill="#8badda" stroke="#414042" stroke-width="0.5"/>
<line x1="121.25" y1="873.48" x2="121.25" y2="878.95" stroke="#414042" stroke-width="0.6"/>
<line x1="119.45" y1="873.48" x2="123.05" y2="873.48" stroke="#414042" stroke-width="0.6"/>
<rect x="118" y="878.95" width="6.5" height="41.45" fill="#a0a0a0" stroke="#414042" stroke-width="0.5"/>
<circle cx="121.25" cy="873.64" r="2.5" fill="#a0a0a0" stroke="#414042" stroke-width="0.5"/>
<circle cx="121.85" cy="881.93" r="2.5" fill="#a0a0a0" stroke="#414042" stroke-width="0.5"/>
<circle cx="120.85" cy="882.39" r="2.5" fill="#a0a0a0" stroke="#414042" stroke-width="0.5"/>
<rect x="128.4" y="918.68" width="6.5" height="1.72" fill="#686868" stroke="#414042" stroke-width="0.5"/>
<circle cx="130.85" cy="918.68" r="2.5" fill="#686868" stroke="#414042" stroke-width="0.5"/>
<circle cx="132.45" cy="918.68" r="2.5" fill="#686868" stroke="#414042" stroke-width="0.5"/>
<line x1="121.25" y1="920.4" x2="121.25" y2="925.2" stroke="#6d6e71" stroke-width="0.8"/>
<text x="127.05" y="934.3" font-size="10.5" text-anchor="end" fill="#231f20" transform="rotate(-45 127.05 934.3)"><tspan font-size="10.5" dy="0">Ep2</tspan><tspan font-size="6.3" dy="-4">−/−</tspan></text>
<path d="M110.6,859.6 V852.4 H121.4 V864" fill="none" stroke="#9d9fa2" stroke-width="0.7"/>
<text x="116" y="850.5" font-size="7.6" text-anchor="middle" fill="#231f20" textLength="10" lengthAdjust="spacingAndGlyphs" style="stroke-width:0.08px">NS</text>
<path d="M121.4,830.8 V821.4 H132.2 V906.5" fill="none" stroke="#9d9fa2" stroke-width="0.7"/>
<text x="127.4" y="819.4" font-size="7.6" text-anchor="middle" fill="#231f20" textLength="26.7" lengthAdjust="spacingAndGlyphs" style="stroke-width:0.08px">&lt;0.0001</text>
<line x1="149.45" y1="870.35" x2="149.45" y2="873.48" stroke="#414042" stroke-width="0.6"/>
<line x1="147.65" y1="870.35" x2="151.25" y2="870.35" stroke="#414042" stroke-width="0.6"/>
<rect x="146.2" y="873.48" width="6.5" height="46.92" fill="#8badda" stroke="#414042" stroke-width="0.5"/>
<circle cx="149.45" cy="865.82" r="2.5" fill="#8badda" stroke="#414042" stroke-width="0.5"/>
<circle cx="149.05" cy="876.53" r="2.5" fill="#8badda" stroke="#414042" stroke-width="0.5"/>
<circle cx="150.05" cy="876.92" r="2.5" fill="#8badda" stroke="#414042" stroke-width="0.5"/>
<line x1="160.25" y1="871.92" x2="160.25" y2="878.17" stroke="#414042" stroke-width="0.6"/>
<line x1="158.45" y1="871.92" x2="162.05" y2="871.92" stroke="#414042" stroke-width="0.6"/>
<rect x="157" y="878.17" width="6.5" height="42.23" fill="#a0a0a0" stroke="#414042" stroke-width="0.5"/>
<circle cx="160.25" cy="869.96" r="2.5" fill="#a0a0a0" stroke="#414042" stroke-width="0.5"/>
<circle cx="160.85" cy="882" r="2.5" fill="#a0a0a0" stroke="#414042" stroke-width="0.5"/>
<circle cx="159.65" cy="882.39" r="2.5" fill="#a0a0a0" stroke="#414042" stroke-width="0.5"/>
<rect x="167.4" y="918.68" width="6.5" height="1.72" fill="#686868" stroke="#414042" stroke-width="0.5"/>
<circle cx="169.85" cy="918.68" r="2.5" fill="#686868" stroke="#414042" stroke-width="0.5"/>
<circle cx="171.45" cy="918.68" r="2.5" fill="#686868" stroke="#414042" stroke-width="0.5"/>
<line x1="160.25" y1="920.4" x2="160.25" y2="925.2" stroke="#6d6e71" stroke-width="0.8"/>
<text x="166.05" y="934.3" font-size="10.5" text-anchor="end" fill="#231f20" transform="rotate(-45 166.05 934.3)"><tspan font-size="10.5" dy="0">Ep4</tspan><tspan font-size="6.3" dy="-4">−/−</tspan></text>
<path d="M149.3,856.5 V846 H157 V860.8" fill="none" stroke="#9d9fa2" stroke-width="0.7"/>
<text x="153.15" y="844.1" font-size="7.6" text-anchor="middle" fill="#231f20" textLength="10" lengthAdjust="spacingAndGlyphs" style="stroke-width:0.08px">NS</text>
<path d="M163.6,831.7 V821.4 H171 V906.5" fill="none" stroke="#9d9fa2" stroke-width="0.7"/>
<text x="167.9" y="819.4" font-size="7.6" text-anchor="middle" fill="#231f20" textLength="26.7" lengthAdjust="spacingAndGlyphs" style="stroke-width:0.08px">&lt;0.0001</text>
<line x1="188.55" y1="876.61" x2="188.55" y2="880.21" stroke="#414042" stroke-width="0.6"/>
<line x1="186.75" y1="876.61" x2="190.35" y2="876.61" stroke="#414042" stroke-width="0.6"/>
<rect x="185.3" y="880.21" width="6.5" height="40.19" fill="#8badda" stroke="#414042" stroke-width="0.5"/>
<circle cx="188.55" cy="871.99" r="2.5" fill="#8badda" stroke="#414042" stroke-width="0.5"/>
<circle cx="188.85" cy="883.02" r="2.5" fill="#8badda" stroke="#414042" stroke-width="0.5"/>
<circle cx="188.05" cy="883.41" r="2.5" fill="#8badda" stroke="#414042" stroke-width="0.5"/>
<line x1="199.35" y1="879.74" x2="199.35" y2="883.72" stroke="#414042" stroke-width="0.6"/>
<line x1="197.55" y1="879.74" x2="201.15" y2="879.74" stroke="#414042" stroke-width="0.6"/>
<rect x="196.1" y="883.72" width="6.5" height="36.68" fill="#a0a0a0" stroke="#414042" stroke-width="0.5"/>
<circle cx="199.35" cy="875.04" r="2.5" fill="#a0a0a0" stroke="#414042" stroke-width="0.5"/>
<circle cx="199.85" cy="886.38" r="2.5" fill="#a0a0a0" stroke="#414042" stroke-width="0.5"/>
<circle cx="198.85" cy="886.77" r="2.5" fill="#a0a0a0" stroke="#414042" stroke-width="0.5"/>
<rect x="206.5" y="918.68" width="6.5" height="1.72" fill="#686868" stroke="#414042" stroke-width="0.5"/>
<circle cx="208.95" cy="918.68" r="2.5" fill="#686868" stroke="#414042" stroke-width="0.5"/>
<circle cx="210.55" cy="918.68" r="2.5" fill="#686868" stroke="#414042" stroke-width="0.5"/>
<line x1="199.35" y1="920.4" x2="199.35" y2="925.2" stroke="#6d6e71" stroke-width="0.8"/>
<text x="205.15" y="934.3" font-size="10.5" text-anchor="end" fill="#231f20" transform="rotate(-45 205.15 934.3)"><tspan font-size="10.5" dy="0">Ep2</tspan><tspan font-size="6.3" dy="-4">−/−</tspan><tspan font-size="10.5" dy="4">Ep4</tspan><tspan font-size="6.3" dy="-4">−/−</tspan></text>
<path d="M188.4,862 V846 H195.5 V865.8" fill="none" stroke="#9d9fa2" stroke-width="0.7"/>
<text x="191.95" y="844.1" font-size="7.6" text-anchor="middle" fill="#231f20" textLength="10" lengthAdjust="spacingAndGlyphs" style="stroke-width:0.08px">NS</text>
<path d="M202.7,831.7 V821.4 H210.1 V906.5" fill="none" stroke="#9d9fa2" stroke-width="0.7"/>
<text x="207" y="819.4" font-size="7.6" text-anchor="middle" fill="#231f20" textLength="26.7" lengthAdjust="spacingAndGlyphs" style="stroke-width:0.08px">&lt;0.0001</text>
<text x="19.8" y="870.3" font-size="11" text-anchor="middle" fill="#231f20" transform="rotate(-90 19.8 870.3)"><tspan>CD25</tspan><tspan font-size="6.4" dy="-3.8">+</tspan><tspan dy="3.8"> cells</tspan></text>
<text x="30.6" y="870.3" font-size="10.6" text-anchor="middle" fill="#231f20" transform="rotate(-90 30.3 870.3)"><tspan>(% of CD3</tspan><tspan font-size="6.4" dy="-3.8">+</tspan><tspan dy="3.8">)</tspan></text>
<text x="243.5" y="812.7" font-size="16" text-anchor="start" fill="#000" font-weight="bold">j</text>
<line x1="303.6" y1="818.7" x2="303.6" y2="920.8" stroke="#bcbec0" stroke-width="0.8"/>
<line x1="303.2" y1="920.4" x2="455.8" y2="920.4" stroke="#6d6e71" stroke-width="0.8"/>
<line x1="298.5" y1="920.4" x2="303.6" y2="920.4" stroke="#6d6e71" stroke-width="0.8"/>
<text x="293.3" y="923.6" font-size="9" text-anchor="end" fill="#231f20">0</text>
<line x1="298.5" y1="881.3" x2="303.6" y2="881.3" stroke="#6d6e71" stroke-width="0.8"/>
<text x="293.3" y="884.5" font-size="9" text-anchor="end" fill="#231f20">50</text>
<line x1="298.5" y1="842.2" x2="303.6" y2="842.2" stroke="#6d6e71" stroke-width="0.8"/>
<text x="293.3" y="845.4" font-size="9" text-anchor="end" fill="#231f20">100</text>
<rect x="307.2" y="857.61" width="6.5" height="62.79" fill="#8badda" stroke="#414042" stroke-width="0.5"/>
<circle cx="310.05" cy="858.62" r="2.5" fill="#8badda" stroke="#414042" stroke-width="0.5"/>
<circle cx="311.05" cy="857.84" r="2.5" fill="#8badda" stroke="#414042" stroke-width="0.5"/>
<rect x="318" y="855.88" width="6.5" height="64.51" fill="#a0a0a0" stroke="#414042" stroke-width="0.5"/>
<circle cx="320.65" cy="855.49" r="2.5" fill="#a0a0a0" stroke="#414042" stroke-width="0.5"/>
<circle cx="321.85" cy="855.1" r="2.5" fill="#a0a0a0" stroke="#414042" stroke-width="0.5"/>
<rect x="328.4" y="901.79" width="6.5" height="18.61" fill="#686868" stroke="#414042" stroke-width="0.5"/>
<circle cx="331.95" cy="900.54" r="2.5" fill="#686868" stroke="#414042" stroke-width="0.5"/>
<circle cx="331.35" cy="904.21" r="2.5" fill="#686868" stroke="#414042" stroke-width="0.5"/>
<line x1="321.25" y1="920.4" x2="321.25" y2="925.2" stroke="#6d6e71" stroke-width="0.8"/>
<text x="324.85" y="934.7" font-size="10.5" text-anchor="end" fill="#231f20" transform="rotate(-45 324.85 934.7)"><tspan font-size="10.5" dy="0">Mock</tspan></text>
<path d="M310.5,847.8 V840.4 H321.1 V844.7" fill="none" stroke="#9d9fa2" stroke-width="0.7"/>
<text x="315.8" y="838.5" font-size="7.6" text-anchor="middle" fill="#231f20" textLength="10" lengthAdjust="spacingAndGlyphs" style="stroke-width:0.08px">NS</text>
<path d="M321.1,824.9 V822.4 H331.6 V889.4" fill="none" stroke="#9d9fa2" stroke-width="0.7"/>
<text x="326.95" y="819.4" font-size="7.6" text-anchor="middle" fill="#231f20" textLength="26.7" lengthAdjust="spacingAndGlyphs" style="stroke-width:0.08px">&lt;0.0001</text>
<rect x="346" y="857.06" width="6.5" height="63.34" fill="#8badda" stroke="#414042" stroke-width="0.5"/>
<circle cx="349.25" cy="857.06" r="2.5" fill="#8badda" stroke="#414042" stroke-width="0.5"/>
<circle cx="349.65" cy="856.67" r="2.5" fill="#8badda" stroke="#414042" stroke-width="0.5"/>
<rect x="356.8" y="855.88" width="6.5" height="64.51" fill="#a0a0a0" stroke="#414042" stroke-width="0.5"/>
<circle cx="359.75" cy="855.1" r="2.5" fill="#a0a0a0" stroke="#414042" stroke-width="0.5"/>
<circle cx="360.55" cy="854.71" r="2.5" fill="#a0a0a0" stroke="#414042" stroke-width="0.5"/>
<rect x="367.2" y="901.79" width="6.5" height="18.61" fill="#686868" stroke="#414042" stroke-width="0.5"/>
<circle cx="370.75" cy="900.54" r="2.5" fill="#686868" stroke="#414042" stroke-width="0.5"/>
<circle cx="370.15" cy="904.21" r="2.5" fill="#686868" stroke="#414042" stroke-width="0.5"/>
<line x1="360.05" y1="920.4" x2="360.05" y2="925.2" stroke="#6d6e71" stroke-width="0.8"/>
<text x="365.85" y="934.3" font-size="10.5" text-anchor="end" fill="#231f20" transform="rotate(-45 365.85 934.3)"><tspan font-size="10.5" dy="0">Ep2</tspan><tspan font-size="6.3" dy="-4">−/−</tspan></text>
<path d="M349.4,846 V840.4 H359.6 V844" fill="none" stroke="#9d9fa2" stroke-width="0.7"/>
<text x="354.5" y="838.5" font-size="7.6" text-anchor="middle" fill="#231f20" textLength="10" lengthAdjust="spacingAndGlyphs" style="stroke-width:0.08px">NS</text>
<path d="M359.6,824.9 V822.4 H370.7 V889.4" fill="none" stroke="#9d9fa2" stroke-width="0.7"/>
<text x="365.75" y="819.4" font-size="7.6" text-anchor="middle" fill="#231f20" textLength="26.7" lengthAdjust="spacingAndGlyphs" style="stroke-width:0.08px">&lt;0.0001</text>
<rect x="385.2" y="862.53" width="6.5" height="57.87" fill="#8badda" stroke="#414042" stroke-width="0.5"/>
<circle cx="388.45" cy="862.53" r="2.5" fill="#8badda" stroke="#414042" stroke-width="0.5"/>
<circle cx="388.95" cy="862.14" r="2.5" fill="#8badda" stroke="#414042" stroke-width="0.5"/>
<rect x="396" y="857.06" width="6.5" height="63.34" fill="#a0a0a0" stroke="#414042" stroke-width="0.5"/>
<circle cx="399.25" cy="853.77" r="2.5" fill="#a0a0a0" stroke="#414042" stroke-width="0.5"/>
<circle cx="399.85" cy="857.53" r="2.5" fill="#a0a0a0" stroke="#414042" stroke-width="0.5"/>
<circle cx="398.75" cy="857.06" r="2.5" fill="#a0a0a0" stroke="#414042" stroke-width="0.5"/>
<rect x="406.4" y="901.79" width="6.5" height="18.61" fill="#686868" stroke="#414042" stroke-width="0.5"/>
<circle cx="409.95" cy="900.54" r="2.5" fill="#686868" stroke="#414042" stroke-width="0.5"/>
<circle cx="409.35" cy="904.21" r="2.5" fill="#686868" stroke="#414042" stroke-width="0.5"/>
<line x1="399.25" y1="920.4" x2="399.25" y2="925.2" stroke="#6d6e71" stroke-width="0.8"/>
<text x="405.05" y="934.3" font-size="10.5" text-anchor="end" fill="#231f20" transform="rotate(-45 405.05 934.3)"><tspan font-size="10.5" dy="0">Ep4</tspan><tspan font-size="6.3" dy="-4">−/−</tspan></text>
<path d="M388.4,852.1 V840.4 H398.9 V844.7" fill="none" stroke="#9d9fa2" stroke-width="0.7"/>
<text x="393.65" y="838.5" font-size="7.6" text-anchor="middle" fill="#231f20" textLength="22.3" lengthAdjust="spacingAndGlyphs" style="stroke-width:0.08px">0.0315</text>
<path d="M398.9,824.9 V822.4 H409.5 V889.4" fill="none" stroke="#9d9fa2" stroke-width="0.7"/>
<text x="404.8" y="819.4" font-size="7.6" text-anchor="middle" fill="#231f20" textLength="26.7" lengthAdjust="spacingAndGlyphs" style="stroke-width:0.08px">&lt;0.0001</text>
<rect x="424" y="860.11" width="6.5" height="60.29" fill="#8badda" stroke="#414042" stroke-width="0.5"/>
<circle cx="427.25" cy="855.49" r="2.5" fill="#8badda" stroke="#414042" stroke-width="0.5"/>
<circle cx="427.75" cy="859.64" r="2.5" fill="#8badda" stroke="#414042" stroke-width="0.5"/>
<circle cx="426.75" cy="859.64" r="2.5" fill="#8badda" stroke="#414042" stroke-width="0.5"/>
<rect x="434.8" y="860.11" width="6.5" height="60.29" fill="#a0a0a0" stroke="#414042" stroke-width="0.5"/>
<circle cx="438.05" cy="853.93" r="2.5" fill="#a0a0a0" stroke="#414042" stroke-width="0.5"/>
<circle cx="438.65" cy="859.64" r="2.5" fill="#a0a0a0" stroke="#414042" stroke-width="0.5"/>
<circle cx="437.45" cy="859.64" r="2.5" fill="#a0a0a0" stroke="#414042" stroke-width="0.5"/>
<rect x="445.2" y="901.24" width="6.5" height="19.16" fill="#686868" stroke="#414042" stroke-width="0.5"/>
<circle cx="448.75" cy="900.07" r="2.5" fill="#686868" stroke="#414042" stroke-width="0.5"/>
<circle cx="448.15" cy="903.2" r="2.5" fill="#686868" stroke="#414042" stroke-width="0.5"/>
<line x1="438.05" y1="920.4" x2="438.05" y2="925.2" stroke="#6d6e71" stroke-width="0.8"/>
<text x="443.85" y="934.3" font-size="10.5" text-anchor="end" fill="#231f20" transform="rotate(-45 443.85 934.3)"><tspan font-size="10.5" dy="0">Ep2</tspan><tspan font-size="6.3" dy="-4">−/−</tspan><tspan font-size="10.5" dy="4">Ep4</tspan><tspan font-size="6.3" dy="-4">−/−</tspan></text>
<path d="M427.4,847.2 V840.4 H437.7 V845.3" fill="none" stroke="#9d9fa2" stroke-width="0.7"/>
<text x="432.55" y="838.5" font-size="7.6" text-anchor="middle" fill="#231f20" textLength="10" lengthAdjust="spacingAndGlyphs" style="stroke-width:0.08px">NS</text>
<path d="M437.7,824.9 V822.4 H448.2 V889.4" fill="none" stroke="#9d9fa2" stroke-width="0.7"/>
<text x="443.55" y="819.4" font-size="7.6" text-anchor="middle" fill="#231f20" textLength="26.7" lengthAdjust="spacingAndGlyphs" style="stroke-width:0.08px">&lt;0.0001</text>
<text x="258.5" y="870.3" font-size="11" text-anchor="middle" fill="#231f20" transform="rotate(-90 258.5 870.3)"><tspan>CD69</tspan><tspan font-size="6.4" dy="-3.8">+</tspan><tspan dy="3.8"> cells</tspan></text>
<text x="269.3" y="870.3" font-size="10.6" text-anchor="middle" fill="#231f20" transform="rotate(-90 269 870.3)"><tspan>(% of CD3</tspan><tspan font-size="6.4" dy="-3.8">+</tspan><tspan dy="3.8">)</tspan></text>
<rect x="472.2" y="841.4" width="9.4" height="9.2" fill="#8badda" stroke="#414042" stroke-width="0.6"/>
<rect x="472.2" y="856.1" width="9.4" height="9.2" fill="#a0a0a0" stroke="#414042" stroke-width="0.6"/>
<rect x="472.2" y="870.3" width="9.4" height="9.2" fill="#686868" stroke="#414042" stroke-width="0.6"/>
<text x="487" y="849.2" font-size="9.8" fill="#231f20"><tspan textLength="110" lengthAdjust="spacingAndGlyphs">Rec. HER2 + 500 ng ml</tspan><tspan font-size="6.4" dy="-3.8">−1</tspan><tspan x="607.2" font-size="9.8" dy="3.8" textLength="20" lengthAdjust="spacingAndGlyphs">PGE</tspan><tspan font-size="6.4" dy="2.2">2</tspan></text>
<text x="487" y="864" font-size="9.8" text-anchor="start" fill="#231f20" textLength="93.5" lengthAdjust="spacingAndGlyphs">Rec. HER2 + vehicle</text>
<text x="487" y="878.1" font-size="9.8" text-anchor="start" fill="#231f20" textLength="93.5" lengthAdjust="spacingAndGlyphs">PBS + BSA + vehicle</text>
</svg></body></html>
